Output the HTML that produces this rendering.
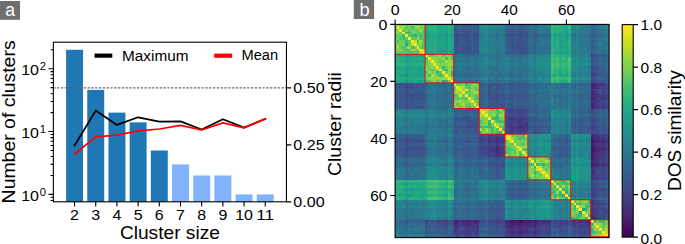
<!DOCTYPE html>
<html><head><meta charset="utf-8"><style>
html,body{margin:0;padding:0;background:#fff;width:685px;height:244px;overflow:hidden}
svg{display:block}
text{font-family:"Liberation Sans",sans-serif;fill:#000}
</style></head><body>
<svg width="685" height="244" viewBox="0 0 685 244" font-family="Liberation Sans, sans-serif">
<defs><linearGradient id="cb" x1="0" y1="0" x2="0" y2="1"><stop offset="0.00" stop-color="#fde725"/><stop offset="0.05" stop-color="#dfe318"/><stop offset="0.10" stop-color="#bddf26"/><stop offset="0.15" stop-color="#9bd93c"/><stop offset="0.20" stop-color="#7ad151"/><stop offset="0.25" stop-color="#5ec962"/><stop offset="0.30" stop-color="#44bf70"/><stop offset="0.35" stop-color="#2fb47c"/><stop offset="0.40" stop-color="#22a884"/><stop offset="0.45" stop-color="#1e9c89"/><stop offset="0.50" stop-color="#21918c"/><stop offset="0.55" stop-color="#25848e"/><stop offset="0.60" stop-color="#2a788e"/><stop offset="0.65" stop-color="#2f6c8e"/><stop offset="0.70" stop-color="#355f8d"/><stop offset="0.75" stop-color="#3b528b"/><stop offset="0.80" stop-color="#414487"/><stop offset="0.85" stop-color="#463480"/><stop offset="0.90" stop-color="#482475"/><stop offset="0.95" stop-color="#471365"/><stop offset="1.00" stop-color="#440154"/></linearGradient></defs>
<rect x="0" y="0" width="685" height="244" fill="#fff"/>
<rect x="0" y="1" width="20" height="18.8" fill="#6f6f6f"/>
<text x="10.15" y="15.8" font-size="17.6" text-anchor="middle" style="fill:#fff">a</text>
<rect x="66.08" y="49.78" width="16.95" height="152.02" fill="#1f77b4"/>
<rect x="87.27" y="89.90" width="16.95" height="111.90" fill="#1f77b4"/>
<rect x="108.46" y="112.63" width="16.95" height="89.17" fill="#1f77b4"/>
<rect x="129.65" y="122.37" width="16.95" height="79.43" fill="#1f77b4"/>
<rect x="150.84" y="150.47" width="16.95" height="51.33" fill="#1f77b4"/>
<rect x="172.03" y="164.41" width="16.95" height="37.39" fill="#80b3fb"/>
<rect x="193.22" y="175.48" width="16.95" height="26.32" fill="#80b3fb"/>
<rect x="214.41" y="175.48" width="16.95" height="26.32" fill="#80b3fb"/>
<rect x="235.59" y="194.40" width="16.95" height="7.40" fill="#80b3fb"/>
<rect x="256.78" y="194.40" width="16.95" height="7.40" fill="#80b3fb"/>
<line x1="53.36" y1="87.9" x2="286.45" y2="87.9" stroke="#666" stroke-width="1.1" stroke-dasharray="2.3 1.5"/>
<polyline points="74.55,145.50 95.74,110.60 116.93,124.90 138.12,117.30 159.31,121.70 180.50,121.40 201.69,129.50 222.88,119.20 244.07,127.60 265.26,118.80" fill="none" stroke="#000" stroke-width="1.75" stroke-linejoin="round" stroke-linecap="square"/>
<polyline points="74.55,154.20 95.74,136.90 116.93,135.20 138.12,130.90 159.31,129.00 180.50,125.40 201.69,130.00 222.88,122.90 244.07,127.80 265.26,119.00" fill="none" stroke="#ff0000" stroke-width="1.75" stroke-linejoin="round" stroke-linecap="square"/>
<line x1="94.5" y1="55.65" x2="112.3" y2="55.65" stroke="#000" stroke-width="4.2"/>
<line x1="214.2" y1="55.7" x2="232.2" y2="55.7" stroke="#ff0000" stroke-width="4.2"/>
<text x="122.0" y="60.6" font-size="15.2" text-anchor="start" textLength="66.5" lengthAdjust="spacingAndGlyphs">Maximum</text>
<text x="241.6" y="60.3" font-size="15.2" text-anchor="start" textLength="36.5" lengthAdjust="spacingAndGlyphs">Mean</text>
<rect x="53.36" y="42.2" width="233.09" height="159.60" fill="none" stroke="#000" stroke-width="1.1"/>
<path d="M74.55 201.8V206.60000000000002M95.74 201.8V206.60000000000002M116.93 201.8V206.60000000000002M138.12 201.8V206.60000000000002M159.31 201.8V206.60000000000002M180.50 201.8V206.60000000000002M201.69 201.8V206.60000000000002M222.88 201.8V206.60000000000002M244.07 201.8V206.60000000000002M265.26 201.8V206.60000000000002M48.46 194.40H53.36M48.46 131.55H53.36M48.46 68.70H53.36M50.56 200.49H53.36M50.56 197.28H53.36M50.56 175.48H53.36M50.56 164.41H53.36M50.56 156.56H53.36M50.56 150.47H53.36M50.56 145.49H53.36M50.56 141.29H53.36M50.56 137.64H53.36M50.56 134.43H53.36M50.56 112.63H53.36M50.56 101.56H53.36M50.56 93.71H53.36M50.56 87.62H53.36M50.56 82.64H53.36M50.56 78.44H53.36M50.56 74.79H53.36M50.56 71.58H53.36M50.56 49.78H53.36M286.45 201.90H291.25M286.45 144.90H291.25M286.45 87.90H291.25" stroke="#000" stroke-width="1.1" fill="none"/>
<text x="74.55" y="219.9" font-size="15.2" text-anchor="middle" textLength="8.9" lengthAdjust="spacingAndGlyphs">2</text>
<text x="95.74" y="219.9" font-size="15.2" text-anchor="middle" textLength="8.9" lengthAdjust="spacingAndGlyphs">3</text>
<text x="116.93" y="219.9" font-size="15.2" text-anchor="middle" textLength="8.9" lengthAdjust="spacingAndGlyphs">4</text>
<text x="138.12" y="219.9" font-size="15.2" text-anchor="middle" textLength="8.9" lengthAdjust="spacingAndGlyphs">5</text>
<text x="159.31" y="219.9" font-size="15.2" text-anchor="middle" textLength="8.9" lengthAdjust="spacingAndGlyphs">6</text>
<text x="180.50" y="219.9" font-size="15.2" text-anchor="middle" textLength="8.9" lengthAdjust="spacingAndGlyphs">7</text>
<text x="201.69" y="219.9" font-size="15.2" text-anchor="middle" textLength="8.9" lengthAdjust="spacingAndGlyphs">8</text>
<text x="222.88" y="219.9" font-size="15.2" text-anchor="middle" textLength="8.9" lengthAdjust="spacingAndGlyphs">9</text>
<text x="244.07" y="219.9" font-size="15.2" text-anchor="middle" textLength="17.8" lengthAdjust="spacingAndGlyphs">10</text>
<text x="265.26" y="219.9" font-size="15.2" text-anchor="middle" textLength="17.8" lengthAdjust="spacingAndGlyphs">11</text>
<text x="21.2" y="200.70" font-size="15.2" text-anchor="start" textLength="17.8" lengthAdjust="spacingAndGlyphs">10</text>
<text x="39.8" y="195.70" font-size="10.0" text-anchor="start" textLength="6.2" lengthAdjust="spacingAndGlyphs">0</text>
<text x="21.2" y="137.85" font-size="15.2" text-anchor="start" textLength="17.8" lengthAdjust="spacingAndGlyphs">10</text>
<text x="39.8" y="132.85" font-size="10.0" text-anchor="start" textLength="6.2" lengthAdjust="spacingAndGlyphs">1</text>
<text x="21.2" y="75.00" font-size="15.2" text-anchor="start" textLength="17.8" lengthAdjust="spacingAndGlyphs">10</text>
<text x="39.8" y="70.00" font-size="10.0" text-anchor="start" textLength="6.2" lengthAdjust="spacingAndGlyphs">2</text>
<text x="293.3" y="207.10" font-size="15.2" text-anchor="start" textLength="31.3" lengthAdjust="spacingAndGlyphs">0.00</text>
<text x="293.3" y="150.10" font-size="15.2" text-anchor="start" textLength="31.3" lengthAdjust="spacingAndGlyphs">0.25</text>
<text x="293.3" y="93.10" font-size="15.2" text-anchor="start" textLength="31.3" lengthAdjust="spacingAndGlyphs">0.50</text>
<text x="169.9" y="238.5" font-size="18.2" text-anchor="middle" textLength="100.0" lengthAdjust="spacingAndGlyphs">Cluster size</text>
<text transform="translate(15.3 121.9) rotate(-90)" font-size="18.2" text-anchor="middle" textLength="163" lengthAdjust="spacingAndGlyphs">Number of clusters</text>
<text transform="translate(341.2 124.1) rotate(-90)" font-size="18.2" text-anchor="middle" textLength="104" lengthAdjust="spacingAndGlyphs">Cluster radii</text>
<rect x="353.8" y="0" width="20.3" height="19" fill="#6f6f6f"/>
<text x="364.6" y="15.5" font-size="18.2" text-anchor="middle" style="fill:#fff">b</text>
<clipPath id="hc"><rect x="395.1" y="24.4" width="214.00" height="213.20"/></clipPath>
<g clip-path="url(#hc)"><g transform="translate(395.1 24.4) scale(2.85500 2.85100)" shape-rendering="crispEdges"><path fill="#471063" d="M68.5 40.5H69.5V41.5H68.5zM68.5 43.5H69.5V44.5H68.5zM40.5 68.5H41.5V69.5H40.5zM43.5 68.5H44.5V69.5H43.5z"/><path fill="#48186a" d="M68.5 42.5H69.5V43.5H68.5zM68.5 44.5H69.5V45.5H68.5zM68.5 46.5H69.5V47.5H68.5zM68.5 48.5H69.5V49.5H68.5zM42.5 68.5H43.5V69.5H42.5zM44.5 68.5H45.5V69.5H44.5zM46.5 68.5H47.5V69.5H46.5zM48.5 68.5H49.5V69.5H48.5z"/><path fill="#481f70" d="M68.5 20.5H69.5V21.5H68.5zM68.5 21.5H69.5V22.5H68.5zM68.5 27.5H69.5V28.5H68.5zM68.5 39.5H69.5V40.5H68.5zM69.5 40.5H70.5V41.5H69.5zM68.5 41.5H69.5V42.5H68.5zM69.5 42.5H70.5V43.5H69.5zM69.5 43.5H70.5V44.5H69.5zM68.5 45.5H69.5V46.5H68.5zM69.5 48.5H70.5V49.5H69.5zM20.5 68.5H22.5V69.5H20.5zM27.5 68.5H28.5V69.5H27.5zM39.5 68.5H40.5V69.5H39.5zM41.5 68.5H42.5V69.5H41.5zM45.5 68.5H46.5V69.5H45.5zM40.5 69.5H41.5V70.5H40.5zM42.5 69.5H44.5V70.5H42.5zM48.5 69.5H49.5V70.5H48.5z"/><path fill="#482576" d="M69.5 20.5H70.5V21.5H69.5zM68.5 23.5H69.5V24.5H68.5zM68.5 24.5H69.5V25.5H68.5zM68.5 25.5H70.5V26.5H68.5zM68.5 28.5H69.5V29.5H68.5zM43.5 35.5H44.5V36.5H43.5zM68.5 38.5H69.5V39.5H68.5zM70.5 39.5H71.5V40.5H70.5zM70.5 40.5H71.5V41.5H70.5zM72.5 40.5H73.5V41.5H72.5zM74.5 40.5H75.5V41.5H74.5zM35.5 43.5H36.5V44.5H35.5zM70.5 43.5H71.5V44.5H70.5zM72.5 43.5H73.5V44.5H72.5zM74.5 43.5H75.5V44.5H74.5zM69.5 44.5H70.5V45.5H69.5zM69.5 45.5H70.5V46.5H69.5zM68.5 47.5H69.5V48.5H68.5zM70.5 48.5H71.5V49.5H70.5zM72.5 48.5H73.5V49.5H72.5zM68.5 49.5H69.5V50.5H68.5zM68.5 51.5H69.5V52.5H68.5zM68.5 67.5H69.5V68.5H68.5zM23.5 68.5H26.5V69.5H23.5zM28.5 68.5H29.5V69.5H28.5zM38.5 68.5H39.5V69.5H38.5zM47.5 68.5H48.5V69.5H47.5zM49.5 68.5H50.5V69.5H49.5zM51.5 68.5H52.5V69.5H51.5zM67.5 68.5H68.5V69.5H67.5zM20.5 69.5H21.5V70.5H20.5zM25.5 69.5H26.5V70.5H25.5zM44.5 69.5H46.5V70.5H44.5zM39.5 70.5H41.5V71.5H39.5zM43.5 70.5H44.5V71.5H43.5zM48.5 70.5H49.5V71.5H48.5zM40.5 72.5H41.5V73.5H40.5zM43.5 72.5H44.5V73.5H43.5zM48.5 72.5H49.5V73.5H48.5zM40.5 74.5H41.5V75.5H40.5zM43.5 74.5H44.5V75.5H43.5z"/><path fill="#472d7b" d="M69.5 21.5H70.5V22.5H69.5zM69.5 24.5H71.5V25.5H69.5zM68.5 26.5H69.5V27.5H68.5zM69.5 28.5H70.5V29.5H69.5zM69.5 39.5H70.5V40.5H69.5zM74.5 39.5H75.5V40.5H74.5zM69.5 41.5H70.5V42.5H69.5zM70.5 42.5H71.5V43.5H70.5zM74.5 42.5H75.5V43.5H74.5zM71.5 43.5H72.5V44.5H71.5zM70.5 44.5H71.5V45.5H70.5zM74.5 44.5H75.5V45.5H74.5zM74.5 45.5H75.5V46.5H74.5zM69.5 46.5H71.5V47.5H69.5zM74.5 48.5H75.5V49.5H74.5zM69.5 49.5H70.5V50.5H69.5zM68.5 52.5H69.5V53.5H68.5zM68.5 53.5H69.5V54.5H68.5zM68.5 64.5H69.5V65.5H68.5zM68.5 66.5H69.5V67.5H68.5zM69.5 67.5H70.5V68.5H69.5zM26.5 68.5H27.5V69.5H26.5zM52.5 68.5H54.5V69.5H52.5zM64.5 68.5H65.5V69.5H64.5zM66.5 68.5H67.5V69.5H66.5zM21.5 69.5H22.5V70.5H21.5zM24.5 69.5H25.5V70.5H24.5zM28.5 69.5H29.5V70.5H28.5zM39.5 69.5H40.5V70.5H39.5zM41.5 69.5H42.5V70.5H41.5zM46.5 69.5H47.5V70.5H46.5zM49.5 69.5H50.5V70.5H49.5zM67.5 69.5H68.5V70.5H67.5zM24.5 70.5H25.5V71.5H24.5zM42.5 70.5H43.5V71.5H42.5zM44.5 70.5H45.5V71.5H44.5zM46.5 70.5H47.5V71.5H46.5zM43.5 71.5H44.5V72.5H43.5zM39.5 74.5H40.5V75.5H39.5zM42.5 74.5H43.5V75.5H42.5zM44.5 74.5H46.5V75.5H44.5zM48.5 74.5H49.5V75.5H48.5z"/><path fill="#46337f" d="M70.5 20.5H73.5V21.5H70.5zM74.5 20.5H75.5V21.5H74.5zM70.5 21.5H71.5V22.5H70.5zM74.5 21.5H75.5V22.5H74.5zM68.5 22.5H69.5V23.5H68.5zM69.5 23.5H70.5V24.5H69.5zM74.5 24.5H75.5V25.5H74.5zM74.5 25.5H75.5V26.5H74.5zM70.5 26.5H71.5V27.5H70.5zM69.5 27.5H70.5V28.5H69.5zM70.5 28.5H71.5V29.5H70.5zM72.5 28.5H73.5V29.5H72.5zM74.5 28.5H75.5V29.5H74.5zM40.5 32.5H41.5V33.5H40.5zM43.5 33.5H44.5V34.5H43.5zM39.5 35.5H41.5V36.5H39.5zM42.5 35.5H43.5V36.5H42.5zM44.5 35.5H46.5V36.5H44.5zM40.5 36.5H41.5V37.5H40.5zM69.5 38.5H71.5V39.5H69.5zM74.5 38.5H75.5V39.5H74.5zM35.5 39.5H36.5V40.5H35.5zM72.5 39.5H73.5V40.5H72.5zM32.5 40.5H33.5V41.5H32.5zM35.5 40.5H37.5V41.5H35.5zM71.5 40.5H72.5V41.5H71.5zM73.5 40.5H74.5V41.5H73.5zM70.5 41.5H71.5V42.5H70.5zM72.5 41.5H73.5V42.5H72.5zM74.5 41.5H75.5V42.5H74.5zM35.5 42.5H36.5V43.5H35.5zM71.5 42.5H73.5V43.5H71.5zM33.5 43.5H34.5V44.5H33.5zM35.5 44.5H36.5V45.5H35.5zM71.5 44.5H73.5V45.5H71.5zM35.5 45.5H36.5V46.5H35.5zM70.5 45.5H73.5V46.5H70.5zM74.5 46.5H75.5V47.5H74.5zM69.5 47.5H71.5V48.5H69.5zM74.5 49.5H75.5V50.5H74.5zM68.5 50.5H69.5V51.5H68.5zM69.5 51.5H70.5V52.5H69.5zM68.5 61.5H69.5V62.5H68.5zM68.5 62.5H69.5V63.5H68.5zM68.5 65.5H69.5V66.5H68.5zM22.5 68.5H23.5V69.5H22.5zM50.5 68.5H51.5V69.5H50.5zM61.5 68.5H63.5V69.5H61.5zM65.5 68.5H66.5V69.5H65.5zM23.5 69.5H24.5V70.5H23.5zM27.5 69.5H28.5V70.5H27.5zM38.5 69.5H39.5V70.5H38.5zM47.5 69.5H48.5V70.5H47.5zM51.5 69.5H52.5V70.5H51.5zM20.5 70.5H22.5V71.5H20.5zM26.5 70.5H27.5V71.5H26.5zM28.5 70.5H29.5V71.5H28.5zM38.5 70.5H39.5V71.5H38.5zM41.5 70.5H42.5V71.5H41.5zM45.5 70.5H46.5V71.5H45.5zM47.5 70.5H48.5V71.5H47.5zM20.5 71.5H21.5V72.5H20.5zM40.5 71.5H41.5V72.5H40.5zM42.5 71.5H43.5V72.5H42.5zM44.5 71.5H46.5V72.5H44.5zM20.5 72.5H21.5V73.5H20.5zM28.5 72.5H29.5V73.5H28.5zM39.5 72.5H40.5V73.5H39.5zM41.5 72.5H43.5V73.5H41.5zM44.5 72.5H46.5V73.5H44.5zM40.5 73.5H41.5V74.5H40.5zM20.5 74.5H22.5V75.5H20.5zM24.5 74.5H26.5V75.5H24.5zM28.5 74.5H29.5V75.5H28.5zM38.5 74.5H39.5V75.5H38.5zM41.5 74.5H42.5V75.5H41.5zM46.5 74.5H47.5V75.5H46.5zM49.5 74.5H50.5V75.5H49.5z"/><path fill="#443983" d="M68.5 17.5H69.5V18.5H68.5zM72.5 23.5H73.5V24.5H72.5zM74.5 23.5H75.5V24.5H74.5zM72.5 24.5H73.5V25.5H72.5zM70.5 25.5H73.5V26.5H70.5zM69.5 26.5H70.5V27.5H69.5zM74.5 26.5H75.5V27.5H74.5zM70.5 27.5H71.5V28.5H70.5zM72.5 27.5H73.5V28.5H72.5zM74.5 27.5H75.5V28.5H74.5zM71.5 28.5H72.5V29.5H71.5zM39.5 32.5H40.5V33.5H39.5zM43.5 32.5H45.5V33.5H43.5zM40.5 33.5H41.5V34.5H40.5zM39.5 34.5H41.5V35.5H39.5zM43.5 34.5H46.5V35.5H43.5zM41.5 35.5H42.5V36.5H41.5zM68.5 35.5H69.5V36.5H68.5zM42.5 36.5H46.5V37.5H42.5zM39.5 37.5H41.5V38.5H39.5zM43.5 37.5H44.5V38.5H43.5zM72.5 38.5H73.5V39.5H72.5zM32.5 39.5H33.5V40.5H32.5zM34.5 39.5H35.5V40.5H34.5zM37.5 39.5H38.5V40.5H37.5zM71.5 39.5H72.5V40.5H71.5zM33.5 40.5H35.5V41.5H33.5zM37.5 40.5H38.5V41.5H37.5zM35.5 41.5H36.5V42.5H35.5zM71.5 41.5H72.5V42.5H71.5zM36.5 42.5H37.5V43.5H36.5zM73.5 42.5H74.5V43.5H73.5zM32.5 43.5H33.5V44.5H32.5zM34.5 43.5H35.5V44.5H34.5zM36.5 43.5H38.5V44.5H36.5zM73.5 43.5H74.5V44.5H73.5zM32.5 44.5H33.5V45.5H32.5zM34.5 44.5H35.5V45.5H34.5zM36.5 44.5H37.5V45.5H36.5zM34.5 45.5H35.5V46.5H34.5zM36.5 45.5H37.5V46.5H36.5zM72.5 46.5H73.5V47.5H72.5zM72.5 47.5H73.5V48.5H72.5zM74.5 47.5H75.5V48.5H74.5zM71.5 48.5H72.5V49.5H71.5zM73.5 48.5H74.5V49.5H73.5zM70.5 49.5H71.5V50.5H70.5zM72.5 49.5H73.5V50.5H72.5zM69.5 50.5H70.5V51.5H69.5zM74.5 51.5H75.5V52.5H74.5zM69.5 52.5H70.5V53.5H69.5zM69.5 53.5H71.5V54.5H69.5zM68.5 55.5H69.5V56.5H68.5zM68.5 57.5H69.5V58.5H68.5zM68.5 59.5H69.5V60.5H68.5zM69.5 62.5H71.5V63.5H69.5zM68.5 63.5H69.5V64.5H68.5zM69.5 64.5H70.5V65.5H69.5zM74.5 64.5H75.5V65.5H74.5zM70.5 65.5H71.5V66.5H70.5zM69.5 66.5H70.5V67.5H69.5zM70.5 67.5H71.5V68.5H70.5zM74.5 67.5H75.5V68.5H74.5zM17.5 68.5H18.5V69.5H17.5zM35.5 68.5H36.5V69.5H35.5zM55.5 68.5H56.5V69.5H55.5zM57.5 68.5H58.5V69.5H57.5zM59.5 68.5H60.5V69.5H59.5zM63.5 68.5H64.5V69.5H63.5zM26.5 69.5H27.5V70.5H26.5zM50.5 69.5H51.5V70.5H50.5zM52.5 69.5H54.5V70.5H52.5zM62.5 69.5H63.5V70.5H62.5zM64.5 69.5H65.5V70.5H64.5zM66.5 69.5H67.5V70.5H66.5zM25.5 70.5H26.5V71.5H25.5zM27.5 70.5H28.5V71.5H27.5zM49.5 70.5H50.5V71.5H49.5zM53.5 70.5H54.5V71.5H53.5zM62.5 70.5H63.5V71.5H62.5zM65.5 70.5H66.5V71.5H65.5zM67.5 70.5H68.5V71.5H67.5zM25.5 71.5H26.5V72.5H25.5zM28.5 71.5H29.5V72.5H28.5zM39.5 71.5H40.5V72.5H39.5zM41.5 71.5H42.5V72.5H41.5zM48.5 71.5H49.5V72.5H48.5zM23.5 72.5H26.5V73.5H23.5zM27.5 72.5H28.5V73.5H27.5zM38.5 72.5H39.5V73.5H38.5zM46.5 72.5H48.5V73.5H46.5zM49.5 72.5H50.5V73.5H49.5zM42.5 73.5H44.5V74.5H42.5zM48.5 73.5H49.5V74.5H48.5zM23.5 74.5H24.5V75.5H23.5zM26.5 74.5H28.5V75.5H26.5zM47.5 74.5H48.5V75.5H47.5zM51.5 74.5H52.5V75.5H51.5zM64.5 74.5H65.5V75.5H64.5zM67.5 74.5H68.5V75.5H67.5z"/><path fill="#424086" d="M43.5 3.5H44.5V4.5H43.5zM68.5 10.5H69.5V11.5H68.5zM68.5 14.5H69.5V15.5H68.5zM68.5 16.5H69.5V17.5H68.5zM71.5 21.5H74.5V22.5H71.5zM69.5 22.5H70.5V23.5H69.5zM74.5 22.5H75.5V23.5H74.5zM70.5 23.5H71.5V24.5H70.5zM71.5 24.5H72.5V25.5H71.5zM73.5 24.5H74.5V25.5H73.5zM73.5 25.5H74.5V26.5H73.5zM71.5 26.5H72.5V27.5H71.5zM39.5 29.5H41.5V30.5H39.5zM42.5 29.5H44.5V30.5H42.5zM40.5 30.5H41.5V31.5H40.5zM43.5 30.5H44.5V31.5H43.5zM41.5 32.5H43.5V33.5H41.5zM45.5 32.5H46.5V33.5H45.5zM42.5 33.5H43.5V34.5H42.5zM44.5 33.5H45.5V34.5H44.5zM68.5 33.5H69.5V34.5H68.5zM42.5 34.5H43.5V35.5H42.5zM38.5 35.5H39.5V36.5H38.5zM39.5 36.5H40.5V37.5H39.5zM68.5 36.5H69.5V37.5H68.5zM42.5 37.5H43.5V38.5H42.5zM44.5 37.5H46.5V38.5H44.5zM35.5 38.5H36.5V39.5H35.5zM73.5 38.5H74.5V39.5H73.5zM29.5 39.5H30.5V40.5H29.5zM36.5 39.5H37.5V40.5H36.5zM73.5 39.5H74.5V40.5H73.5zM29.5 40.5H31.5V41.5H29.5zM32.5 41.5H33.5V42.5H32.5zM73.5 41.5H74.5V42.5H73.5zM29.5 42.5H30.5V43.5H29.5zM32.5 42.5H35.5V43.5H32.5zM37.5 42.5H38.5V43.5H37.5zM3.5 43.5H4.5V44.5H3.5zM29.5 43.5H31.5V44.5H29.5zM33.5 44.5H34.5V45.5H33.5zM37.5 44.5H38.5V45.5H37.5zM73.5 44.5H74.5V45.5H73.5zM32.5 45.5H33.5V46.5H32.5zM37.5 45.5H38.5V46.5H37.5zM73.5 45.5H74.5V46.5H73.5zM71.5 46.5H72.5V47.5H71.5zM71.5 49.5H72.5V50.5H71.5zM73.5 49.5H74.5V50.5H73.5zM70.5 50.5H71.5V51.5H70.5zM74.5 50.5H75.5V51.5H74.5zM70.5 52.5H71.5V53.5H70.5zM72.5 52.5H73.5V53.5H72.5zM74.5 52.5H75.5V53.5H74.5zM72.5 53.5H73.5V54.5H72.5zM74.5 53.5H75.5V54.5H74.5zM69.5 57.5H71.5V58.5H69.5zM68.5 58.5H70.5V59.5H68.5zM69.5 59.5H70.5V60.5H69.5zM69.5 61.5H70.5V62.5H69.5zM72.5 62.5H73.5V63.5H72.5zM74.5 62.5H75.5V63.5H74.5zM70.5 64.5H71.5V65.5H70.5zM72.5 64.5H73.5V65.5H72.5zM69.5 65.5H70.5V66.5H69.5zM74.5 65.5H75.5V66.5H74.5zM70.5 66.5H71.5V67.5H70.5zM74.5 66.5H75.5V67.5H74.5zM72.5 67.5H73.5V68.5H72.5zM10.5 68.5H11.5V69.5H10.5zM14.5 68.5H15.5V69.5H14.5zM16.5 68.5H17.5V69.5H16.5zM33.5 68.5H34.5V69.5H33.5zM36.5 68.5H37.5V69.5H36.5zM58.5 68.5H59.5V69.5H58.5zM22.5 69.5H23.5V70.5H22.5zM57.5 69.5H60.5V70.5H57.5zM61.5 69.5H62.5V70.5H61.5zM65.5 69.5H66.5V70.5H65.5zM23.5 70.5H24.5V71.5H23.5zM50.5 70.5H51.5V71.5H50.5zM52.5 70.5H53.5V71.5H52.5zM57.5 70.5H58.5V71.5H57.5zM64.5 70.5H65.5V71.5H64.5zM66.5 70.5H67.5V71.5H66.5zM21.5 71.5H22.5V72.5H21.5zM24.5 71.5H25.5V72.5H24.5zM26.5 71.5H27.5V72.5H26.5zM46.5 71.5H47.5V72.5H46.5zM49.5 71.5H50.5V72.5H49.5zM21.5 72.5H22.5V73.5H21.5zM52.5 72.5H54.5V73.5H52.5zM62.5 72.5H63.5V73.5H62.5zM64.5 72.5H65.5V73.5H64.5zM67.5 72.5H68.5V73.5H67.5zM21.5 73.5H22.5V74.5H21.5zM24.5 73.5H26.5V74.5H24.5zM38.5 73.5H40.5V74.5H38.5zM41.5 73.5H42.5V74.5H41.5zM44.5 73.5H46.5V74.5H44.5zM49.5 73.5H50.5V74.5H49.5zM22.5 74.5H23.5V75.5H22.5zM50.5 74.5H51.5V75.5H50.5zM52.5 74.5H54.5V75.5H52.5zM62.5 74.5H63.5V75.5H62.5zM65.5 74.5H67.5V75.5H65.5z"/><path fill="#404688" d="M21.5 3.5H22.5V4.5H21.5zM28.5 3.5H29.5V4.5H28.5zM39.5 3.5H41.5V4.5H39.5zM68.5 15.5H69.5V16.5H68.5zM69.5 17.5H70.5V18.5H69.5zM68.5 19.5H69.5V20.5H68.5zM3.5 21.5H4.5V22.5H3.5zM70.5 22.5H71.5V23.5H70.5zM72.5 22.5H73.5V23.5H72.5zM72.5 26.5H73.5V27.5H72.5zM71.5 27.5H72.5V28.5H71.5zM3.5 28.5H4.5V29.5H3.5zM35.5 28.5H36.5V29.5H35.5zM73.5 28.5H74.5V29.5H73.5zM41.5 29.5H42.5V30.5H41.5zM44.5 29.5H46.5V30.5H44.5zM68.5 29.5H69.5V30.5H68.5zM39.5 30.5H40.5V31.5H39.5zM42.5 30.5H43.5V31.5H42.5zM44.5 30.5H45.5V31.5H44.5zM43.5 31.5H44.5V32.5H43.5zM38.5 32.5H39.5V33.5H38.5zM68.5 32.5H69.5V33.5H68.5zM38.5 33.5H40.5V34.5H38.5zM45.5 33.5H46.5V34.5H45.5zM38.5 34.5H39.5V35.5H38.5zM68.5 34.5H70.5V35.5H68.5zM28.5 35.5H29.5V36.5H28.5zM48.5 35.5H49.5V36.5H48.5zM69.5 35.5H71.5V36.5H69.5zM41.5 37.5H42.5V38.5H41.5zM48.5 37.5H49.5V38.5H48.5zM68.5 37.5H69.5V38.5H68.5zM32.5 38.5H35.5V39.5H32.5zM71.5 38.5H72.5V39.5H71.5zM3.5 39.5H4.5V40.5H3.5zM30.5 39.5H31.5V40.5H30.5zM33.5 39.5H34.5V40.5H33.5zM3.5 40.5H4.5V41.5H3.5zM29.5 41.5H30.5V42.5H29.5zM37.5 41.5H38.5V42.5H37.5zM30.5 42.5H31.5V43.5H30.5zM31.5 43.5H32.5V44.5H31.5zM29.5 44.5H31.5V45.5H29.5zM29.5 45.5H30.5V46.5H29.5zM33.5 45.5H34.5V46.5H33.5zM73.5 46.5H74.5V47.5H73.5zM71.5 47.5H72.5V48.5H71.5zM73.5 47.5H74.5V48.5H73.5zM35.5 48.5H36.5V49.5H35.5zM37.5 48.5H38.5V49.5H37.5zM71.5 50.5H73.5V51.5H71.5zM70.5 51.5H71.5V52.5H70.5zM72.5 51.5H73.5V52.5H72.5zM71.5 52.5H72.5V53.5H71.5zM71.5 53.5H72.5V54.5H71.5zM69.5 55.5H70.5V56.5H69.5zM68.5 56.5H69.5V57.5H68.5zM74.5 57.5H75.5V58.5H74.5zM74.5 59.5H75.5V60.5H74.5zM70.5 61.5H71.5V62.5H70.5zM74.5 61.5H75.5V62.5H74.5zM70.5 63.5H71.5V64.5H70.5zM71.5 64.5H72.5V65.5H71.5zM72.5 65.5H73.5V66.5H72.5zM72.5 66.5H73.5V67.5H72.5zM71.5 67.5H72.5V68.5H71.5zM15.5 68.5H16.5V69.5H15.5zM19.5 68.5H20.5V69.5H19.5zM29.5 68.5H30.5V69.5H29.5zM32.5 68.5H33.5V69.5H32.5zM34.5 68.5H35.5V69.5H34.5zM37.5 68.5H38.5V69.5H37.5zM56.5 68.5H57.5V69.5H56.5zM17.5 69.5H18.5V70.5H17.5zM34.5 69.5H36.5V70.5H34.5zM55.5 69.5H56.5V70.5H55.5zM22.5 70.5H23.5V71.5H22.5zM35.5 70.5H36.5V71.5H35.5zM51.5 70.5H52.5V71.5H51.5zM61.5 70.5H62.5V71.5H61.5zM63.5 70.5H64.5V71.5H63.5zM27.5 71.5H28.5V72.5H27.5zM38.5 71.5H39.5V72.5H38.5zM47.5 71.5H48.5V72.5H47.5zM50.5 71.5H51.5V72.5H50.5zM52.5 71.5H54.5V72.5H52.5zM64.5 71.5H65.5V72.5H64.5zM67.5 71.5H68.5V72.5H67.5zM22.5 72.5H23.5V73.5H22.5zM26.5 72.5H27.5V73.5H26.5zM50.5 72.5H52.5V73.5H50.5zM65.5 72.5H67.5V73.5H65.5zM28.5 73.5H29.5V74.5H28.5zM46.5 73.5H48.5V74.5H46.5zM57.5 74.5H58.5V75.5H57.5zM59.5 74.5H60.5V75.5H59.5zM61.5 74.5H62.5V75.5H61.5z"/><path fill="#3e4c8a" d="M20.5 1.5H21.5V2.5H20.5zM20.5 3.5H21.5V4.5H20.5zM23.5 3.5H26.5V4.5H23.5zM27.5 3.5H28.5V4.5H27.5zM45.5 3.5H46.5V4.5H45.5zM20.5 4.5H21.5V5.5H20.5zM20.5 5.5H22.5V6.5H20.5zM24.5 5.5H25.5V6.5H24.5zM42.5 6.5H43.5V7.5H42.5zM24.5 7.5H26.5V8.5H24.5zM40.5 7.5H41.5V8.5H40.5zM42.5 7.5H44.5V8.5H42.5zM28.5 8.5H29.5V9.5H28.5zM20.5 9.5H21.5V10.5H20.5zM43.5 9.5H44.5V10.5H43.5zM69.5 10.5H70.5V11.5H69.5zM68.5 12.5H69.5V13.5H68.5zM69.5 15.5H70.5V16.5H69.5zM69.5 16.5H70.5V17.5H69.5zM70.5 17.5H71.5V18.5H70.5zM74.5 17.5H75.5V18.5H74.5zM69.5 19.5H70.5V20.5H69.5zM1.5 20.5H2.5V21.5H1.5zM3.5 20.5H6.5V21.5H3.5zM9.5 20.5H10.5V21.5H9.5zM35.5 20.5H36.5V21.5H35.5zM73.5 20.5H74.5V21.5H73.5zM5.5 21.5H6.5V22.5H5.5zM32.5 21.5H33.5V22.5H32.5zM3.5 23.5H4.5V24.5H3.5zM71.5 23.5H72.5V24.5H71.5zM73.5 23.5H74.5V24.5H73.5zM3.5 24.5H4.5V25.5H3.5zM5.5 24.5H6.5V25.5H5.5zM7.5 24.5H8.5V25.5H7.5zM32.5 24.5H33.5V25.5H32.5zM35.5 24.5H36.5V25.5H35.5zM40.5 24.5H41.5V25.5H40.5zM3.5 25.5H4.5V26.5H3.5zM7.5 25.5H8.5V26.5H7.5zM33.5 25.5H34.5V26.5H33.5zM35.5 25.5H36.5V26.5H35.5zM3.5 27.5H4.5V28.5H3.5zM73.5 27.5H74.5V28.5H73.5zM8.5 28.5H9.5V29.5H8.5zM38.5 29.5H39.5V30.5H38.5zM38.5 30.5H39.5V31.5H38.5zM68.5 30.5H69.5V31.5H68.5zM40.5 31.5H41.5V32.5H40.5zM42.5 31.5H43.5V32.5H42.5zM44.5 31.5H46.5V32.5H44.5zM21.5 32.5H22.5V33.5H21.5zM24.5 32.5H25.5V33.5H24.5zM69.5 32.5H70.5V33.5H69.5zM25.5 33.5H26.5V34.5H25.5zM41.5 33.5H42.5V34.5H41.5zM41.5 34.5H42.5V35.5H41.5zM20.5 35.5H21.5V36.5H20.5zM24.5 35.5H26.5V36.5H24.5zM46.5 35.5H47.5V36.5H46.5zM72.5 35.5H73.5V36.5H72.5zM74.5 35.5H75.5V36.5H74.5zM38.5 36.5H39.5V37.5H38.5zM41.5 36.5H42.5V37.5H41.5zM48.5 36.5H49.5V37.5H48.5zM69.5 36.5H70.5V37.5H69.5zM38.5 37.5H39.5V38.5H38.5zM69.5 37.5H71.5V38.5H69.5zM29.5 38.5H31.5V39.5H29.5zM36.5 38.5H38.5V39.5H36.5zM7.5 40.5H8.5V41.5H7.5zM24.5 40.5H25.5V41.5H24.5zM31.5 40.5H32.5V41.5H31.5zM33.5 41.5H35.5V42.5H33.5zM36.5 41.5H37.5V42.5H36.5zM6.5 42.5H8.5V43.5H6.5zM31.5 42.5H32.5V43.5H31.5zM7.5 43.5H8.5V44.5H7.5zM9.5 43.5H10.5V44.5H9.5zM31.5 44.5H32.5V45.5H31.5zM3.5 45.5H4.5V46.5H3.5zM31.5 45.5H32.5V46.5H31.5zM35.5 46.5H36.5V47.5H35.5zM36.5 48.5H37.5V49.5H36.5zM73.5 50.5H74.5V51.5H73.5zM71.5 51.5H72.5V52.5H71.5zM73.5 53.5H74.5V54.5H73.5zM68.5 54.5H69.5V55.5H68.5zM70.5 55.5H71.5V56.5H70.5zM72.5 55.5H73.5V56.5H72.5zM74.5 55.5H75.5V56.5H74.5zM69.5 56.5H70.5V57.5H69.5zM71.5 57.5H73.5V58.5H71.5zM74.5 58.5H75.5V59.5H74.5zM70.5 59.5H71.5V60.5H70.5zM72.5 59.5H73.5V60.5H72.5zM68.5 60.5H70.5V61.5H68.5zM72.5 61.5H73.5V62.5H72.5zM71.5 62.5H72.5V63.5H71.5zM73.5 62.5H74.5V63.5H73.5zM69.5 63.5H70.5V64.5H69.5zM71.5 63.5H73.5V64.5H71.5zM74.5 63.5H75.5V64.5H74.5zM73.5 64.5H74.5V65.5H73.5zM73.5 65.5H74.5V66.5H73.5zM71.5 66.5H72.5V67.5H71.5zM73.5 67.5H74.5V68.5H73.5zM12.5 68.5H13.5V69.5H12.5zM30.5 68.5H31.5V69.5H30.5zM54.5 68.5H55.5V69.5H54.5zM60.5 68.5H61.5V69.5H60.5zM10.5 69.5H11.5V70.5H10.5zM15.5 69.5H17.5V70.5H15.5zM19.5 69.5H20.5V70.5H19.5zM32.5 69.5H33.5V70.5H32.5zM36.5 69.5H38.5V70.5H36.5zM56.5 69.5H57.5V70.5H56.5zM60.5 69.5H61.5V70.5H60.5zM63.5 69.5H64.5V70.5H63.5zM17.5 70.5H18.5V71.5H17.5zM37.5 70.5H38.5V71.5H37.5zM55.5 70.5H56.5V71.5H55.5zM59.5 70.5H60.5V71.5H59.5zM23.5 71.5H24.5V72.5H23.5zM51.5 71.5H52.5V72.5H51.5zM57.5 71.5H58.5V72.5H57.5zM62.5 71.5H64.5V72.5H62.5zM66.5 71.5H67.5V72.5H66.5zM35.5 72.5H36.5V73.5H35.5zM55.5 72.5H56.5V73.5H55.5zM57.5 72.5H58.5V73.5H57.5zM59.5 72.5H60.5V73.5H59.5zM61.5 72.5H62.5V73.5H61.5zM63.5 72.5H64.5V73.5H63.5zM20.5 73.5H21.5V74.5H20.5zM23.5 73.5H24.5V74.5H23.5zM27.5 73.5H28.5V74.5H27.5zM50.5 73.5H51.5V74.5H50.5zM53.5 73.5H54.5V74.5H53.5zM62.5 73.5H63.5V74.5H62.5zM64.5 73.5H66.5V74.5H64.5zM67.5 73.5H68.5V74.5H67.5zM17.5 74.5H18.5V75.5H17.5zM35.5 74.5H36.5V75.5H35.5zM55.5 74.5H56.5V75.5H55.5zM58.5 74.5H59.5V75.5H58.5zM63.5 74.5H64.5V75.5H63.5z"/><path fill="#3b528b" d="M20.5 0H21.5V0.5H20.5zM24.5 0H26.5V0.5H24.5zM28.5 0H29.5V0.5H28.5zM40.5 0H41.5V0.5H40.5zM43.5 0H44.5V0.5H43.5zM24.5 1.5H25.5V2.5H24.5zM40.5 1.5H41.5V2.5H40.5zM43.5 1.5H44.5V2.5H43.5zM24.5 2.5H25.5V3.5H24.5zM40.5 2.5H41.5V3.5H40.5zM44.5 2.5H45.5V3.5H44.5zM22.5 3.5H23.5V4.5H22.5zM26.5 3.5H27.5V4.5H26.5zM41.5 3.5H43.5V4.5H41.5zM44.5 3.5H45.5V4.5H44.5zM21.5 4.5H22.5V5.5H21.5zM23.5 4.5H25.5V5.5H23.5zM28.5 4.5H29.5V5.5H28.5zM40.5 4.5H41.5V5.5H40.5zM43.5 4.5H44.5V5.5H43.5zM25.5 5.5H26.5V6.5H25.5zM27.5 5.5H29.5V6.5H27.5zM40.5 5.5H41.5V6.5H40.5zM43.5 5.5H45.5V6.5H43.5zM21.5 6.5H22.5V7.5H21.5zM24.5 6.5H25.5V7.5H24.5zM28.5 6.5H29.5V7.5H28.5zM40.5 6.5H41.5V7.5H40.5zM43.5 6.5H44.5V7.5H43.5zM20.5 7.5H22.5V8.5H20.5zM28.5 7.5H29.5V8.5H28.5zM44.5 7.5H45.5V8.5H44.5zM20.5 8.5H21.5V9.5H20.5zM23.5 8.5H26.5V9.5H23.5zM40.5 8.5H41.5V9.5H40.5zM43.5 8.5H45.5V9.5H43.5zM21.5 9.5H22.5V10.5H21.5zM23.5 9.5H26.5V10.5H23.5zM28.5 9.5H29.5V10.5H28.5zM40.5 9.5H41.5V10.5H40.5zM44.5 9.5H46.5V10.5H44.5zM70.5 10.5H71.5V11.5H70.5zM72.5 10.5H73.5V11.5H72.5zM74.5 10.5H75.5V11.5H74.5zM68.5 11.5H69.5V12.5H68.5zM69.5 14.5H70.5V15.5H69.5zM70.5 15.5H71.5V16.5H70.5zM70.5 16.5H71.5V17.5H70.5zM74.5 16.5H75.5V17.5H74.5zM68.5 18.5H69.5V19.5H68.5zM70.5 19.5H71.5V20.5H70.5zM72.5 19.5H73.5V20.5H72.5zM74.5 19.5H75.5V20.5H74.5zM0 20.5H0.5V21.5H0zM7.5 20.5H9.5V21.5H7.5zM32.5 20.5H35.5V21.5H32.5zM36.5 20.5H37.5V21.5H36.5zM40.5 20.5H41.5V21.5H40.5zM4.5 21.5H5.5V22.5H4.5zM6.5 21.5H8.5V22.5H6.5zM9.5 21.5H10.5V22.5H9.5zM35.5 21.5H36.5V22.5H35.5zM37.5 21.5H38.5V22.5H37.5zM43.5 21.5H44.5V22.5H43.5zM3.5 22.5H4.5V23.5H3.5zM35.5 22.5H36.5V23.5H35.5zM71.5 22.5H72.5V23.5H71.5zM73.5 22.5H74.5V23.5H73.5zM4.5 23.5H5.5V24.5H4.5zM8.5 23.5H10.5V24.5H8.5zM32.5 23.5H33.5V24.5H32.5zM35.5 23.5H36.5V24.5H35.5zM0 24.5H0.5V25.5H0zM1.5 24.5H3.5V25.5H1.5zM4.5 24.5H5.5V25.5H4.5zM6.5 24.5H7.5V25.5H6.5zM8.5 24.5H10.5V25.5H8.5zM36.5 24.5H38.5V25.5H36.5zM42.5 24.5H45.5V25.5H42.5zM0 25.5H0.5V26.5H0zM5.5 25.5H6.5V26.5H5.5zM8.5 25.5H10.5V26.5H8.5zM32.5 25.5H33.5V26.5H32.5zM34.5 25.5H35.5V26.5H34.5zM37.5 25.5H38.5V26.5H37.5zM40.5 25.5H41.5V26.5H40.5zM43.5 25.5H44.5V26.5H43.5zM45.5 25.5H46.5V26.5H45.5zM3.5 26.5H4.5V27.5H3.5zM35.5 26.5H36.5V27.5H35.5zM73.5 26.5H74.5V27.5H73.5zM5.5 27.5H6.5V28.5H5.5zM33.5 27.5H34.5V28.5H33.5zM36.5 27.5H38.5V28.5H36.5zM0 28.5H0.5V29.5H0zM4.5 28.5H8.5V29.5H4.5zM9.5 28.5H10.5V29.5H9.5zM32.5 28.5H33.5V29.5H32.5zM34.5 28.5H35.5V29.5H34.5zM37.5 28.5H38.5V29.5H37.5zM40.5 28.5H41.5V29.5H40.5zM43.5 28.5H44.5V29.5H43.5zM48.5 29.5H49.5V30.5H48.5zM69.5 29.5H70.5V30.5H69.5zM41.5 30.5H42.5V31.5H41.5zM45.5 30.5H46.5V31.5H45.5zM38.5 31.5H40.5V32.5H38.5zM41.5 31.5H42.5V32.5H41.5zM20.5 32.5H21.5V33.5H20.5zM23.5 32.5H24.5V33.5H23.5zM25.5 32.5H26.5V33.5H25.5zM28.5 32.5H29.5V33.5H28.5zM46.5 32.5H47.5V33.5H46.5zM48.5 32.5H49.5V33.5H48.5zM70.5 32.5H71.5V33.5H70.5zM74.5 32.5H75.5V33.5H74.5zM20.5 33.5H21.5V34.5H20.5zM27.5 33.5H28.5V34.5H27.5zM48.5 33.5H49.5V34.5H48.5zM69.5 33.5H71.5V34.5H69.5zM74.5 33.5H75.5V34.5H74.5zM20.5 34.5H21.5V35.5H20.5zM25.5 34.5H26.5V35.5H25.5zM28.5 34.5H29.5V35.5H28.5zM48.5 34.5H49.5V35.5H48.5zM72.5 34.5H73.5V35.5H72.5zM74.5 34.5H75.5V35.5H74.5zM21.5 35.5H24.5V36.5H21.5zM26.5 35.5H27.5V36.5H26.5zM49.5 35.5H53.5V36.5H49.5zM64.5 35.5H65.5V36.5H64.5zM66.5 35.5H68.5V36.5H66.5zM71.5 35.5H72.5V36.5H71.5zM20.5 36.5H21.5V37.5H20.5zM24.5 36.5H25.5V37.5H24.5zM27.5 36.5H28.5V37.5H27.5zM70.5 36.5H71.5V37.5H70.5zM72.5 36.5H73.5V37.5H72.5zM74.5 36.5H75.5V37.5H74.5zM21.5 37.5H22.5V38.5H21.5zM24.5 37.5H26.5V38.5H24.5zM27.5 37.5H29.5V38.5H27.5zM49.5 37.5H50.5V38.5H49.5zM64.5 37.5H65.5V38.5H64.5zM74.5 37.5H75.5V38.5H74.5zM31.5 38.5H32.5V39.5H31.5zM31.5 39.5H32.5V40.5H31.5zM0 40.5H0.5V41.5H0zM1.5 40.5H3.5V41.5H1.5zM4.5 40.5H7.5V41.5H4.5zM8.5 40.5H10.5V41.5H8.5zM20.5 40.5H21.5V41.5H20.5zM25.5 40.5H26.5V41.5H25.5zM28.5 40.5H29.5V41.5H28.5zM57.5 40.5H58.5V41.5H57.5zM59.5 40.5H60.5V41.5H59.5zM3.5 41.5H4.5V42.5H3.5zM30.5 41.5H32.5V42.5H30.5zM3.5 42.5H4.5V43.5H3.5zM24.5 42.5H25.5V43.5H24.5zM0 43.5H0.5V44.5H0zM1.5 43.5H2.5V44.5H1.5zM4.5 43.5H7.5V44.5H4.5zM8.5 43.5H9.5V44.5H8.5zM21.5 43.5H22.5V44.5H21.5zM24.5 43.5H26.5V44.5H24.5zM28.5 43.5H29.5V44.5H28.5zM57.5 43.5H58.5V44.5H57.5zM59.5 43.5H60.5V44.5H59.5zM2.5 44.5H4.5V45.5H2.5zM5.5 44.5H6.5V45.5H5.5zM7.5 44.5H10.5V45.5H7.5zM24.5 44.5H25.5V45.5H24.5zM59.5 44.5H60.5V45.5H59.5zM9.5 45.5H10.5V46.5H9.5zM25.5 45.5H26.5V46.5H25.5zM30.5 45.5H31.5V46.5H30.5zM32.5 46.5H33.5V47.5H32.5zM29.5 48.5H30.5V49.5H29.5zM32.5 48.5H35.5V49.5H32.5zM35.5 49.5H36.5V50.5H35.5zM37.5 49.5H38.5V50.5H37.5zM35.5 50.5H36.5V51.5H35.5zM35.5 51.5H36.5V52.5H35.5zM73.5 51.5H74.5V52.5H73.5zM35.5 52.5H36.5V53.5H35.5zM73.5 52.5H74.5V53.5H73.5zM69.5 54.5H70.5V55.5H69.5zM70.5 56.5H71.5V57.5H70.5zM40.5 57.5H41.5V58.5H40.5zM43.5 57.5H44.5V58.5H43.5zM73.5 57.5H74.5V58.5H73.5zM70.5 58.5H71.5V59.5H70.5zM72.5 58.5H73.5V59.5H72.5zM40.5 59.5H41.5V60.5H40.5zM43.5 59.5H45.5V60.5H43.5zM71.5 59.5H72.5V60.5H71.5zM71.5 61.5H72.5V62.5H71.5zM35.5 64.5H36.5V65.5H35.5zM37.5 64.5H38.5V65.5H37.5zM71.5 65.5H72.5V66.5H71.5zM35.5 66.5H36.5V67.5H35.5zM73.5 66.5H74.5V67.5H73.5zM35.5 67.5H36.5V68.5H35.5zM11.5 68.5H12.5V69.5H11.5zM18.5 68.5H19.5V69.5H18.5zM14.5 69.5H15.5V70.5H14.5zM29.5 69.5H30.5V70.5H29.5zM33.5 69.5H34.5V70.5H33.5zM54.5 69.5H55.5V70.5H54.5zM10.5 70.5H11.5V71.5H10.5zM15.5 70.5H17.5V71.5H15.5zM19.5 70.5H20.5V71.5H19.5zM32.5 70.5H34.5V71.5H32.5zM36.5 70.5H37.5V71.5H36.5zM56.5 70.5H57.5V71.5H56.5zM58.5 70.5H59.5V71.5H58.5zM22.5 71.5H23.5V72.5H22.5zM35.5 71.5H36.5V72.5H35.5zM59.5 71.5H60.5V72.5H59.5zM61.5 71.5H62.5V72.5H61.5zM65.5 71.5H66.5V72.5H65.5zM10.5 72.5H11.5V73.5H10.5zM19.5 72.5H20.5V73.5H19.5zM34.5 72.5H35.5V73.5H34.5zM36.5 72.5H37.5V73.5H36.5zM58.5 72.5H59.5V73.5H58.5zM22.5 73.5H23.5V74.5H22.5zM26.5 73.5H27.5V74.5H26.5zM51.5 73.5H53.5V74.5H51.5zM57.5 73.5H58.5V74.5H57.5zM66.5 73.5H67.5V74.5H66.5zM10.5 74.5H11.5V75.5H10.5zM16.5 74.5H17.5V75.5H16.5zM19.5 74.5H20.5V75.5H19.5zM32.5 74.5H35.5V75.5H32.5zM36.5 74.5H38.5V75.5H36.5z"/><path fill="#38588c" d="M21.5 0H22.5V0.5H21.5zM23.5 0H24.5V0.5H23.5zM27.5 0H28.5V0.5H27.5zM39.5 0H40.5V0.5H39.5zM42.5 0H43.5V0.5H42.5zM44.5 0H46.5V0.5H44.5zM40.5 0.5H41.5V1.5H40.5zM21.5 1.5H22.5V2.5H21.5zM23.5 1.5H24.5V2.5H23.5zM25.5 1.5H26.5V2.5H25.5zM27.5 1.5H29.5V2.5H27.5zM20.5 2.5H22.5V3.5H20.5zM25.5 2.5H26.5V3.5H25.5zM27.5 2.5H29.5V3.5H27.5zM43.5 2.5H44.5V3.5H43.5zM45.5 2.5H46.5V3.5H45.5zM38.5 3.5H39.5V4.5H38.5zM48.5 3.5H49.5V4.5H48.5zM68.5 3.5H69.5V4.5H68.5zM22.5 4.5H23.5V5.5H22.5zM25.5 4.5H26.5V5.5H25.5zM27.5 4.5H28.5V5.5H27.5zM39.5 4.5H40.5V5.5H39.5zM42.5 4.5H43.5V5.5H42.5zM45.5 4.5H46.5V5.5H45.5zM26.5 5.5H27.5V6.5H26.5zM39.5 5.5H40.5V6.5H39.5zM41.5 5.5H43.5V6.5H41.5zM45.5 5.5H46.5V6.5H45.5zM20.5 6.5H21.5V7.5H20.5zM23.5 6.5H24.5V7.5H23.5zM25.5 6.5H26.5V7.5H25.5zM27.5 6.5H28.5V7.5H27.5zM39.5 6.5H40.5V7.5H39.5zM44.5 6.5H45.5V7.5H44.5zM23.5 7.5H24.5V8.5H23.5zM27.5 7.5H28.5V8.5H27.5zM39.5 7.5H40.5V8.5H39.5zM41.5 7.5H42.5V8.5H41.5zM45.5 7.5H46.5V8.5H45.5zM68.5 7.5H69.5V8.5H68.5zM21.5 8.5H22.5V9.5H21.5zM27.5 8.5H28.5V9.5H27.5zM42.5 8.5H43.5V9.5H42.5zM45.5 8.5H46.5V9.5H45.5zM22.5 9.5H23.5V10.5H22.5zM26.5 9.5H28.5V10.5H26.5zM39.5 9.5H40.5V10.5H39.5zM71.5 10.5H72.5V11.5H71.5zM70.5 11.5H71.5V12.5H70.5zM69.5 12.5H70.5V13.5H69.5zM68.5 13.5H69.5V14.5H68.5zM70.5 14.5H71.5V15.5H70.5zM72.5 14.5H73.5V15.5H72.5zM74.5 14.5H75.5V15.5H74.5zM74.5 15.5H75.5V16.5H74.5zM72.5 16.5H73.5V17.5H72.5zM71.5 17.5H73.5V18.5H71.5zM69.5 18.5H70.5V19.5H69.5zM2.5 20.5H3.5V21.5H2.5zM6.5 20.5H7.5V21.5H6.5zM29.5 20.5H30.5V21.5H29.5zM37.5 20.5H38.5V21.5H37.5zM39.5 20.5H40.5V21.5H39.5zM42.5 20.5H46.5V21.5H42.5zM0 21.5H0.5V22.5H0zM1.5 21.5H3.5V22.5H1.5zM8.5 21.5H9.5V22.5H8.5zM36.5 21.5H37.5V22.5H36.5zM40.5 21.5H41.5V22.5H40.5zM4.5 22.5H5.5V23.5H4.5zM9.5 22.5H10.5V23.5H9.5zM32.5 22.5H33.5V23.5H32.5zM0 23.5H0.5V24.5H0zM1.5 23.5H2.5V24.5H1.5zM6.5 23.5H8.5V24.5H6.5zM34.5 23.5H35.5V24.5H34.5zM37.5 23.5H38.5V24.5H37.5zM40.5 23.5H41.5V24.5H40.5zM43.5 23.5H44.5V24.5H43.5zM45.5 23.5H46.5V24.5H45.5zM29.5 24.5H31.5V25.5H29.5zM33.5 24.5H35.5V25.5H33.5zM39.5 24.5H40.5V25.5H39.5zM45.5 24.5H46.5V25.5H45.5zM1.5 25.5H3.5V26.5H1.5zM4.5 25.5H5.5V26.5H4.5zM6.5 25.5H7.5V26.5H6.5zM29.5 25.5H30.5V26.5H29.5zM36.5 25.5H37.5V26.5H36.5zM39.5 25.5H40.5V26.5H39.5zM42.5 25.5H43.5V26.5H42.5zM44.5 25.5H45.5V26.5H44.5zM5.5 26.5H6.5V27.5H5.5zM9.5 26.5H10.5V27.5H9.5zM33.5 26.5H35.5V27.5H33.5zM37.5 26.5H38.5V27.5H37.5zM43.5 26.5H44.5V27.5H43.5zM0 27.5H0.5V28.5H0zM1.5 27.5H3.5V28.5H1.5zM4.5 27.5H5.5V28.5H4.5zM6.5 27.5H10.5V28.5H6.5zM29.5 27.5H30.5V28.5H29.5zM32.5 27.5H33.5V28.5H32.5zM34.5 27.5H36.5V28.5H34.5zM39.5 27.5H41.5V28.5H39.5zM1.5 28.5H3.5V29.5H1.5zM29.5 28.5H30.5V29.5H29.5zM33.5 28.5H34.5V29.5H33.5zM36.5 28.5H37.5V29.5H36.5zM42.5 28.5H43.5V29.5H42.5zM44.5 28.5H46.5V29.5H44.5zM20.5 29.5H21.5V30.5H20.5zM24.5 29.5H26.5V30.5H24.5zM27.5 29.5H29.5V30.5H27.5zM46.5 29.5H47.5V30.5H46.5zM64.5 29.5H65.5V30.5H64.5zM70.5 29.5H71.5V30.5H70.5zM72.5 29.5H73.5V30.5H72.5zM74.5 29.5H75.5V30.5H74.5zM24.5 30.5H25.5V31.5H24.5zM67.5 30.5H68.5V31.5H67.5zM69.5 30.5H70.5V31.5H69.5zM68.5 31.5H69.5V32.5H68.5zM22.5 32.5H23.5V33.5H22.5zM27.5 32.5H28.5V33.5H27.5zM47.5 32.5H48.5V33.5H47.5zM49.5 32.5H50.5V33.5H49.5zM62.5 32.5H63.5V33.5H62.5zM64.5 32.5H65.5V33.5H64.5zM67.5 32.5H68.5V33.5H67.5zM72.5 32.5H73.5V33.5H72.5zM24.5 33.5H25.5V34.5H24.5zM26.5 33.5H27.5V34.5H26.5zM28.5 33.5H29.5V34.5H28.5zM46.5 33.5H47.5V34.5H46.5zM49.5 33.5H50.5V34.5H49.5zM64.5 33.5H65.5V34.5H64.5zM72.5 33.5H73.5V34.5H72.5zM23.5 34.5H25.5V35.5H23.5zM26.5 34.5H28.5V35.5H26.5zM46.5 34.5H47.5V35.5H46.5zM62.5 34.5H63.5V35.5H62.5zM64.5 34.5H65.5V35.5H64.5zM70.5 34.5H71.5V35.5H70.5zM27.5 35.5H28.5V36.5H27.5zM47.5 35.5H48.5V36.5H47.5zM53.5 35.5H54.5V36.5H53.5zM62.5 35.5H63.5V36.5H62.5zM65.5 35.5H66.5V36.5H65.5zM21.5 36.5H22.5V37.5H21.5zM25.5 36.5H26.5V37.5H25.5zM28.5 36.5H29.5V37.5H28.5zM46.5 36.5H47.5V37.5H46.5zM49.5 36.5H50.5V37.5H49.5zM64.5 36.5H65.5V37.5H64.5zM67.5 36.5H68.5V37.5H67.5zM73.5 36.5H74.5V37.5H73.5zM20.5 37.5H21.5V38.5H20.5zM23.5 37.5H24.5V38.5H23.5zM26.5 37.5H27.5V38.5H26.5zM46.5 37.5H48.5V38.5H46.5zM67.5 37.5H68.5V38.5H67.5zM71.5 37.5H73.5V38.5H71.5zM3.5 38.5H4.5V39.5H3.5zM0 39.5H0.5V40.5H0zM4.5 39.5H8.5V40.5H4.5zM9.5 39.5H10.5V40.5H9.5zM20.5 39.5H21.5V40.5H20.5zM24.5 39.5H26.5V40.5H24.5zM27.5 39.5H28.5V40.5H27.5zM57.5 39.5H58.5V40.5H57.5zM59.5 39.5H60.5V40.5H59.5zM0.5 40.5H1.5V41.5H0.5zM21.5 40.5H22.5V41.5H21.5zM23.5 40.5H24.5V41.5H23.5zM27.5 40.5H28.5V41.5H27.5zM55.5 40.5H56.5V41.5H55.5zM5.5 41.5H6.5V42.5H5.5zM7.5 41.5H8.5V42.5H7.5zM0 42.5H0.5V43.5H0zM4.5 42.5H6.5V43.5H4.5zM8.5 42.5H9.5V43.5H8.5zM20.5 42.5H21.5V43.5H20.5zM25.5 42.5H26.5V43.5H25.5zM28.5 42.5H29.5V43.5H28.5zM55.5 42.5H56.5V43.5H55.5zM57.5 42.5H58.5V43.5H57.5zM59.5 42.5H60.5V43.5H59.5zM2.5 43.5H3.5V44.5H2.5zM20.5 43.5H21.5V44.5H20.5zM23.5 43.5H24.5V44.5H23.5zM26.5 43.5H27.5V44.5H26.5zM55.5 43.5H56.5V44.5H55.5zM58.5 43.5H59.5V44.5H58.5zM0 44.5H0.5V45.5H0zM6.5 44.5H7.5V45.5H6.5zM20.5 44.5H21.5V45.5H20.5zM25.5 44.5H26.5V45.5H25.5zM28.5 44.5H29.5V45.5H28.5zM55.5 44.5H56.5V45.5H55.5zM57.5 44.5H58.5V45.5H57.5zM0 45.5H0.5V46.5H0zM2.5 45.5H3.5V46.5H2.5zM4.5 45.5H6.5V46.5H4.5zM7.5 45.5H9.5V46.5H7.5zM20.5 45.5H21.5V46.5H20.5zM23.5 45.5H25.5V46.5H23.5zM28.5 45.5H29.5V46.5H28.5zM55.5 45.5H56.5V46.5H55.5zM57.5 45.5H58.5V46.5H57.5zM59.5 45.5H60.5V46.5H59.5zM29.5 46.5H30.5V47.5H29.5zM33.5 46.5H35.5V47.5H33.5zM36.5 46.5H38.5V47.5H36.5zM32.5 47.5H33.5V48.5H32.5zM35.5 47.5H36.5V48.5H35.5zM37.5 47.5H38.5V48.5H37.5zM3.5 48.5H4.5V49.5H3.5zM32.5 49.5H34.5V50.5H32.5zM36.5 49.5H37.5V50.5H36.5zM35.5 53.5H36.5V54.5H35.5zM70.5 54.5H71.5V55.5H70.5zM74.5 54.5H75.5V55.5H74.5zM40.5 55.5H41.5V56.5H40.5zM42.5 55.5H46.5V56.5H42.5zM71.5 55.5H72.5V56.5H71.5zM74.5 56.5H75.5V57.5H74.5zM39.5 57.5H40.5V58.5H39.5zM42.5 57.5H43.5V58.5H42.5zM44.5 57.5H46.5V58.5H44.5zM43.5 58.5H44.5V59.5H43.5zM71.5 58.5H72.5V59.5H71.5zM73.5 58.5H74.5V59.5H73.5zM39.5 59.5H40.5V60.5H39.5zM42.5 59.5H43.5V60.5H42.5zM45.5 59.5H46.5V60.5H45.5zM73.5 59.5H74.5V60.5H73.5zM74.5 60.5H75.5V61.5H74.5zM32.5 62.5H33.5V63.5H32.5zM34.5 62.5H36.5V63.5H34.5zM29.5 64.5H30.5V65.5H29.5zM32.5 64.5H35.5V65.5H32.5zM36.5 64.5H37.5V65.5H36.5zM35.5 65.5H36.5V66.5H35.5zM30.5 67.5H31.5V68.5H30.5zM32.5 67.5H33.5V68.5H32.5zM36.5 67.5H38.5V68.5H36.5zM3.5 68.5H4.5V69.5H3.5zM7.5 68.5H8.5V69.5H7.5zM13.5 68.5H14.5V69.5H13.5zM31.5 68.5H32.5V69.5H31.5zM12.5 69.5H13.5V70.5H12.5zM18.5 69.5H19.5V70.5H18.5zM30.5 69.5H31.5V70.5H30.5zM11.5 70.5H12.5V71.5H11.5zM14.5 70.5H15.5V71.5H14.5zM29.5 70.5H30.5V71.5H29.5zM34.5 70.5H35.5V71.5H34.5zM54.5 70.5H55.5V71.5H54.5zM10.5 71.5H11.5V72.5H10.5zM17.5 71.5H18.5V72.5H17.5zM37.5 71.5H38.5V72.5H37.5zM55.5 71.5H56.5V72.5H55.5zM58.5 71.5H59.5V72.5H58.5zM14.5 72.5H15.5V73.5H14.5zM16.5 72.5H18.5V73.5H16.5zM29.5 72.5H30.5V73.5H29.5zM32.5 72.5H34.5V73.5H32.5zM37.5 72.5H38.5V73.5H37.5zM36.5 73.5H37.5V74.5H36.5zM58.5 73.5H60.5V74.5H58.5zM14.5 74.5H16.5V75.5H14.5zM29.5 74.5H30.5V75.5H29.5zM54.5 74.5H55.5V75.5H54.5zM56.5 74.5H57.5V75.5H56.5zM60.5 74.5H61.5V75.5H60.5z"/><path fill="#365d8d" d="M22.5 0H23.5V0.5H22.5zM26.5 0H27.5V0.5H26.5zM41.5 0H42.5V0.5H41.5zM20.5 0.5H22.5V1.5H20.5zM24.5 0.5H25.5V1.5H24.5zM27.5 0.5H29.5V1.5H27.5zM43.5 0.5H45.5V1.5H43.5zM26.5 1.5H27.5V2.5H26.5zM38.5 1.5H40.5V2.5H38.5zM41.5 1.5H43.5V2.5H41.5zM44.5 1.5H46.5V2.5H44.5zM23.5 2.5H24.5V3.5H23.5zM26.5 2.5H27.5V3.5H26.5zM38.5 2.5H40.5V3.5H38.5zM41.5 2.5H43.5V3.5H41.5zM49.5 3.5H50.5V4.5H49.5zM26.5 4.5H27.5V5.5H26.5zM41.5 4.5H42.5V5.5H41.5zM44.5 4.5H45.5V5.5H44.5zM48.5 4.5H49.5V5.5H48.5zM22.5 5.5H24.5V6.5H22.5zM68.5 5.5H69.5V6.5H68.5zM22.5 6.5H23.5V7.5H22.5zM26.5 6.5H27.5V7.5H26.5zM38.5 6.5H39.5V7.5H38.5zM45.5 6.5H46.5V7.5H45.5zM48.5 6.5H49.5V7.5H48.5zM68.5 6.5H69.5V7.5H68.5zM22.5 7.5H23.5V8.5H22.5zM26.5 7.5H27.5V8.5H26.5zM38.5 7.5H39.5V8.5H38.5zM22.5 8.5H23.5V9.5H22.5zM26.5 8.5H27.5V9.5H26.5zM39.5 8.5H40.5V9.5H39.5zM41.5 8.5H42.5V9.5H41.5zM38.5 9.5H39.5V10.5H38.5zM41.5 9.5H43.5V10.5H41.5zM68.5 9.5H69.5V10.5H68.5zM69.5 11.5H70.5V12.5H69.5zM74.5 11.5H75.5V12.5H74.5zM70.5 12.5H71.5V13.5H70.5zM74.5 12.5H75.5V13.5H74.5zM70.5 13.5H71.5V14.5H70.5zM72.5 15.5H73.5V16.5H72.5zM40.5 17.5H41.5V18.5H40.5zM73.5 17.5H74.5V18.5H73.5zM70.5 18.5H71.5V19.5H70.5zM74.5 18.5H75.5V19.5H74.5zM71.5 19.5H72.5V20.5H71.5zM73.5 19.5H74.5V20.5H73.5zM0.5 20.5H1.5V21.5H0.5zM30.5 20.5H31.5V21.5H30.5zM38.5 20.5H39.5V21.5H38.5zM46.5 20.5H47.5V21.5H46.5zM48.5 20.5H49.5V21.5H48.5zM62.5 20.5H63.5V21.5H62.5zM0.5 21.5H1.5V22.5H0.5zM29.5 21.5H30.5V22.5H29.5zM33.5 21.5H34.5V22.5H33.5zM39.5 21.5H40.5V22.5H39.5zM42.5 21.5H43.5V22.5H42.5zM44.5 21.5H46.5V22.5H44.5zM48.5 21.5H49.5V22.5H48.5zM0 22.5H0.5V23.5H0zM5.5 22.5H9.5V23.5H5.5zM34.5 22.5H35.5V23.5H34.5zM36.5 22.5H37.5V23.5H36.5zM40.5 22.5H41.5V23.5H40.5zM2.5 23.5H3.5V24.5H2.5zM5.5 23.5H6.5V24.5H5.5zM29.5 23.5H30.5V24.5H29.5zM33.5 23.5H34.5V24.5H33.5zM36.5 23.5H37.5V24.5H36.5zM42.5 23.5H43.5V24.5H42.5zM44.5 23.5H45.5V24.5H44.5zM0.5 24.5H1.5V25.5H0.5zM41.5 24.5H42.5V25.5H41.5zM48.5 24.5H49.5V25.5H48.5zM67.5 24.5H68.5V25.5H67.5zM38.5 25.5H39.5V26.5H38.5zM48.5 25.5H49.5V26.5H48.5zM67.5 25.5H68.5V26.5H67.5zM0 26.5H0.5V27.5H0zM1.5 26.5H3.5V27.5H1.5zM4.5 26.5H5.5V27.5H4.5zM6.5 26.5H9.5V27.5H6.5zM29.5 26.5H30.5V27.5H29.5zM32.5 26.5H33.5V27.5H32.5zM36.5 26.5H37.5V27.5H36.5zM39.5 26.5H41.5V27.5H39.5zM42.5 26.5H43.5V27.5H42.5zM44.5 26.5H46.5V27.5H44.5zM0.5 27.5H1.5V28.5H0.5zM42.5 27.5H46.5V28.5H42.5zM48.5 27.5H49.5V28.5H48.5zM0.5 28.5H1.5V29.5H0.5zM30.5 28.5H31.5V29.5H30.5zM39.5 28.5H40.5V29.5H39.5zM48.5 28.5H49.5V29.5H48.5zM67.5 28.5H68.5V29.5H67.5zM21.5 29.5H22.5V30.5H21.5zM23.5 29.5H24.5V30.5H23.5zM26.5 29.5H27.5V30.5H26.5zM51.5 29.5H52.5V30.5H51.5zM62.5 29.5H63.5V30.5H62.5zM67.5 29.5H68.5V30.5H67.5zM20.5 30.5H21.5V31.5H20.5zM28.5 30.5H29.5V31.5H28.5zM46.5 30.5H47.5V31.5H46.5zM48.5 30.5H49.5V31.5H48.5zM64.5 30.5H65.5V31.5H64.5zM70.5 30.5H71.5V31.5H70.5zM74.5 30.5H75.5V31.5H74.5zM69.5 31.5H70.5V32.5H69.5zM26.5 32.5H27.5V33.5H26.5zM50.5 32.5H52.5V33.5H50.5zM53.5 32.5H54.5V33.5H53.5zM65.5 32.5H67.5V33.5H65.5zM71.5 32.5H72.5V33.5H71.5zM73.5 32.5H74.5V33.5H73.5zM21.5 33.5H22.5V34.5H21.5zM23.5 33.5H24.5V34.5H23.5zM47.5 33.5H48.5V34.5H47.5zM50.5 33.5H52.5V34.5H50.5zM53.5 33.5H54.5V34.5H53.5zM62.5 33.5H63.5V34.5H62.5zM65.5 33.5H66.5V34.5H65.5zM67.5 33.5H68.5V34.5H67.5zM71.5 33.5H72.5V34.5H71.5zM22.5 34.5H23.5V35.5H22.5zM47.5 34.5H48.5V35.5H47.5zM49.5 34.5H50.5V35.5H49.5zM51.5 34.5H52.5V35.5H51.5zM65.5 34.5H68.5V35.5H65.5zM61.5 35.5H62.5V36.5H61.5zM63.5 35.5H64.5V36.5H63.5zM73.5 35.5H74.5V36.5H73.5zM22.5 36.5H24.5V37.5H22.5zM26.5 36.5H27.5V37.5H26.5zM47.5 36.5H48.5V37.5H47.5zM50.5 36.5H51.5V37.5H50.5zM52.5 36.5H53.5V37.5H52.5zM62.5 36.5H63.5V37.5H62.5zM65.5 36.5H67.5V37.5H65.5zM71.5 36.5H72.5V37.5H71.5zM50.5 37.5H52.5V38.5H50.5zM53.5 37.5H54.5V38.5H53.5zM62.5 37.5H63.5V38.5H62.5zM66.5 37.5H67.5V38.5H66.5zM73.5 37.5H74.5V38.5H73.5zM1.5 38.5H3.5V39.5H1.5zM6.5 38.5H8.5V39.5H6.5zM9.5 38.5H10.5V39.5H9.5zM20.5 38.5H21.5V39.5H20.5zM25.5 38.5H26.5V39.5H25.5zM59.5 38.5H60.5V39.5H59.5zM1.5 39.5H3.5V40.5H1.5zM8.5 39.5H9.5V40.5H8.5zM21.5 39.5H22.5V40.5H21.5zM26.5 39.5H27.5V40.5H26.5zM28.5 39.5H29.5V40.5H28.5zM55.5 39.5H56.5V40.5H55.5zM17.5 40.5H18.5V41.5H17.5zM22.5 40.5H23.5V41.5H22.5zM26.5 40.5H27.5V41.5H26.5zM58.5 40.5H59.5V41.5H58.5zM60.5 40.5H61.5V41.5H60.5zM0 41.5H0.5V42.5H0zM1.5 41.5H3.5V42.5H1.5zM4.5 41.5H5.5V42.5H4.5zM8.5 41.5H10.5V42.5H8.5zM24.5 41.5H25.5V42.5H24.5zM59.5 41.5H60.5V42.5H59.5zM1.5 42.5H3.5V43.5H1.5zM9.5 42.5H10.5V43.5H9.5zM21.5 42.5H22.5V43.5H21.5zM23.5 42.5H24.5V43.5H23.5zM26.5 42.5H28.5V43.5H26.5zM58.5 42.5H59.5V43.5H58.5zM0.5 43.5H1.5V44.5H0.5zM27.5 43.5H28.5V44.5H27.5zM60.5 43.5H61.5V44.5H60.5zM0.5 44.5H2.5V45.5H0.5zM4.5 44.5H5.5V45.5H4.5zM21.5 44.5H22.5V45.5H21.5zM23.5 44.5H24.5V45.5H23.5zM26.5 44.5H28.5V45.5H26.5zM58.5 44.5H59.5V45.5H58.5zM1.5 45.5H2.5V46.5H1.5zM6.5 45.5H7.5V46.5H6.5zM21.5 45.5H22.5V46.5H21.5zM26.5 45.5H28.5V46.5H26.5zM58.5 45.5H59.5V46.5H58.5zM20.5 46.5H21.5V47.5H20.5zM30.5 46.5H31.5V47.5H30.5zM33.5 47.5H35.5V48.5H33.5zM36.5 47.5H37.5V48.5H36.5zM4.5 48.5H5.5V49.5H4.5zM6.5 48.5H7.5V49.5H6.5zM20.5 48.5H22.5V49.5H20.5zM24.5 48.5H26.5V49.5H24.5zM27.5 48.5H29.5V49.5H27.5zM30.5 48.5H31.5V49.5H30.5zM3.5 49.5H4.5V50.5H3.5zM34.5 49.5H35.5V50.5H34.5zM32.5 50.5H34.5V51.5H32.5zM36.5 50.5H38.5V51.5H36.5zM29.5 51.5H30.5V52.5H29.5zM32.5 51.5H35.5V52.5H32.5zM37.5 51.5H38.5V52.5H37.5zM36.5 52.5H37.5V53.5H36.5zM32.5 53.5H34.5V54.5H32.5zM37.5 53.5H38.5V54.5H37.5zM72.5 54.5H73.5V55.5H72.5zM39.5 55.5H40.5V56.5H39.5zM73.5 55.5H74.5V56.5H73.5zM72.5 56.5H73.5V57.5H72.5zM40.5 58.5H41.5V59.5H40.5zM42.5 58.5H43.5V59.5H42.5zM44.5 58.5H46.5V59.5H44.5zM38.5 59.5H39.5V60.5H38.5zM41.5 59.5H42.5V60.5H41.5zM40.5 60.5H41.5V61.5H40.5zM43.5 60.5H44.5V61.5H43.5zM70.5 60.5H71.5V61.5H70.5zM35.5 61.5H36.5V62.5H35.5zM73.5 61.5H74.5V62.5H73.5zM20.5 62.5H21.5V63.5H20.5zM29.5 62.5H30.5V63.5H29.5zM33.5 62.5H34.5V63.5H33.5zM36.5 62.5H38.5V63.5H36.5zM35.5 63.5H36.5V64.5H35.5zM73.5 63.5H74.5V64.5H73.5zM30.5 64.5H31.5V65.5H30.5zM32.5 65.5H35.5V66.5H32.5zM36.5 65.5H37.5V66.5H36.5zM32.5 66.5H33.5V67.5H32.5zM34.5 66.5H35.5V67.5H34.5zM36.5 66.5H38.5V67.5H36.5zM24.5 67.5H26.5V68.5H24.5zM28.5 67.5H30.5V68.5H28.5zM33.5 67.5H35.5V68.5H33.5zM5.5 68.5H7.5V69.5H5.5zM9.5 68.5H10.5V69.5H9.5zM11.5 69.5H12.5V70.5H11.5zM31.5 69.5H32.5V70.5H31.5zM12.5 70.5H14.5V71.5H12.5zM18.5 70.5H19.5V71.5H18.5zM30.5 70.5H31.5V71.5H30.5zM60.5 70.5H61.5V71.5H60.5zM19.5 71.5H20.5V72.5H19.5zM32.5 71.5H34.5V72.5H32.5zM36.5 71.5H37.5V72.5H36.5zM15.5 72.5H16.5V73.5H15.5zM54.5 72.5H55.5V73.5H54.5zM56.5 72.5H57.5V73.5H56.5zM17.5 73.5H18.5V74.5H17.5zM19.5 73.5H20.5V74.5H19.5zM32.5 73.5H33.5V74.5H32.5zM35.5 73.5H36.5V74.5H35.5zM37.5 73.5H38.5V74.5H37.5zM55.5 73.5H56.5V74.5H55.5zM61.5 73.5H62.5V74.5H61.5zM63.5 73.5H64.5V74.5H63.5zM11.5 74.5H13.5V75.5H11.5zM18.5 74.5H19.5V75.5H18.5zM30.5 74.5H31.5V75.5H30.5z"/><path fill="#33638d" d="M38.5 0H39.5V0.5H38.5zM48.5 0H49.5V0.5H48.5zM68.5 0H69.5V0.5H68.5zM23.5 0.5H24.5V1.5H23.5zM25.5 0.5H27.5V1.5H25.5zM42.5 0.5H43.5V1.5H42.5zM45.5 0.5H46.5V1.5H45.5zM22.5 1.5H23.5V2.5H22.5zM68.5 1.5H69.5V2.5H68.5zM22.5 2.5H23.5V3.5H22.5zM48.5 2.5H49.5V3.5H48.5zM68.5 2.5H70.5V3.5H68.5zM46.5 3.5H48.5V4.5H46.5zM51.5 3.5H52.5V4.5H51.5zM69.5 3.5H70.5V4.5H69.5zM74.5 3.5H75.5V4.5H74.5zM38.5 4.5H39.5V5.5H38.5zM68.5 4.5H69.5V5.5H68.5zM38.5 5.5H39.5V6.5H38.5zM48.5 5.5H49.5V6.5H48.5zM41.5 6.5H42.5V7.5H41.5zM46.5 7.5H47.5V8.5H46.5zM48.5 7.5H49.5V8.5H48.5zM69.5 7.5H70.5V8.5H69.5zM38.5 8.5H39.5V9.5H38.5zM48.5 8.5H49.5V9.5H48.5zM68.5 8.5H69.5V9.5H68.5zM48.5 9.5H49.5V10.5H48.5zM20.5 10.5H21.5V11.5H20.5zM24.5 10.5H25.5V11.5H24.5zM43.5 10.5H44.5V11.5H43.5zM73.5 10.5H74.5V11.5H73.5zM72.5 11.5H73.5V12.5H72.5zM72.5 12.5H73.5V13.5H72.5zM69.5 13.5H70.5V14.5H69.5zM72.5 13.5H73.5V14.5H72.5zM74.5 13.5H75.5V14.5H74.5zM71.5 14.5H72.5V15.5H71.5zM71.5 15.5H72.5V16.5H71.5zM71.5 16.5H72.5V17.5H71.5zM73.5 16.5H74.5V17.5H73.5zM20.5 17.5H21.5V18.5H20.5zM24.5 17.5H25.5V18.5H24.5zM43.5 17.5H44.5V18.5H43.5zM73.5 18.5H74.5V19.5H73.5zM20.5 19.5H21.5V20.5H20.5zM10.5 20.5H11.5V21.5H10.5zM17.5 20.5H18.5V21.5H17.5zM19.5 20.5H20.5V21.5H19.5zM31.5 20.5H32.5V21.5H31.5zM41.5 20.5H42.5V21.5H41.5zM49.5 20.5H50.5V21.5H49.5zM64.5 20.5H68.5V21.5H64.5zM30.5 21.5H31.5V22.5H30.5zM34.5 21.5H35.5V22.5H34.5zM41.5 21.5H42.5V22.5H41.5zM46.5 21.5H47.5V22.5H46.5zM49.5 21.5H50.5V22.5H49.5zM62.5 21.5H63.5V22.5H62.5zM1.5 22.5H3.5V23.5H1.5zM33.5 22.5H34.5V23.5H33.5zM39.5 22.5H40.5V23.5H39.5zM41.5 22.5H42.5V23.5H41.5zM43.5 22.5H46.5V23.5H43.5zM0.5 23.5H1.5V24.5H0.5zM30.5 23.5H32.5V24.5H30.5zM39.5 23.5H40.5V24.5H39.5zM41.5 23.5H42.5V24.5H41.5zM48.5 23.5H49.5V24.5H48.5zM10.5 24.5H11.5V25.5H10.5zM17.5 24.5H18.5V25.5H17.5zM31.5 24.5H32.5V25.5H31.5zM38.5 24.5H39.5V25.5H38.5zM46.5 24.5H48.5V25.5H46.5zM57.5 24.5H58.5V25.5H57.5zM62.5 24.5H63.5V25.5H62.5zM64.5 24.5H66.5V25.5H64.5zM0.5 25.5H1.5V26.5H0.5zM30.5 25.5H31.5V26.5H30.5zM41.5 25.5H42.5V26.5H41.5zM46.5 25.5H47.5V26.5H46.5zM64.5 25.5H65.5V26.5H64.5zM0.5 26.5H1.5V27.5H0.5zM30.5 26.5H31.5V27.5H30.5zM46.5 26.5H47.5V27.5H46.5zM48.5 26.5H49.5V27.5H48.5zM38.5 27.5H39.5V28.5H38.5zM49.5 27.5H50.5V28.5H49.5zM67.5 27.5H68.5V28.5H67.5zM31.5 28.5H32.5V29.5H31.5zM38.5 28.5H39.5V29.5H38.5zM41.5 28.5H42.5V29.5H41.5zM46.5 28.5H47.5V29.5H46.5zM49.5 28.5H50.5V29.5H49.5zM62.5 28.5H63.5V29.5H62.5zM64.5 28.5H65.5V29.5H64.5zM47.5 29.5H48.5V30.5H47.5zM49.5 29.5H51.5V30.5H49.5zM52.5 29.5H54.5V30.5H52.5zM61.5 29.5H62.5V30.5H61.5zM65.5 29.5H67.5V30.5H65.5zM71.5 29.5H72.5V30.5H71.5zM21.5 30.5H22.5V31.5H21.5zM23.5 30.5H24.5V31.5H23.5zM25.5 30.5H27.5V31.5H25.5zM47.5 30.5H48.5V31.5H47.5zM49.5 30.5H50.5V31.5H49.5zM51.5 30.5H52.5V31.5H51.5zM62.5 30.5H63.5V31.5H62.5zM65.5 30.5H67.5V31.5H65.5zM72.5 30.5H73.5V31.5H72.5zM20.5 31.5H21.5V32.5H20.5zM23.5 31.5H25.5V32.5H23.5zM28.5 31.5H29.5V32.5H28.5zM48.5 31.5H50.5V32.5H48.5zM70.5 31.5H71.5V32.5H70.5zM72.5 31.5H73.5V32.5H72.5zM74.5 31.5H75.5V32.5H74.5zM61.5 32.5H62.5V33.5H61.5zM22.5 33.5H23.5V34.5H22.5zM52.5 33.5H53.5V34.5H52.5zM63.5 33.5H64.5V34.5H63.5zM66.5 33.5H67.5V34.5H66.5zM73.5 33.5H74.5V34.5H73.5zM21.5 34.5H22.5V35.5H21.5zM50.5 34.5H51.5V35.5H50.5zM52.5 34.5H54.5V35.5H52.5zM61.5 34.5H62.5V35.5H61.5zM71.5 34.5H72.5V35.5H71.5zM73.5 34.5H74.5V35.5H73.5zM51.5 36.5H52.5V37.5H51.5zM53.5 36.5H54.5V37.5H53.5zM61.5 36.5H62.5V37.5H61.5zM52.5 37.5H53.5V38.5H52.5zM65.5 37.5H66.5V38.5H65.5zM0 38.5H0.5V39.5H0zM4.5 38.5H6.5V39.5H4.5zM8.5 38.5H9.5V39.5H8.5zM24.5 38.5H25.5V39.5H24.5zM27.5 38.5H29.5V39.5H27.5zM22.5 39.5H24.5V40.5H22.5zM58.5 39.5H59.5V40.5H58.5zM56.5 40.5H57.5V41.5H56.5zM6.5 41.5H7.5V42.5H6.5zM20.5 41.5H24.5V42.5H20.5zM25.5 41.5H26.5V42.5H25.5zM28.5 41.5H29.5V42.5H28.5zM55.5 41.5H56.5V42.5H55.5zM57.5 41.5H59.5V42.5H57.5zM0.5 42.5H1.5V43.5H0.5zM10.5 43.5H11.5V44.5H10.5zM17.5 43.5H18.5V44.5H17.5zM22.5 43.5H23.5V44.5H22.5zM54.5 43.5H55.5V44.5H54.5zM56.5 43.5H57.5V44.5H56.5zM22.5 44.5H23.5V45.5H22.5zM0.5 45.5H1.5V46.5H0.5zM22.5 45.5H23.5V46.5H22.5zM56.5 45.5H57.5V46.5H56.5zM3.5 46.5H4.5V47.5H3.5zM7.5 46.5H8.5V47.5H7.5zM21.5 46.5H22.5V47.5H21.5zM24.5 46.5H27.5V47.5H24.5zM28.5 46.5H29.5V47.5H28.5zM57.5 46.5H58.5V47.5H57.5zM3.5 47.5H4.5V48.5H3.5zM24.5 47.5H25.5V48.5H24.5zM29.5 47.5H31.5V48.5H29.5zM0 48.5H0.5V49.5H0zM2.5 48.5H3.5V49.5H2.5zM5.5 48.5H6.5V49.5H5.5zM7.5 48.5H10.5V49.5H7.5zM23.5 48.5H24.5V49.5H23.5zM26.5 48.5H27.5V49.5H26.5zM31.5 48.5H32.5V49.5H31.5zM55.5 48.5H56.5V49.5H55.5zM57.5 48.5H58.5V49.5H57.5zM59.5 48.5H60.5V49.5H59.5zM20.5 49.5H22.5V50.5H20.5zM27.5 49.5H32.5V50.5H27.5zM57.5 49.5H58.5V50.5H57.5zM29.5 50.5H30.5V51.5H29.5zM34.5 50.5H35.5V51.5H34.5zM3.5 51.5H4.5V52.5H3.5zM30.5 51.5H31.5V52.5H30.5zM36.5 51.5H37.5V52.5H36.5zM29.5 52.5H30.5V53.5H29.5zM33.5 52.5H35.5V53.5H33.5zM37.5 52.5H38.5V53.5H37.5zM29.5 53.5H30.5V54.5H29.5zM34.5 53.5H35.5V54.5H34.5zM36.5 53.5H37.5V54.5H36.5zM43.5 54.5H44.5V55.5H43.5zM71.5 54.5H72.5V55.5H71.5zM41.5 55.5H42.5V56.5H41.5zM48.5 55.5H49.5V56.5H48.5zM40.5 56.5H41.5V57.5H40.5zM43.5 56.5H44.5V57.5H43.5zM45.5 56.5H46.5V57.5H45.5zM71.5 56.5H72.5V57.5H71.5zM24.5 57.5H25.5V58.5H24.5zM41.5 57.5H42.5V58.5H41.5zM46.5 57.5H47.5V58.5H46.5zM48.5 57.5H50.5V58.5H48.5zM39.5 58.5H40.5V59.5H39.5zM41.5 58.5H42.5V59.5H41.5zM48.5 59.5H49.5V60.5H48.5zM71.5 60.5H74.5V61.5H71.5zM29.5 61.5H30.5V62.5H29.5zM32.5 61.5H33.5V62.5H32.5zM34.5 61.5H35.5V62.5H34.5zM36.5 61.5H37.5V62.5H36.5zM21.5 62.5H22.5V63.5H21.5zM24.5 62.5H25.5V63.5H24.5zM28.5 62.5H29.5V63.5H28.5zM30.5 62.5H31.5V63.5H30.5zM33.5 63.5H34.5V64.5H33.5zM20.5 64.5H21.5V65.5H20.5zM24.5 64.5H26.5V65.5H24.5zM28.5 64.5H29.5V65.5H28.5zM20.5 65.5H21.5V66.5H20.5zM24.5 65.5H25.5V66.5H24.5zM29.5 65.5H31.5V66.5H29.5zM37.5 65.5H38.5V66.5H37.5zM20.5 66.5H21.5V67.5H20.5zM29.5 66.5H31.5V67.5H29.5zM33.5 66.5H34.5V67.5H33.5zM20.5 67.5H21.5V68.5H20.5zM27.5 67.5H28.5V68.5H27.5zM0 68.5H0.5V69.5H0zM1.5 68.5H3.5V69.5H1.5zM4.5 68.5H5.5V69.5H4.5zM8.5 68.5H9.5V69.5H8.5zM2.5 69.5H4.5V70.5H2.5zM7.5 69.5H8.5V70.5H7.5zM13.5 69.5H14.5V70.5H13.5zM31.5 70.5H32.5V71.5H31.5zM14.5 71.5H17.5V72.5H14.5zM29.5 71.5H30.5V72.5H29.5zM34.5 71.5H35.5V72.5H34.5zM54.5 71.5H55.5V72.5H54.5zM56.5 71.5H57.5V72.5H56.5zM60.5 71.5H61.5V72.5H60.5zM11.5 72.5H14.5V73.5H11.5zM30.5 72.5H32.5V73.5H30.5zM60.5 72.5H61.5V73.5H60.5zM10.5 73.5H11.5V74.5H10.5zM16.5 73.5H17.5V74.5H16.5zM18.5 73.5H19.5V74.5H18.5zM33.5 73.5H35.5V74.5H33.5zM60.5 73.5H61.5V74.5H60.5zM3.5 74.5H4.5V75.5H3.5zM13.5 74.5H14.5V75.5H13.5zM31.5 74.5H32.5V75.5H31.5z"/><path fill="#31688e" d="M46.5 0H47.5V0.5H46.5zM69.5 0H70.5V0.5H69.5zM38.5 0.5H40.5V1.5H38.5zM41.5 0.5H42.5V1.5H41.5zM48.5 1.5H49.5V2.5H48.5zM69.5 1.5H70.5V2.5H69.5zM46.5 2.5H47.5V3.5H46.5zM35.5 3.5H36.5V4.5H35.5zM50.5 3.5H51.5V4.5H50.5zM52.5 3.5H54.5V4.5H52.5zM67.5 3.5H68.5V4.5H67.5zM70.5 3.5H72.5V4.5H70.5zM46.5 4.5H47.5V5.5H46.5zM49.5 5.5H50.5V6.5H49.5zM46.5 6.5H47.5V7.5H46.5zM69.5 6.5H70.5V7.5H69.5zM47.5 7.5H48.5V8.5H47.5zM70.5 7.5H71.5V8.5H70.5zM47.5 8.5H48.5V9.5H47.5zM69.5 8.5H70.5V9.5H69.5zM46.5 9.5H47.5V10.5H46.5zM69.5 9.5H70.5V10.5H69.5zM21.5 10.5H22.5V11.5H21.5zM25.5 10.5H26.5V11.5H25.5zM28.5 10.5H29.5V11.5H28.5zM40.5 10.5H41.5V11.5H40.5zM44.5 10.5H45.5V11.5H44.5zM71.5 11.5H72.5V12.5H71.5zM73.5 11.5H74.5V12.5H73.5zM71.5 12.5H72.5V13.5H71.5zM73.5 12.5H74.5V13.5H73.5zM71.5 13.5H72.5V14.5H71.5zM20.5 14.5H21.5V15.5H20.5zM25.5 14.5H26.5V15.5H25.5zM73.5 14.5H74.5V15.5H73.5zM20.5 15.5H21.5V16.5H20.5zM35.5 15.5H36.5V16.5H35.5zM73.5 15.5H74.5V16.5H73.5zM20.5 16.5H22.5V17.5H20.5zM27.5 16.5H28.5V17.5H27.5zM40.5 16.5H41.5V17.5H40.5zM23.5 17.5H24.5V18.5H23.5zM25.5 17.5H26.5V18.5H25.5zM28.5 17.5H29.5V18.5H28.5zM32.5 17.5H33.5V18.5H32.5zM35.5 17.5H36.5V18.5H35.5zM71.5 18.5H73.5V19.5H71.5zM21.5 19.5H22.5V20.5H21.5zM23.5 19.5H24.5V20.5H23.5zM25.5 19.5H27.5V20.5H25.5zM40.5 19.5H41.5V20.5H40.5zM43.5 19.5H44.5V20.5H43.5zM14.5 20.5H17.5V21.5H14.5zM47.5 20.5H48.5V21.5H47.5zM51.5 20.5H52.5V21.5H51.5zM53.5 20.5H54.5V21.5H53.5zM57.5 20.5H58.5V21.5H57.5zM59.5 20.5H60.5V21.5H59.5zM63.5 20.5H64.5V21.5H63.5zM10.5 21.5H11.5V22.5H10.5zM16.5 21.5H17.5V22.5H16.5zM19.5 21.5H20.5V22.5H19.5zM31.5 21.5H32.5V22.5H31.5zM38.5 21.5H39.5V22.5H38.5zM50.5 21.5H51.5V22.5H50.5zM52.5 21.5H53.5V22.5H52.5zM59.5 21.5H60.5V22.5H59.5zM64.5 21.5H68.5V22.5H64.5zM29.5 22.5H31.5V23.5H29.5zM37.5 22.5H38.5V23.5H37.5zM42.5 22.5H43.5V23.5H42.5zM48.5 22.5H49.5V23.5H48.5zM67.5 22.5H68.5V23.5H67.5zM17.5 23.5H18.5V24.5H17.5zM19.5 23.5H20.5V24.5H19.5zM38.5 23.5H39.5V24.5H38.5zM46.5 23.5H47.5V24.5H46.5zM49.5 23.5H50.5V24.5H49.5zM62.5 23.5H63.5V24.5H62.5zM64.5 23.5H65.5V24.5H64.5zM66.5 23.5H68.5V24.5H66.5zM55.5 24.5H56.5V25.5H55.5zM59.5 24.5H60.5V25.5H59.5zM63.5 24.5H64.5V25.5H63.5zM66.5 24.5H67.5V25.5H66.5zM10.5 25.5H11.5V26.5H10.5zM14.5 25.5H15.5V26.5H14.5zM17.5 25.5H18.5V26.5H17.5zM19.5 25.5H20.5V26.5H19.5zM31.5 25.5H32.5V26.5H31.5zM47.5 25.5H48.5V26.5H47.5zM53.5 25.5H54.5V26.5H53.5zM55.5 25.5H56.5V26.5H55.5zM57.5 25.5H58.5V26.5H57.5zM59.5 25.5H60.5V26.5H59.5zM62.5 25.5H63.5V26.5H62.5zM65.5 25.5H67.5V26.5H65.5zM19.5 26.5H20.5V27.5H19.5zM38.5 26.5H39.5V27.5H38.5zM41.5 26.5H42.5V27.5H41.5zM62.5 26.5H63.5V27.5H62.5zM67.5 26.5H68.5V27.5H67.5zM16.5 27.5H17.5V28.5H16.5zM30.5 27.5H32.5V28.5H30.5zM41.5 27.5H42.5V28.5H41.5zM46.5 27.5H48.5V28.5H46.5zM57.5 27.5H58.5V28.5H57.5zM62.5 27.5H63.5V28.5H62.5zM64.5 27.5H67.5V28.5H64.5zM10.5 28.5H11.5V29.5H10.5zM17.5 28.5H18.5V29.5H17.5zM47.5 28.5H48.5V29.5H47.5zM65.5 28.5H67.5V29.5H65.5zM22.5 29.5H23.5V30.5H22.5zM63.5 29.5H64.5V30.5H63.5zM73.5 29.5H74.5V30.5H73.5zM22.5 30.5H23.5V31.5H22.5zM27.5 30.5H28.5V31.5H27.5zM50.5 30.5H51.5V31.5H50.5zM52.5 30.5H54.5V31.5H52.5zM71.5 30.5H72.5V31.5H71.5zM73.5 30.5H74.5V31.5H73.5zM21.5 31.5H22.5V32.5H21.5zM25.5 31.5H26.5V32.5H25.5zM27.5 31.5H28.5V32.5H27.5zM46.5 31.5H47.5V32.5H46.5zM51.5 31.5H52.5V32.5H51.5zM64.5 31.5H68.5V32.5H64.5zM17.5 32.5H18.5V33.5H17.5zM52.5 32.5H53.5V33.5H52.5zM63.5 32.5H64.5V33.5H63.5zM61.5 33.5H62.5V34.5H61.5zM63.5 34.5H64.5V35.5H63.5zM3.5 35.5H4.5V36.5H3.5zM15.5 35.5H16.5V36.5H15.5zM17.5 35.5H18.5V36.5H17.5zM63.5 36.5H64.5V37.5H63.5zM22.5 37.5H23.5V38.5H22.5zM61.5 37.5H62.5V38.5H61.5zM63.5 37.5H64.5V38.5H63.5zM0.5 38.5H1.5V39.5H0.5zM21.5 38.5H22.5V39.5H21.5zM23.5 38.5H24.5V39.5H23.5zM26.5 38.5H27.5V39.5H26.5zM55.5 38.5H56.5V39.5H55.5zM57.5 38.5H59.5V39.5H57.5zM0.5 39.5H1.5V40.5H0.5zM56.5 39.5H57.5V40.5H56.5zM10.5 40.5H11.5V41.5H10.5zM16.5 40.5H17.5V41.5H16.5zM19.5 40.5H20.5V41.5H19.5zM54.5 40.5H55.5V41.5H54.5zM0.5 41.5H1.5V42.5H0.5zM26.5 41.5H28.5V42.5H26.5zM22.5 42.5H23.5V43.5H22.5zM54.5 42.5H55.5V43.5H54.5zM56.5 42.5H57.5V43.5H56.5zM60.5 42.5H61.5V43.5H60.5zM19.5 43.5H20.5V44.5H19.5zM10.5 44.5H11.5V45.5H10.5zM56.5 44.5H57.5V45.5H56.5zM60.5 44.5H61.5V45.5H60.5zM54.5 45.5H55.5V46.5H54.5zM60.5 45.5H61.5V46.5H60.5zM0 46.5H0.5V47.5H0zM2.5 46.5H3.5V47.5H2.5zM4.5 46.5H5.5V47.5H4.5zM6.5 46.5H7.5V47.5H6.5zM9.5 46.5H10.5V47.5H9.5zM23.5 46.5H24.5V47.5H23.5zM27.5 46.5H28.5V47.5H27.5zM31.5 46.5H32.5V47.5H31.5zM59.5 46.5H60.5V47.5H59.5zM7.5 47.5H9.5V48.5H7.5zM20.5 47.5H21.5V48.5H20.5zM25.5 47.5H26.5V48.5H25.5zM27.5 47.5H29.5V48.5H27.5zM59.5 47.5H60.5V48.5H59.5zM1.5 48.5H2.5V49.5H1.5zM22.5 48.5H23.5V49.5H22.5zM56.5 48.5H57.5V49.5H56.5zM58.5 48.5H59.5V49.5H58.5zM5.5 49.5H6.5V50.5H5.5zM23.5 49.5H24.5V50.5H23.5zM55.5 49.5H56.5V50.5H55.5zM3.5 50.5H4.5V51.5H3.5zM21.5 50.5H22.5V51.5H21.5zM30.5 50.5H31.5V51.5H30.5zM20.5 51.5H21.5V52.5H20.5zM31.5 51.5H32.5V52.5H31.5zM3.5 52.5H4.5V53.5H3.5zM21.5 52.5H22.5V53.5H21.5zM30.5 52.5H31.5V53.5H30.5zM32.5 52.5H33.5V53.5H32.5zM3.5 53.5H4.5V54.5H3.5zM20.5 53.5H21.5V54.5H20.5zM25.5 53.5H26.5V54.5H25.5zM30.5 53.5H31.5V54.5H30.5zM40.5 54.5H41.5V55.5H40.5zM42.5 54.5H43.5V55.5H42.5zM45.5 54.5H46.5V55.5H45.5zM73.5 54.5H74.5V55.5H73.5zM24.5 55.5H26.5V56.5H24.5zM38.5 55.5H39.5V56.5H38.5zM49.5 55.5H50.5V56.5H49.5zM39.5 56.5H40.5V57.5H39.5zM42.5 56.5H43.5V57.5H42.5zM44.5 56.5H45.5V57.5H44.5zM48.5 56.5H49.5V57.5H48.5zM73.5 56.5H74.5V57.5H73.5zM20.5 57.5H21.5V58.5H20.5zM25.5 57.5H26.5V58.5H25.5zM27.5 57.5H28.5V58.5H27.5zM38.5 57.5H39.5V58.5H38.5zM38.5 58.5H39.5V59.5H38.5zM48.5 58.5H49.5V59.5H48.5zM20.5 59.5H22.5V60.5H20.5zM24.5 59.5H26.5V60.5H24.5zM46.5 59.5H48.5V60.5H46.5zM42.5 60.5H43.5V61.5H42.5zM44.5 60.5H46.5V61.5H44.5zM33.5 61.5H34.5V62.5H33.5zM37.5 61.5H38.5V62.5H37.5zM23.5 62.5H24.5V63.5H23.5zM25.5 62.5H28.5V63.5H25.5zM20.5 63.5H21.5V64.5H20.5zM24.5 63.5H25.5V64.5H24.5zM29.5 63.5H30.5V64.5H29.5zM32.5 63.5H33.5V64.5H32.5zM34.5 63.5H35.5V64.5H34.5zM36.5 63.5H38.5V64.5H36.5zM21.5 64.5H22.5V65.5H21.5zM23.5 64.5H24.5V65.5H23.5zM27.5 64.5H28.5V65.5H27.5zM31.5 64.5H32.5V65.5H31.5zM21.5 65.5H22.5V66.5H21.5zM25.5 65.5H26.5V66.5H25.5zM27.5 65.5H29.5V66.5H27.5zM31.5 65.5H32.5V66.5H31.5zM21.5 66.5H22.5V67.5H21.5zM23.5 66.5H26.5V67.5H23.5zM27.5 66.5H29.5V67.5H27.5zM31.5 66.5H32.5V67.5H31.5zM3.5 67.5H4.5V68.5H3.5zM21.5 67.5H24.5V68.5H21.5zM26.5 67.5H27.5V68.5H26.5zM31.5 67.5H32.5V68.5H31.5zM0 69.5H0.5V70.5H0zM1.5 69.5H2.5V70.5H1.5zM6.5 69.5H7.5V70.5H6.5zM8.5 69.5H10.5V70.5H8.5zM3.5 70.5H4.5V71.5H3.5zM7.5 70.5H8.5V71.5H7.5zM3.5 71.5H4.5V72.5H3.5zM11.5 71.5H14.5V72.5H11.5zM18.5 71.5H19.5V72.5H18.5zM30.5 71.5H31.5V72.5H30.5zM18.5 72.5H19.5V73.5H18.5zM11.5 73.5H13.5V74.5H11.5zM14.5 73.5H16.5V74.5H14.5zM29.5 73.5H31.5V74.5H29.5zM54.5 73.5H55.5V74.5H54.5zM56.5 73.5H57.5V74.5H56.5z"/><path fill="#2e6d8e" d="M47.5 0H48.5V0.5H47.5zM49.5 0H50.5V0.5H49.5zM70.5 0H71.5V0.5H70.5zM74.5 0H75.5V0.5H74.5zM22.5 0.5H23.5V1.5H22.5zM48.5 0.5H49.5V1.5H48.5zM68.5 0.5H69.5V1.5H68.5zM46.5 1.5H48.5V2.5H46.5zM70.5 1.5H71.5V2.5H70.5zM72.5 1.5H73.5V2.5H72.5zM47.5 2.5H48.5V3.5H47.5zM49.5 2.5H50.5V3.5H49.5zM72.5 2.5H73.5V3.5H72.5zM74.5 2.5H75.5V3.5H74.5zM62.5 3.5H63.5V4.5H62.5zM47.5 4.5H48.5V5.5H47.5zM49.5 4.5H50.5V5.5H49.5zM69.5 4.5H70.5V5.5H69.5zM74.5 4.5H75.5V5.5H74.5zM46.5 5.5H48.5V6.5H46.5zM50.5 5.5H51.5V6.5H50.5zM69.5 5.5H71.5V6.5H69.5zM74.5 5.5H75.5V6.5H74.5zM52.5 6.5H53.5V7.5H52.5zM74.5 6.5H75.5V7.5H74.5zM49.5 7.5H54.5V8.5H49.5zM72.5 7.5H73.5V8.5H72.5zM74.5 7.5H75.5V8.5H74.5zM46.5 8.5H47.5V9.5H46.5zM49.5 8.5H50.5V9.5H49.5zM70.5 8.5H71.5V9.5H70.5zM74.5 8.5H75.5V9.5H74.5zM49.5 9.5H51.5V10.5H49.5zM53.5 9.5H54.5V10.5H53.5zM72.5 9.5H73.5V10.5H72.5zM74.5 9.5H75.5V10.5H74.5zM23.5 10.5H24.5V11.5H23.5zM26.5 10.5H28.5V11.5H26.5zM34.5 10.5H38.5V11.5H34.5zM42.5 10.5H43.5V11.5H42.5zM45.5 10.5H46.5V11.5H45.5zM24.5 11.5H25.5V12.5H24.5zM40.5 11.5H41.5V12.5H40.5zM20.5 12.5H21.5V13.5H20.5zM24.5 12.5H25.5V13.5H24.5zM40.5 12.5H41.5V13.5H40.5zM23.5 14.5H25.5V15.5H23.5zM28.5 14.5H29.5V15.5H28.5zM40.5 14.5H41.5V15.5H40.5zM24.5 15.5H26.5V16.5H24.5zM27.5 15.5H29.5V16.5H27.5zM40.5 15.5H41.5V16.5H40.5zM43.5 15.5H46.5V16.5H43.5zM24.5 16.5H26.5V17.5H24.5zM28.5 16.5H29.5V17.5H28.5zM35.5 16.5H36.5V17.5H35.5zM39.5 16.5H40.5V17.5H39.5zM43.5 16.5H44.5V17.5H43.5zM21.5 17.5H23.5V18.5H21.5zM26.5 17.5H28.5V18.5H26.5zM29.5 17.5H30.5V18.5H29.5zM33.5 17.5H35.5V18.5H33.5zM36.5 17.5H37.5V18.5H36.5zM39.5 17.5H40.5V18.5H39.5zM41.5 17.5H43.5V18.5H41.5zM44.5 17.5H46.5V18.5H44.5zM48.5 17.5H49.5V18.5H48.5zM24.5 19.5H25.5V20.5H24.5zM27.5 19.5H29.5V20.5H27.5zM32.5 19.5H33.5V20.5H32.5zM35.5 19.5H36.5V20.5H35.5zM37.5 19.5H38.5V20.5H37.5zM39.5 19.5H40.5V20.5H39.5zM42.5 19.5H43.5V20.5H42.5zM44.5 19.5H46.5V20.5H44.5zM12.5 20.5H13.5V21.5H12.5zM50.5 20.5H51.5V21.5H50.5zM52.5 20.5H53.5V21.5H52.5zM58.5 20.5H59.5V21.5H58.5zM61.5 20.5H62.5V21.5H61.5zM17.5 21.5H18.5V22.5H17.5zM47.5 21.5H48.5V22.5H47.5zM51.5 21.5H52.5V22.5H51.5zM55.5 21.5H56.5V22.5H55.5zM57.5 21.5H58.5V22.5H57.5zM61.5 21.5H62.5V22.5H61.5zM0.5 22.5H1.5V23.5H0.5zM17.5 22.5H18.5V23.5H17.5zM31.5 22.5H32.5V23.5H31.5zM38.5 22.5H39.5V23.5H38.5zM46.5 22.5H47.5V23.5H46.5zM49.5 22.5H50.5V23.5H49.5zM62.5 22.5H63.5V23.5H62.5zM64.5 22.5H65.5V23.5H64.5zM10.5 23.5H11.5V24.5H10.5zM14.5 23.5H15.5V24.5H14.5zM47.5 23.5H48.5V24.5H47.5zM51.5 23.5H52.5V24.5H51.5zM59.5 23.5H60.5V24.5H59.5zM65.5 23.5H66.5V24.5H65.5zM11.5 24.5H13.5V25.5H11.5zM14.5 24.5H17.5V25.5H14.5zM19.5 24.5H20.5V25.5H19.5zM49.5 24.5H54.5V25.5H49.5zM61.5 24.5H62.5V25.5H61.5zM15.5 25.5H17.5V26.5H15.5zM49.5 25.5H50.5V26.5H49.5zM51.5 25.5H53.5V26.5H51.5zM61.5 25.5H62.5V26.5H61.5zM63.5 25.5H64.5V26.5H63.5zM10.5 26.5H11.5V27.5H10.5zM17.5 26.5H18.5V27.5H17.5zM31.5 26.5H32.5V27.5H31.5zM47.5 26.5H48.5V27.5H47.5zM49.5 26.5H50.5V27.5H49.5zM57.5 26.5H58.5V27.5H57.5zM59.5 26.5H60.5V27.5H59.5zM64.5 26.5H66.5V27.5H64.5zM10.5 27.5H11.5V28.5H10.5zM15.5 27.5H16.5V28.5H15.5zM17.5 27.5H18.5V28.5H17.5zM19.5 27.5H20.5V28.5H19.5zM50.5 27.5H52.5V28.5H50.5zM53.5 27.5H54.5V28.5H53.5zM55.5 27.5H56.5V28.5H55.5zM61.5 27.5H62.5V28.5H61.5zM63.5 27.5H64.5V28.5H63.5zM14.5 28.5H17.5V29.5H14.5zM19.5 28.5H20.5V29.5H19.5zM51.5 28.5H52.5V29.5H51.5zM55.5 28.5H56.5V29.5H55.5zM57.5 28.5H58.5V29.5H57.5zM59.5 28.5H60.5V29.5H59.5zM61.5 28.5H62.5V29.5H61.5zM17.5 29.5H18.5V30.5H17.5zM61.5 30.5H62.5V31.5H61.5zM22.5 31.5H23.5V32.5H22.5zM26.5 31.5H27.5V32.5H26.5zM47.5 31.5H48.5V32.5H47.5zM52.5 31.5H53.5V32.5H52.5zM62.5 31.5H63.5V32.5H62.5zM71.5 31.5H72.5V32.5H71.5zM73.5 31.5H74.5V32.5H73.5zM19.5 32.5H20.5V33.5H19.5zM17.5 33.5H18.5V34.5H17.5zM10.5 34.5H11.5V35.5H10.5zM17.5 34.5H18.5V35.5H17.5zM10.5 35.5H11.5V36.5H10.5zM16.5 35.5H17.5V36.5H16.5zM19.5 35.5H20.5V36.5H19.5zM10.5 36.5H11.5V37.5H10.5zM17.5 36.5H18.5V37.5H17.5zM10.5 37.5H11.5V38.5H10.5zM19.5 37.5H20.5V38.5H19.5zM22.5 38.5H23.5V39.5H22.5zM54.5 38.5H55.5V39.5H54.5zM16.5 39.5H18.5V40.5H16.5zM19.5 39.5H20.5V40.5H19.5zM54.5 39.5H55.5V40.5H54.5zM60.5 39.5H61.5V40.5H60.5zM11.5 40.5H13.5V41.5H11.5zM14.5 40.5H16.5V41.5H14.5zM17.5 41.5H18.5V42.5H17.5zM54.5 41.5H55.5V42.5H54.5zM56.5 41.5H57.5V42.5H56.5zM60.5 41.5H61.5V42.5H60.5zM10.5 42.5H11.5V43.5H10.5zM17.5 42.5H18.5V43.5H17.5zM19.5 42.5H20.5V43.5H19.5zM15.5 43.5H17.5V44.5H15.5zM15.5 44.5H16.5V45.5H15.5zM17.5 44.5H18.5V45.5H17.5zM19.5 44.5H20.5V45.5H19.5zM54.5 44.5H55.5V45.5H54.5zM10.5 45.5H11.5V46.5H10.5zM15.5 45.5H16.5V46.5H15.5zM17.5 45.5H18.5V46.5H17.5zM19.5 45.5H20.5V46.5H19.5zM1.5 46.5H2.5V47.5H1.5zM5.5 46.5H6.5V47.5H5.5zM8.5 46.5H9.5V47.5H8.5zM22.5 46.5H23.5V47.5H22.5zM55.5 46.5H56.5V47.5H55.5zM58.5 46.5H59.5V47.5H58.5zM0 47.5H0.5V48.5H0zM1.5 47.5H3.5V48.5H1.5zM4.5 47.5H6.5V48.5H4.5zM21.5 47.5H22.5V48.5H21.5zM23.5 47.5H24.5V48.5H23.5zM26.5 47.5H27.5V48.5H26.5zM31.5 47.5H32.5V48.5H31.5zM57.5 47.5H58.5V48.5H57.5zM0.5 48.5H1.5V49.5H0.5zM17.5 48.5H18.5V49.5H17.5zM54.5 48.5H55.5V49.5H54.5zM60.5 48.5H61.5V49.5H60.5zM0 49.5H0.5V50.5H0zM2.5 49.5H3.5V50.5H2.5zM4.5 49.5H5.5V50.5H4.5zM7.5 49.5H10.5V50.5H7.5zM22.5 49.5H23.5V50.5H22.5zM24.5 49.5H27.5V50.5H24.5zM58.5 49.5H60.5V50.5H58.5zM5.5 50.5H6.5V51.5H5.5zM7.5 50.5H8.5V51.5H7.5zM9.5 50.5H10.5V51.5H9.5zM20.5 50.5H21.5V51.5H20.5zM24.5 50.5H25.5V51.5H24.5zM27.5 50.5H28.5V51.5H27.5zM55.5 50.5H56.5V51.5H55.5zM7.5 51.5H8.5V52.5H7.5zM21.5 51.5H22.5V52.5H21.5zM23.5 51.5H26.5V52.5H23.5zM27.5 51.5H29.5V52.5H27.5zM57.5 51.5H58.5V52.5H57.5zM6.5 52.5H8.5V53.5H6.5zM20.5 52.5H21.5V53.5H20.5zM24.5 52.5H26.5V53.5H24.5zM31.5 52.5H32.5V53.5H31.5zM57.5 52.5H58.5V53.5H57.5zM7.5 53.5H8.5V54.5H7.5zM9.5 53.5H10.5V54.5H9.5zM24.5 53.5H25.5V54.5H24.5zM27.5 53.5H28.5V54.5H27.5zM57.5 53.5H58.5V54.5H57.5zM59.5 53.5H60.5V54.5H59.5zM38.5 54.5H40.5V55.5H38.5zM41.5 54.5H42.5V55.5H41.5zM44.5 54.5H45.5V55.5H44.5zM48.5 54.5H49.5V55.5H48.5zM21.5 55.5H22.5V56.5H21.5zM27.5 55.5H29.5V56.5H27.5zM46.5 55.5H47.5V56.5H46.5zM50.5 55.5H51.5V56.5H50.5zM41.5 56.5H42.5V57.5H41.5zM21.5 57.5H22.5V58.5H21.5zM26.5 57.5H27.5V58.5H26.5zM28.5 57.5H29.5V58.5H28.5zM47.5 57.5H48.5V58.5H47.5zM51.5 57.5H54.5V58.5H51.5zM20.5 58.5H21.5V59.5H20.5zM46.5 58.5H47.5V59.5H46.5zM49.5 58.5H50.5V59.5H49.5zM23.5 59.5H24.5V60.5H23.5zM26.5 59.5H27.5V60.5H26.5zM28.5 59.5H29.5V60.5H28.5zM49.5 59.5H50.5V60.5H49.5zM53.5 59.5H54.5V60.5H53.5zM39.5 60.5H40.5V61.5H39.5zM41.5 60.5H42.5V61.5H41.5zM48.5 60.5H49.5V61.5H48.5zM20.5 61.5H22.5V62.5H20.5zM24.5 61.5H26.5V62.5H24.5zM27.5 61.5H29.5V62.5H27.5zM30.5 61.5H31.5V62.5H30.5zM3.5 62.5H4.5V63.5H3.5zM22.5 62.5H23.5V63.5H22.5zM31.5 62.5H32.5V63.5H31.5zM25.5 63.5H26.5V64.5H25.5zM27.5 63.5H28.5V64.5H27.5zM22.5 64.5H23.5V65.5H22.5zM26.5 64.5H27.5V65.5H26.5zM23.5 65.5H24.5V66.5H23.5zM26.5 65.5H27.5V66.5H26.5zM0.5 68.5H1.5V69.5H0.5zM4.5 69.5H6.5V70.5H4.5zM0 70.5H0.5V71.5H0zM1.5 70.5H2.5V71.5H1.5zM5.5 70.5H6.5V71.5H5.5zM8.5 70.5H9.5V71.5H8.5zM31.5 71.5H32.5V72.5H31.5zM1.5 72.5H3.5V73.5H1.5zM7.5 72.5H8.5V73.5H7.5zM9.5 72.5H10.5V73.5H9.5zM31.5 73.5H32.5V74.5H31.5zM0 74.5H0.5V75.5H0zM2.5 74.5H3.5V75.5H2.5zM4.5 74.5H10.5V75.5H4.5z"/><path fill="#2c728e" d="M50.5 0H54.5V0.5H50.5zM72.5 0H73.5V0.5H72.5zM46.5 0.5H47.5V1.5H46.5zM49.5 0.5H50.5V1.5H49.5zM69.5 0.5H70.5V1.5H69.5zM49.5 1.5H50.5V2.5H49.5zM74.5 1.5H75.5V2.5H74.5zM52.5 2.5H53.5V3.5H52.5zM70.5 2.5H72.5V3.5H70.5zM32.5 3.5H33.5V4.5H32.5zM36.5 3.5H37.5V4.5H36.5zM64.5 3.5H67.5V4.5H64.5zM72.5 3.5H74.5V4.5H72.5zM51.5 4.5H54.5V5.5H51.5zM67.5 4.5H68.5V5.5H67.5zM70.5 4.5H71.5V5.5H70.5zM35.5 5.5H36.5V6.5H35.5zM52.5 5.5H54.5V6.5H52.5zM64.5 5.5H65.5V6.5H64.5zM67.5 5.5H68.5V6.5H67.5zM72.5 5.5H73.5V6.5H72.5zM47.5 6.5H48.5V7.5H47.5zM49.5 6.5H50.5V7.5H49.5zM51.5 6.5H52.5V7.5H51.5zM53.5 6.5H54.5V7.5H53.5zM70.5 6.5H71.5V7.5H70.5zM72.5 6.5H73.5V7.5H72.5zM64.5 7.5H65.5V8.5H64.5zM67.5 7.5H68.5V8.5H67.5zM35.5 8.5H36.5V9.5H35.5zM51.5 8.5H52.5V9.5H51.5zM53.5 8.5H54.5V9.5H53.5zM67.5 8.5H68.5V9.5H67.5zM72.5 8.5H73.5V9.5H72.5zM35.5 9.5H36.5V10.5H35.5zM47.5 9.5H48.5V10.5H47.5zM51.5 9.5H52.5V10.5H51.5zM70.5 9.5H72.5V10.5H70.5zM22.5 10.5H23.5V11.5H22.5zM29.5 10.5H30.5V11.5H29.5zM32.5 10.5H34.5V11.5H32.5zM38.5 10.5H40.5V11.5H38.5zM41.5 10.5H42.5V11.5H41.5zM48.5 10.5H49.5V11.5H48.5zM20.5 11.5H21.5V12.5H20.5zM25.5 11.5H26.5V12.5H25.5zM27.5 11.5H29.5V12.5H27.5zM35.5 11.5H36.5V12.5H35.5zM43.5 11.5H44.5V12.5H43.5zM25.5 12.5H26.5V13.5H25.5zM28.5 12.5H29.5V13.5H28.5zM35.5 12.5H36.5V13.5H35.5zM43.5 12.5H44.5V13.5H43.5zM20.5 13.5H21.5V14.5H20.5zM24.5 13.5H25.5V14.5H24.5zM28.5 13.5H29.5V14.5H28.5zM73.5 13.5H74.5V14.5H73.5zM21.5 14.5H22.5V15.5H21.5zM26.5 14.5H28.5V15.5H26.5zM32.5 14.5H34.5V15.5H32.5zM35.5 14.5H36.5V15.5H35.5zM37.5 14.5H38.5V15.5H37.5zM42.5 14.5H46.5V15.5H42.5zM21.5 15.5H22.5V16.5H21.5zM23.5 15.5H24.5V16.5H23.5zM26.5 15.5H27.5V16.5H26.5zM33.5 15.5H35.5V16.5H33.5zM42.5 15.5H43.5V16.5H42.5zM22.5 16.5H24.5V17.5H22.5zM26.5 16.5H27.5V17.5H26.5zM29.5 16.5H30.5V17.5H29.5zM33.5 16.5H34.5V17.5H33.5zM36.5 16.5H37.5V17.5H36.5zM42.5 16.5H43.5V17.5H42.5zM44.5 16.5H46.5V17.5H44.5zM48.5 16.5H49.5V17.5H48.5zM37.5 17.5H39.5V18.5H37.5zM20.5 18.5H21.5V19.5H20.5zM24.5 18.5H27.5V19.5H24.5zM28.5 18.5H29.5V19.5H28.5zM35.5 18.5H36.5V19.5H35.5zM40.5 18.5H41.5V19.5H40.5zM43.5 18.5H44.5V19.5H43.5zM22.5 19.5H23.5V20.5H22.5zM29.5 19.5H30.5V20.5H29.5zM33.5 19.5H35.5V20.5H33.5zM36.5 19.5H37.5V20.5H36.5zM41.5 19.5H42.5V20.5H41.5zM11.5 20.5H12.5V21.5H11.5zM13.5 20.5H14.5V21.5H13.5zM18.5 20.5H19.5V21.5H18.5zM55.5 20.5H57.5V21.5H55.5zM60.5 20.5H61.5V21.5H60.5zM14.5 21.5H16.5V22.5H14.5zM53.5 21.5H54.5V22.5H53.5zM56.5 21.5H57.5V22.5H56.5zM58.5 21.5H59.5V22.5H58.5zM10.5 22.5H11.5V23.5H10.5zM16.5 22.5H17.5V23.5H16.5zM19.5 22.5H20.5V23.5H19.5zM47.5 22.5H48.5V23.5H47.5zM57.5 22.5H58.5V23.5H57.5zM63.5 22.5H64.5V23.5H63.5zM65.5 22.5H67.5V23.5H65.5zM15.5 23.5H17.5V24.5H15.5zM52.5 23.5H54.5V24.5H52.5zM55.5 23.5H56.5V24.5H55.5zM57.5 23.5H59.5V24.5H57.5zM61.5 23.5H62.5V24.5H61.5zM13.5 24.5H14.5V25.5H13.5zM18.5 24.5H19.5V25.5H18.5zM56.5 24.5H57.5V25.5H56.5zM58.5 24.5H59.5V25.5H58.5zM60.5 24.5H61.5V25.5H60.5zM11.5 25.5H13.5V26.5H11.5zM18.5 25.5H19.5V26.5H18.5zM50.5 25.5H51.5V26.5H50.5zM58.5 25.5H59.5V26.5H58.5zM14.5 26.5H17.5V27.5H14.5zM18.5 26.5H19.5V27.5H18.5zM50.5 26.5H52.5V27.5H50.5zM53.5 26.5H54.5V27.5H53.5zM55.5 26.5H56.5V27.5H55.5zM61.5 26.5H62.5V27.5H61.5zM63.5 26.5H64.5V27.5H63.5zM66.5 26.5H67.5V27.5H66.5zM11.5 27.5H12.5V28.5H11.5zM14.5 27.5H15.5V28.5H14.5zM52.5 27.5H53.5V28.5H52.5zM56.5 27.5H57.5V28.5H56.5zM59.5 27.5H60.5V28.5H59.5zM11.5 28.5H14.5V29.5H11.5zM18.5 28.5H19.5V29.5H18.5zM50.5 28.5H51.5V29.5H50.5zM52.5 28.5H54.5V29.5H52.5zM58.5 28.5H59.5V29.5H58.5zM63.5 28.5H64.5V29.5H63.5zM10.5 29.5H11.5V30.5H10.5zM16.5 29.5H17.5V30.5H16.5zM19.5 29.5H20.5V30.5H19.5zM63.5 30.5H64.5V31.5H63.5zM53.5 31.5H54.5V32.5H53.5zM61.5 31.5H62.5V32.5H61.5zM63.5 31.5H64.5V32.5H63.5zM3.5 32.5H4.5V33.5H3.5zM10.5 32.5H11.5V33.5H10.5zM14.5 32.5H15.5V33.5H14.5zM10.5 33.5H11.5V34.5H10.5zM14.5 33.5H17.5V34.5H14.5zM19.5 33.5H20.5V34.5H19.5zM15.5 34.5H16.5V35.5H15.5zM19.5 34.5H20.5V35.5H19.5zM5.5 35.5H6.5V36.5H5.5zM8.5 35.5H10.5V36.5H8.5zM11.5 35.5H13.5V36.5H11.5zM14.5 35.5H15.5V36.5H14.5zM18.5 35.5H19.5V36.5H18.5zM59.5 35.5H60.5V36.5H59.5zM3.5 36.5H4.5V37.5H3.5zM16.5 36.5H17.5V37.5H16.5zM19.5 36.5H20.5V37.5H19.5zM14.5 37.5H15.5V38.5H14.5zM17.5 37.5H18.5V38.5H17.5zM10.5 38.5H11.5V39.5H10.5zM17.5 38.5H18.5V39.5H17.5zM56.5 38.5H57.5V39.5H56.5zM60.5 38.5H61.5V39.5H60.5zM10.5 39.5H11.5V40.5H10.5zM18.5 40.5H19.5V41.5H18.5zM10.5 41.5H11.5V42.5H10.5zM19.5 41.5H20.5V42.5H19.5zM14.5 42.5H17.5V43.5H14.5zM11.5 43.5H13.5V44.5H11.5zM14.5 43.5H15.5V44.5H14.5zM18.5 43.5H19.5V44.5H18.5zM14.5 44.5H15.5V45.5H14.5zM16.5 44.5H17.5V45.5H16.5zM14.5 45.5H15.5V46.5H14.5zM16.5 45.5H17.5V46.5H16.5zM0.5 46.5H1.5V47.5H0.5zM54.5 46.5H55.5V47.5H54.5zM56.5 46.5H57.5V47.5H56.5zM60.5 46.5H61.5V47.5H60.5zM6.5 47.5H7.5V48.5H6.5zM9.5 47.5H10.5V48.5H9.5zM22.5 47.5H23.5V48.5H22.5zM55.5 47.5H56.5V48.5H55.5zM58.5 47.5H59.5V48.5H58.5zM10.5 48.5H11.5V49.5H10.5zM16.5 48.5H17.5V49.5H16.5zM0.5 49.5H2.5V50.5H0.5zM6.5 49.5H7.5V50.5H6.5zM0 50.5H0.5V51.5H0zM25.5 50.5H27.5V51.5H25.5zM28.5 50.5H29.5V51.5H28.5zM57.5 50.5H58.5V51.5H57.5zM59.5 50.5H60.5V51.5H59.5zM0 51.5H0.5V52.5H0zM4.5 51.5H5.5V52.5H4.5zM6.5 51.5H7.5V52.5H6.5zM8.5 51.5H10.5V52.5H8.5zM26.5 51.5H27.5V52.5H26.5zM55.5 51.5H56.5V52.5H55.5zM59.5 51.5H60.5V52.5H59.5zM0 52.5H0.5V53.5H0zM2.5 52.5H3.5V53.5H2.5zM4.5 52.5H6.5V53.5H4.5zM23.5 52.5H24.5V53.5H23.5zM27.5 52.5H29.5V53.5H27.5zM59.5 52.5H60.5V53.5H59.5zM0 53.5H0.5V54.5H0zM4.5 53.5H7.5V54.5H4.5zM8.5 53.5H9.5V54.5H8.5zM21.5 53.5H22.5V54.5H21.5zM23.5 53.5H24.5V54.5H23.5zM26.5 53.5H27.5V54.5H26.5zM28.5 53.5H29.5V54.5H28.5zM31.5 53.5H32.5V54.5H31.5zM55.5 53.5H56.5V54.5H55.5zM46.5 54.5H47.5V55.5H46.5zM20.5 55.5H21.5V56.5H20.5zM23.5 55.5H24.5V56.5H23.5zM26.5 55.5H27.5V56.5H26.5zM47.5 55.5H48.5V56.5H47.5zM51.5 55.5H52.5V56.5H51.5zM53.5 55.5H54.5V56.5H53.5zM20.5 56.5H22.5V57.5H20.5zM24.5 56.5H25.5V57.5H24.5zM27.5 56.5H28.5V57.5H27.5zM38.5 56.5H39.5V57.5H38.5zM46.5 56.5H47.5V57.5H46.5zM22.5 57.5H24.5V58.5H22.5zM50.5 57.5H51.5V58.5H50.5zM21.5 58.5H22.5V59.5H21.5zM23.5 58.5H26.5V59.5H23.5zM28.5 58.5H29.5V59.5H28.5zM47.5 58.5H48.5V59.5H47.5zM27.5 59.5H28.5V60.5H27.5zM35.5 59.5H36.5V60.5H35.5zM50.5 59.5H53.5V60.5H50.5zM67.5 59.5H68.5V60.5H67.5zM20.5 60.5H21.5V61.5H20.5zM24.5 60.5H25.5V61.5H24.5zM38.5 60.5H39.5V61.5H38.5zM46.5 60.5H47.5V61.5H46.5zM23.5 61.5H24.5V62.5H23.5zM26.5 61.5H27.5V62.5H26.5zM31.5 61.5H32.5V62.5H31.5zM22.5 63.5H23.5V64.5H22.5zM26.5 63.5H27.5V64.5H26.5zM28.5 63.5H29.5V64.5H28.5zM30.5 63.5H32.5V64.5H30.5zM3.5 64.5H4.5V65.5H3.5zM5.5 64.5H6.5V65.5H5.5zM7.5 64.5H8.5V65.5H7.5zM3.5 65.5H4.5V66.5H3.5zM22.5 65.5H23.5V66.5H22.5zM3.5 66.5H4.5V67.5H3.5zM22.5 66.5H23.5V67.5H22.5zM26.5 66.5H27.5V67.5H26.5zM4.5 67.5H6.5V68.5H4.5zM7.5 67.5H9.5V68.5H7.5zM59.5 67.5H60.5V68.5H59.5zM0.5 69.5H1.5V70.5H0.5zM2.5 70.5H3.5V71.5H2.5zM4.5 70.5H5.5V71.5H4.5zM6.5 70.5H7.5V71.5H6.5zM9.5 70.5H10.5V71.5H9.5zM2.5 71.5H3.5V72.5H2.5zM9.5 71.5H10.5V72.5H9.5zM0 72.5H0.5V73.5H0zM3.5 72.5H4.5V73.5H3.5zM5.5 72.5H7.5V73.5H5.5zM8.5 72.5H9.5V73.5H8.5zM3.5 73.5H4.5V74.5H3.5zM13.5 73.5H14.5V74.5H13.5zM1.5 74.5H2.5V75.5H1.5z"/><path fill="#2a778e" d="M35.5 0H36.5V0.5H35.5zM62.5 0H63.5V0.5H62.5zM64.5 0H65.5V0.5H64.5zM67.5 0H68.5V0.5H67.5zM71.5 0H72.5V0.5H71.5zM47.5 0.5H48.5V1.5H47.5zM70.5 0.5H71.5V1.5H70.5zM74.5 0.5H75.5V1.5H74.5zM36.5 1.5H37.5V2.5H36.5zM50.5 1.5H54.5V2.5H50.5zM62.5 1.5H63.5V2.5H62.5zM64.5 1.5H65.5V2.5H64.5zM67.5 1.5H68.5V2.5H67.5zM35.5 2.5H36.5V3.5H35.5zM50.5 2.5H52.5V3.5H50.5zM53.5 2.5H54.5V3.5H53.5zM64.5 2.5H65.5V3.5H64.5zM67.5 2.5H68.5V3.5H67.5zM73.5 2.5H74.5V3.5H73.5zM29.5 3.5H30.5V4.5H29.5zM33.5 3.5H35.5V4.5H33.5zM37.5 3.5H38.5V4.5H37.5zM61.5 3.5H62.5V4.5H61.5zM63.5 3.5H64.5V4.5H63.5zM35.5 4.5H36.5V5.5H35.5zM50.5 4.5H51.5V5.5H50.5zM62.5 4.5H63.5V5.5H62.5zM64.5 4.5H65.5V5.5H64.5zM66.5 4.5H67.5V5.5H66.5zM71.5 4.5H73.5V5.5H71.5zM34.5 5.5H35.5V6.5H34.5zM36.5 5.5H37.5V6.5H36.5zM51.5 5.5H52.5V6.5H51.5zM62.5 5.5H63.5V6.5H62.5zM65.5 5.5H67.5V6.5H65.5zM71.5 5.5H72.5V6.5H71.5zM73.5 5.5H74.5V6.5H73.5zM32.5 6.5H33.5V7.5H32.5zM35.5 6.5H36.5V7.5H35.5zM50.5 6.5H51.5V7.5H50.5zM62.5 6.5H63.5V7.5H62.5zM65.5 6.5H66.5V7.5H65.5zM67.5 6.5H68.5V7.5H67.5zM73.5 6.5H74.5V7.5H73.5zM35.5 7.5H37.5V8.5H35.5zM66.5 7.5H67.5V8.5H66.5zM71.5 7.5H72.5V8.5H71.5zM36.5 8.5H37.5V9.5H36.5zM50.5 8.5H51.5V9.5H50.5zM52.5 8.5H53.5V9.5H52.5zM62.5 8.5H63.5V9.5H62.5zM71.5 8.5H72.5V9.5H71.5zM37.5 9.5H38.5V10.5H37.5zM52.5 9.5H53.5V10.5H52.5zM62.5 9.5H63.5V10.5H62.5zM64.5 9.5H65.5V10.5H64.5zM67.5 9.5H68.5V10.5H67.5zM30.5 10.5H31.5V11.5H30.5zM46.5 10.5H47.5V11.5H46.5zM64.5 10.5H65.5V11.5H64.5zM67.5 10.5H68.5V11.5H67.5zM21.5 11.5H22.5V12.5H21.5zM23.5 11.5H24.5V12.5H23.5zM32.5 11.5H33.5V12.5H32.5zM36.5 11.5H37.5V12.5H36.5zM42.5 11.5H43.5V12.5H42.5zM44.5 11.5H46.5V12.5H44.5zM48.5 11.5H49.5V12.5H48.5zM21.5 12.5H24.5V13.5H21.5zM26.5 12.5H28.5V13.5H26.5zM37.5 12.5H38.5V13.5H37.5zM42.5 12.5H43.5V13.5H42.5zM45.5 12.5H46.5V13.5H45.5zM21.5 13.5H22.5V14.5H21.5zM25.5 13.5H26.5V14.5H25.5zM27.5 13.5H28.5V14.5H27.5zM35.5 13.5H36.5V14.5H35.5zM40.5 13.5H41.5V14.5H40.5zM43.5 13.5H46.5V14.5H43.5zM22.5 14.5H23.5V15.5H22.5zM29.5 14.5H30.5V15.5H29.5zM34.5 14.5H35.5V15.5H34.5zM36.5 14.5H37.5V15.5H36.5zM39.5 14.5H40.5V15.5H39.5zM41.5 14.5H42.5V15.5H41.5zM67.5 14.5H68.5V15.5H67.5zM22.5 15.5H23.5V16.5H22.5zM29.5 15.5H30.5V16.5H29.5zM32.5 15.5H33.5V16.5H32.5zM36.5 15.5H40.5V16.5H36.5zM41.5 15.5H42.5V16.5H41.5zM48.5 15.5H49.5V16.5H48.5zM67.5 15.5H68.5V16.5H67.5zM32.5 16.5H33.5V17.5H32.5zM34.5 16.5H35.5V17.5H34.5zM37.5 16.5H38.5V17.5H37.5zM41.5 16.5H42.5V17.5H41.5zM30.5 17.5H32.5V18.5H30.5zM46.5 17.5H47.5V18.5H46.5zM64.5 17.5H65.5V18.5H64.5zM67.5 17.5H68.5V18.5H67.5zM21.5 18.5H22.5V19.5H21.5zM23.5 18.5H24.5V19.5H23.5zM27.5 18.5H28.5V19.5H27.5zM32.5 18.5H33.5V19.5H32.5zM34.5 18.5H35.5V19.5H34.5zM42.5 18.5H43.5V19.5H42.5zM44.5 18.5H45.5V19.5H44.5zM30.5 19.5H31.5V20.5H30.5zM38.5 19.5H39.5V20.5H38.5zM48.5 19.5H49.5V20.5H48.5zM62.5 19.5H63.5V20.5H62.5zM64.5 19.5H65.5V20.5H64.5zM67.5 19.5H68.5V20.5H67.5zM54.5 20.5H55.5V21.5H54.5zM11.5 21.5H14.5V22.5H11.5zM18.5 21.5H19.5V22.5H18.5zM63.5 21.5H64.5V22.5H63.5zM12.5 22.5H13.5V23.5H12.5zM14.5 22.5H16.5V23.5H14.5zM51.5 22.5H52.5V23.5H51.5zM53.5 22.5H54.5V23.5H53.5zM55.5 22.5H56.5V23.5H55.5zM59.5 22.5H60.5V23.5H59.5zM61.5 22.5H62.5V23.5H61.5zM11.5 23.5H13.5V24.5H11.5zM18.5 23.5H19.5V24.5H18.5zM50.5 23.5H51.5V24.5H50.5zM63.5 23.5H64.5V24.5H63.5zM54.5 24.5H55.5V25.5H54.5zM13.5 25.5H14.5V26.5H13.5zM56.5 25.5H57.5V26.5H56.5zM60.5 25.5H61.5V26.5H60.5zM12.5 26.5H13.5V27.5H12.5zM52.5 26.5H53.5V27.5H52.5zM58.5 26.5H59.5V27.5H58.5zM12.5 27.5H14.5V28.5H12.5zM18.5 27.5H19.5V28.5H18.5zM58.5 27.5H59.5V28.5H58.5zM60.5 27.5H61.5V28.5H60.5zM54.5 28.5H55.5V29.5H54.5zM60.5 28.5H61.5V29.5H60.5zM3.5 29.5H4.5V30.5H3.5zM14.5 29.5H16.5V30.5H14.5zM10.5 30.5H11.5V31.5H10.5zM17.5 30.5H18.5V31.5H17.5zM19.5 30.5H20.5V31.5H19.5zM17.5 31.5H18.5V32.5H17.5zM50.5 31.5H51.5V32.5H50.5zM6.5 32.5H7.5V33.5H6.5zM11.5 32.5H12.5V33.5H11.5zM15.5 32.5H17.5V33.5H15.5zM18.5 32.5H19.5V33.5H18.5zM3.5 33.5H4.5V34.5H3.5zM59.5 33.5H60.5V34.5H59.5zM3.5 34.5H4.5V35.5H3.5zM5.5 34.5H6.5V35.5H5.5zM14.5 34.5H15.5V35.5H14.5zM16.5 34.5H17.5V35.5H16.5zM18.5 34.5H19.5V35.5H18.5zM59.5 34.5H60.5V35.5H59.5zM0 35.5H0.5V36.5H0zM2.5 35.5H3.5V36.5H2.5zM4.5 35.5H5.5V36.5H4.5zM6.5 35.5H8.5V36.5H6.5zM13.5 35.5H14.5V36.5H13.5zM55.5 35.5H56.5V36.5H55.5zM57.5 35.5H59.5V36.5H57.5zM1.5 36.5H2.5V37.5H1.5zM5.5 36.5H6.5V37.5H5.5zM7.5 36.5H9.5V37.5H7.5zM11.5 36.5H12.5V37.5H11.5zM14.5 36.5H16.5V37.5H14.5zM55.5 36.5H56.5V37.5H55.5zM59.5 36.5H60.5V37.5H59.5zM3.5 37.5H4.5V38.5H3.5zM9.5 37.5H10.5V38.5H9.5zM12.5 37.5H13.5V38.5H12.5zM15.5 37.5H17.5V38.5H15.5zM57.5 37.5H58.5V38.5H57.5zM15.5 38.5H16.5V39.5H15.5zM19.5 38.5H20.5V39.5H19.5zM14.5 39.5H16.5V40.5H14.5zM13.5 40.5H14.5V41.5H13.5zM14.5 41.5H17.5V42.5H14.5zM11.5 42.5H13.5V43.5H11.5zM18.5 42.5H19.5V43.5H18.5zM13.5 43.5H14.5V44.5H13.5zM11.5 44.5H12.5V45.5H11.5zM13.5 44.5H14.5V45.5H13.5zM18.5 44.5H19.5V45.5H18.5zM11.5 45.5H14.5V46.5H11.5zM10.5 46.5H11.5V47.5H10.5zM17.5 46.5H18.5V47.5H17.5zM0.5 47.5H1.5V48.5H0.5zM54.5 47.5H55.5V48.5H54.5zM56.5 47.5H57.5V48.5H56.5zM60.5 47.5H61.5V48.5H60.5zM11.5 48.5H12.5V49.5H11.5zM15.5 48.5H16.5V49.5H15.5zM19.5 48.5H20.5V49.5H19.5zM54.5 49.5H55.5V50.5H54.5zM56.5 49.5H57.5V50.5H56.5zM1.5 50.5H3.5V51.5H1.5zM4.5 50.5H5.5V51.5H4.5zM6.5 50.5H7.5V51.5H6.5zM8.5 50.5H9.5V51.5H8.5zM23.5 50.5H24.5V51.5H23.5zM31.5 50.5H32.5V51.5H31.5zM56.5 50.5H57.5V51.5H56.5zM58.5 50.5H59.5V51.5H58.5zM1.5 51.5H3.5V52.5H1.5zM5.5 51.5H6.5V52.5H5.5zM22.5 51.5H23.5V52.5H22.5zM58.5 51.5H59.5V52.5H58.5zM1.5 52.5H2.5V53.5H1.5zM8.5 52.5H10.5V53.5H8.5zM26.5 52.5H27.5V53.5H26.5zM55.5 52.5H56.5V53.5H55.5zM58.5 52.5H59.5V53.5H58.5zM1.5 53.5H3.5V54.5H1.5zM22.5 53.5H23.5V54.5H22.5zM20.5 54.5H21.5V55.5H20.5zM24.5 54.5H25.5V55.5H24.5zM28.5 54.5H29.5V55.5H28.5zM47.5 54.5H48.5V55.5H47.5zM49.5 54.5H50.5V55.5H49.5zM22.5 55.5H23.5V56.5H22.5zM35.5 55.5H37.5V56.5H35.5zM52.5 55.5H53.5V56.5H52.5zM62.5 55.5H63.5V56.5H62.5zM67.5 55.5H68.5V56.5H67.5zM25.5 56.5H26.5V57.5H25.5zM47.5 56.5H48.5V57.5H47.5zM49.5 56.5H51.5V57.5H49.5zM35.5 57.5H36.5V58.5H35.5zM37.5 57.5H38.5V58.5H37.5zM62.5 57.5H63.5V58.5H62.5zM64.5 57.5H65.5V58.5H64.5zM66.5 57.5H68.5V58.5H66.5zM26.5 58.5H28.5V59.5H26.5zM35.5 58.5H36.5V59.5H35.5zM50.5 58.5H53.5V59.5H50.5zM64.5 58.5H65.5V59.5H64.5zM67.5 58.5H68.5V59.5H67.5zM22.5 59.5H23.5V60.5H22.5zM33.5 59.5H35.5V60.5H33.5zM36.5 59.5H37.5V60.5H36.5zM62.5 59.5H63.5V60.5H62.5zM64.5 59.5H67.5V60.5H64.5zM25.5 60.5H26.5V61.5H25.5zM27.5 60.5H29.5V61.5H27.5zM47.5 60.5H48.5V61.5H47.5zM3.5 61.5H4.5V62.5H3.5zM22.5 61.5H23.5V62.5H22.5zM0 62.5H0.5V63.5H0zM1.5 62.5H2.5V63.5H1.5zM4.5 62.5H7.5V63.5H4.5zM8.5 62.5H10.5V63.5H8.5zM19.5 62.5H20.5V63.5H19.5zM55.5 62.5H56.5V63.5H55.5zM57.5 62.5H58.5V63.5H57.5zM59.5 62.5H60.5V63.5H59.5zM3.5 63.5H4.5V64.5H3.5zM21.5 63.5H22.5V64.5H21.5zM23.5 63.5H24.5V64.5H23.5zM0 64.5H0.5V65.5H0zM1.5 64.5H3.5V65.5H1.5zM4.5 64.5H5.5V65.5H4.5zM9.5 64.5H11.5V65.5H9.5zM17.5 64.5H18.5V65.5H17.5zM19.5 64.5H20.5V65.5H19.5zM57.5 64.5H60.5V65.5H57.5zM5.5 65.5H7.5V66.5H5.5zM59.5 65.5H60.5V66.5H59.5zM4.5 66.5H6.5V67.5H4.5zM7.5 66.5H8.5V67.5H7.5zM57.5 66.5H58.5V67.5H57.5zM59.5 66.5H60.5V67.5H59.5zM0 67.5H0.5V68.5H0zM1.5 67.5H3.5V68.5H1.5zM6.5 67.5H7.5V68.5H6.5zM9.5 67.5H11.5V68.5H9.5zM14.5 67.5H16.5V68.5H14.5zM17.5 67.5H18.5V68.5H17.5zM19.5 67.5H20.5V68.5H19.5zM55.5 67.5H56.5V68.5H55.5zM57.5 67.5H59.5V68.5H57.5zM0.5 70.5H1.5V71.5H0.5zM0 71.5H0.5V72.5H0zM4.5 71.5H6.5V72.5H4.5zM7.5 71.5H9.5V72.5H7.5zM4.5 72.5H5.5V73.5H4.5zM2.5 73.5H3.5V74.5H2.5zM5.5 73.5H7.5V74.5H5.5zM0.5 74.5H1.5V75.5H0.5z"/><path fill="#287c8e" d="M32.5 0H33.5V0.5H32.5zM34.5 0H35.5V0.5H34.5zM36.5 0H38.5V0.5H36.5zM65.5 0H67.5V0.5H65.5zM73.5 0H74.5V0.5H73.5zM51.5 0.5H54.5V1.5H51.5zM64.5 0.5H68.5V1.5H64.5zM72.5 0.5H73.5V1.5H72.5zM35.5 1.5H36.5V2.5H35.5zM37.5 1.5H38.5V2.5H37.5zM66.5 1.5H67.5V2.5H66.5zM71.5 1.5H72.5V2.5H71.5zM73.5 1.5H74.5V2.5H73.5zM29.5 2.5H30.5V3.5H29.5zM32.5 2.5H34.5V3.5H32.5zM61.5 2.5H62.5V3.5H61.5zM65.5 2.5H67.5V3.5H65.5zM30.5 3.5H31.5V4.5H30.5zM29.5 4.5H30.5V5.5H29.5zM32.5 4.5H35.5V5.5H32.5zM37.5 4.5H38.5V5.5H37.5zM65.5 4.5H66.5V5.5H65.5zM29.5 5.5H30.5V6.5H29.5zM32.5 5.5H34.5V6.5H32.5zM37.5 5.5H38.5V6.5H37.5zM61.5 5.5H62.5V6.5H61.5zM34.5 6.5H35.5V7.5H34.5zM36.5 6.5H38.5V7.5H36.5zM64.5 6.5H65.5V7.5H64.5zM66.5 6.5H67.5V7.5H66.5zM32.5 7.5H35.5V8.5H32.5zM37.5 7.5H38.5V8.5H37.5zM61.5 7.5H63.5V8.5H61.5zM65.5 7.5H66.5V8.5H65.5zM73.5 7.5H74.5V8.5H73.5zM32.5 8.5H33.5V9.5H32.5zM34.5 8.5H35.5V9.5H34.5zM37.5 8.5H38.5V9.5H37.5zM64.5 8.5H67.5V9.5H64.5zM73.5 8.5H74.5V9.5H73.5zM29.5 9.5H30.5V10.5H29.5zM32.5 9.5H35.5V10.5H32.5zM36.5 9.5H37.5V10.5H36.5zM61.5 9.5H62.5V10.5H61.5zM63.5 9.5H64.5V10.5H63.5zM65.5 9.5H67.5V10.5H65.5zM73.5 9.5H74.5V10.5H73.5zM31.5 10.5H32.5V11.5H31.5zM47.5 10.5H48.5V11.5H47.5zM50.5 10.5H52.5V11.5H50.5zM22.5 11.5H23.5V12.5H22.5zM26.5 11.5H27.5V12.5H26.5zM29.5 11.5H30.5V12.5H29.5zM33.5 11.5H35.5V12.5H33.5zM37.5 11.5H40.5V12.5H37.5zM41.5 11.5H42.5V12.5H41.5zM29.5 12.5H30.5V13.5H29.5zM32.5 12.5H35.5V13.5H32.5zM36.5 12.5H37.5V13.5H36.5zM39.5 12.5H40.5V13.5H39.5zM41.5 12.5H42.5V13.5H41.5zM44.5 12.5H45.5V13.5H44.5zM48.5 12.5H49.5V13.5H48.5zM23.5 13.5H24.5V14.5H23.5zM26.5 13.5H27.5V14.5H26.5zM32.5 13.5H33.5V14.5H32.5zM36.5 13.5H38.5V14.5H36.5zM42.5 13.5H43.5V14.5H42.5zM30.5 14.5H31.5V15.5H30.5zM38.5 14.5H39.5V15.5H38.5zM48.5 14.5H49.5V15.5H48.5zM64.5 14.5H65.5V15.5H64.5zM30.5 15.5H31.5V16.5H30.5zM46.5 15.5H47.5V16.5H46.5zM30.5 16.5H31.5V17.5H30.5zM38.5 16.5H39.5V17.5H38.5zM46.5 16.5H47.5V17.5H46.5zM62.5 16.5H63.5V17.5H62.5zM64.5 16.5H65.5V17.5H64.5zM67.5 16.5H68.5V17.5H67.5zM47.5 17.5H48.5V18.5H47.5zM49.5 17.5H50.5V18.5H49.5zM51.5 17.5H52.5V18.5H51.5zM62.5 17.5H63.5V18.5H62.5zM66.5 17.5H67.5V18.5H66.5zM22.5 18.5H23.5V19.5H22.5zM37.5 18.5H38.5V19.5H37.5zM39.5 18.5H40.5V19.5H39.5zM41.5 18.5H42.5V19.5H41.5zM45.5 18.5H46.5V19.5H45.5zM46.5 19.5H47.5V20.5H46.5zM49.5 19.5H50.5V20.5H49.5zM66.5 19.5H67.5V20.5H66.5zM54.5 21.5H55.5V22.5H54.5zM60.5 21.5H61.5V22.5H60.5zM11.5 22.5H12.5V23.5H11.5zM18.5 22.5H19.5V23.5H18.5zM50.5 22.5H51.5V23.5H50.5zM52.5 22.5H53.5V23.5H52.5zM58.5 22.5H59.5V23.5H58.5zM13.5 23.5H14.5V24.5H13.5zM54.5 23.5H55.5V24.5H54.5zM56.5 23.5H57.5V24.5H56.5zM60.5 23.5H61.5V24.5H60.5zM11.5 26.5H12.5V27.5H11.5zM13.5 26.5H14.5V27.5H13.5zM60.5 26.5H61.5V27.5H60.5zM54.5 27.5H55.5V28.5H54.5zM56.5 28.5H57.5V29.5H56.5zM2.5 29.5H3.5V30.5H2.5zM4.5 29.5H6.5V30.5H4.5zM9.5 29.5H10.5V30.5H9.5zM11.5 29.5H13.5V30.5H11.5zM57.5 29.5H58.5V30.5H57.5zM59.5 29.5H60.5V30.5H59.5zM3.5 30.5H4.5V31.5H3.5zM14.5 30.5H17.5V31.5H14.5zM57.5 30.5H58.5V31.5H57.5zM10.5 31.5H11.5V32.5H10.5zM0 32.5H0.5V33.5H0zM2.5 32.5H3.5V33.5H2.5zM4.5 32.5H6.5V33.5H4.5zM7.5 32.5H10.5V33.5H7.5zM12.5 32.5H14.5V33.5H12.5zM55.5 32.5H56.5V33.5H55.5zM57.5 32.5H60.5V33.5H57.5zM2.5 33.5H3.5V34.5H2.5zM4.5 33.5H6.5V34.5H4.5zM7.5 33.5H8.5V34.5H7.5zM9.5 33.5H10.5V34.5H9.5zM11.5 33.5H13.5V34.5H11.5zM55.5 33.5H56.5V34.5H55.5zM57.5 33.5H58.5V34.5H57.5zM0 34.5H0.5V35.5H0zM4.5 34.5H5.5V35.5H4.5zM6.5 34.5H10.5V35.5H6.5zM11.5 34.5H13.5V35.5H11.5zM55.5 34.5H56.5V35.5H55.5zM57.5 34.5H59.5V35.5H57.5zM1.5 35.5H2.5V36.5H1.5zM56.5 35.5H57.5V36.5H56.5zM0 36.5H0.5V37.5H0zM6.5 36.5H7.5V37.5H6.5zM9.5 36.5H10.5V37.5H9.5zM12.5 36.5H14.5V37.5H12.5zM57.5 36.5H58.5V37.5H57.5zM0 37.5H0.5V38.5H0zM1.5 37.5H2.5V38.5H1.5zM4.5 37.5H9.5V38.5H4.5zM11.5 37.5H12.5V38.5H11.5zM13.5 37.5H14.5V38.5H13.5zM18.5 37.5H19.5V38.5H18.5zM55.5 37.5H56.5V38.5H55.5zM59.5 37.5H60.5V38.5H59.5zM11.5 38.5H12.5V39.5H11.5zM14.5 38.5H15.5V39.5H14.5zM16.5 38.5H17.5V39.5H16.5zM11.5 39.5H13.5V40.5H11.5zM18.5 39.5H19.5V40.5H18.5zM48.5 40.5H49.5V41.5H48.5zM62.5 40.5H63.5V41.5H62.5zM64.5 40.5H65.5V41.5H64.5zM67.5 40.5H68.5V41.5H67.5zM11.5 41.5H13.5V42.5H11.5zM18.5 41.5H19.5V42.5H18.5zM13.5 42.5H14.5V43.5H13.5zM12.5 44.5H13.5V45.5H12.5zM48.5 44.5H49.5V45.5H48.5zM18.5 45.5H19.5V46.5H18.5zM64.5 45.5H65.5V46.5H64.5zM67.5 45.5H68.5V46.5H67.5zM15.5 46.5H17.5V47.5H15.5zM19.5 46.5H20.5V47.5H19.5zM10.5 47.5H11.5V48.5H10.5zM17.5 47.5H18.5V48.5H17.5zM12.5 48.5H13.5V49.5H12.5zM14.5 48.5H15.5V49.5H14.5zM40.5 48.5H41.5V49.5H40.5zM44.5 48.5H45.5V49.5H44.5zM17.5 49.5H18.5V50.5H17.5zM19.5 49.5H20.5V50.5H19.5zM60.5 49.5H61.5V50.5H60.5zM10.5 50.5H11.5V51.5H10.5zM22.5 50.5H23.5V51.5H22.5zM54.5 50.5H55.5V51.5H54.5zM60.5 50.5H61.5V51.5H60.5zM0.5 51.5H1.5V52.5H0.5zM10.5 51.5H11.5V52.5H10.5zM17.5 51.5H18.5V52.5H17.5zM56.5 51.5H57.5V52.5H56.5zM60.5 51.5H61.5V52.5H60.5zM0.5 52.5H1.5V53.5H0.5zM22.5 52.5H23.5V53.5H22.5zM60.5 52.5H61.5V53.5H60.5zM0.5 53.5H1.5V54.5H0.5zM58.5 53.5H59.5V54.5H58.5zM60.5 53.5H61.5V54.5H60.5zM21.5 54.5H22.5V55.5H21.5zM23.5 54.5H24.5V55.5H23.5zM27.5 54.5H28.5V55.5H27.5zM50.5 54.5H51.5V55.5H50.5zM32.5 55.5H35.5V56.5H32.5zM37.5 55.5H38.5V56.5H37.5zM61.5 55.5H62.5V56.5H61.5zM65.5 55.5H66.5V56.5H65.5zM23.5 56.5H24.5V57.5H23.5zM28.5 56.5H29.5V57.5H28.5zM35.5 56.5H36.5V57.5H35.5zM51.5 56.5H52.5V57.5H51.5zM29.5 57.5H31.5V58.5H29.5zM32.5 57.5H35.5V58.5H32.5zM36.5 57.5H37.5V58.5H36.5zM61.5 57.5H62.5V58.5H61.5zM65.5 57.5H66.5V58.5H65.5zM22.5 58.5H23.5V59.5H22.5zM32.5 58.5H33.5V59.5H32.5zM34.5 58.5H35.5V59.5H34.5zM53.5 58.5H54.5V59.5H53.5zM62.5 58.5H63.5V59.5H62.5zM29.5 59.5H30.5V60.5H29.5zM32.5 59.5H33.5V60.5H32.5zM37.5 59.5H38.5V60.5H37.5zM61.5 59.5H62.5V60.5H61.5zM63.5 59.5H64.5V60.5H63.5zM21.5 60.5H22.5V61.5H21.5zM23.5 60.5H24.5V61.5H23.5zM26.5 60.5H27.5V61.5H26.5zM49.5 60.5H54.5V61.5H49.5zM2.5 61.5H3.5V62.5H2.5zM5.5 61.5H6.5V62.5H5.5zM7.5 61.5H8.5V62.5H7.5zM9.5 61.5H10.5V62.5H9.5zM55.5 61.5H56.5V62.5H55.5zM57.5 61.5H58.5V62.5H57.5zM59.5 61.5H60.5V62.5H59.5zM7.5 62.5H8.5V63.5H7.5zM16.5 62.5H18.5V63.5H16.5zM40.5 62.5H41.5V63.5H40.5zM58.5 62.5H59.5V63.5H58.5zM9.5 63.5H10.5V64.5H9.5zM59.5 63.5H60.5V64.5H59.5zM0.5 64.5H1.5V65.5H0.5zM6.5 64.5H7.5V65.5H6.5zM8.5 64.5H9.5V65.5H8.5zM14.5 64.5H15.5V65.5H14.5zM16.5 64.5H17.5V65.5H16.5zM40.5 64.5H41.5V65.5H40.5zM45.5 64.5H46.5V65.5H45.5zM0 65.5H1.5V66.5H0zM2.5 65.5H3.5V66.5H2.5zM4.5 65.5H5.5V66.5H4.5zM7.5 65.5H10.5V66.5H7.5zM55.5 65.5H56.5V66.5H55.5zM57.5 65.5H58.5V66.5H57.5zM0 66.5H3.5V67.5H0zM6.5 66.5H7.5V67.5H6.5zM8.5 66.5H10.5V67.5H8.5zM17.5 66.5H18.5V67.5H17.5zM19.5 66.5H20.5V67.5H19.5zM0.5 67.5H1.5V68.5H0.5zM16.5 67.5H17.5V68.5H16.5zM40.5 67.5H41.5V68.5H40.5zM45.5 67.5H46.5V68.5H45.5zM1.5 71.5H2.5V72.5H1.5zM0.5 72.5H1.5V73.5H0.5zM0 73.5H0.5V74.5H0zM1.5 73.5H2.5V74.5H1.5zM7.5 73.5H10.5V74.5H7.5z"/><path fill="#26828e" d="M29.5 0H30.5V0.5H29.5zM33.5 0H34.5V0.5H33.5zM61.5 0H62.5V0.5H61.5zM63.5 0H64.5V0.5H63.5zM32.5 0.5H33.5V1.5H32.5zM35.5 0.5H36.5V1.5H35.5zM37.5 0.5H38.5V1.5H37.5zM50.5 0.5H51.5V1.5H50.5zM62.5 0.5H63.5V1.5H62.5zM71.5 0.5H72.5V1.5H71.5zM29.5 1.5H30.5V2.5H29.5zM32.5 1.5H35.5V2.5H32.5zM65.5 1.5H66.5V2.5H65.5zM34.5 2.5H35.5V3.5H34.5zM36.5 2.5H38.5V3.5H36.5zM62.5 2.5H63.5V3.5H62.5zM36.5 4.5H37.5V5.5H36.5zM61.5 4.5H62.5V5.5H61.5zM63.5 4.5H64.5V5.5H63.5zM73.5 4.5H74.5V5.5H73.5zM30.5 5.5H31.5V6.5H30.5zM29.5 6.5H30.5V7.5H29.5zM33.5 6.5H34.5V7.5H33.5zM61.5 6.5H62.5V7.5H61.5zM63.5 6.5H64.5V7.5H63.5zM71.5 6.5H72.5V7.5H71.5zM29.5 7.5H31.5V8.5H29.5zM63.5 7.5H64.5V8.5H63.5zM29.5 8.5H30.5V9.5H29.5zM33.5 8.5H34.5V9.5H33.5zM30.5 9.5H31.5V10.5H30.5zM49.5 10.5H50.5V11.5H49.5zM53.5 10.5H54.5V11.5H53.5zM62.5 10.5H63.5V11.5H62.5zM65.5 10.5H67.5V11.5H65.5zM30.5 11.5H31.5V12.5H30.5zM46.5 11.5H47.5V12.5H46.5zM64.5 11.5H65.5V12.5H64.5zM67.5 11.5H68.5V12.5H67.5zM30.5 12.5H31.5V13.5H30.5zM38.5 12.5H39.5V13.5H38.5zM67.5 12.5H68.5V13.5H67.5zM22.5 13.5H23.5V14.5H22.5zM29.5 13.5H30.5V14.5H29.5zM33.5 13.5H35.5V14.5H33.5zM39.5 13.5H40.5V14.5H39.5zM41.5 13.5H42.5V14.5H41.5zM46.5 13.5H47.5V14.5H46.5zM48.5 13.5H49.5V14.5H48.5zM46.5 14.5H48.5V15.5H46.5zM62.5 14.5H63.5V15.5H62.5zM66.5 14.5H67.5V15.5H66.5zM31.5 15.5H32.5V16.5H31.5zM47.5 15.5H48.5V16.5H47.5zM49.5 15.5H50.5V16.5H49.5zM65.5 15.5H66.5V16.5H65.5zM31.5 16.5H32.5V17.5H31.5zM47.5 16.5H48.5V17.5H47.5zM65.5 16.5H67.5V17.5H65.5zM50.5 17.5H51.5V18.5H50.5zM53.5 17.5H54.5V18.5H53.5zM61.5 17.5H62.5V18.5H61.5zM65.5 17.5H66.5V18.5H65.5zM29.5 18.5H30.5V19.5H29.5zM33.5 18.5H34.5V19.5H33.5zM36.5 18.5H37.5V19.5H36.5zM48.5 18.5H49.5V19.5H48.5zM31.5 19.5H32.5V20.5H31.5zM47.5 19.5H48.5V20.5H47.5zM50.5 19.5H51.5V20.5H50.5zM53.5 19.5H54.5V20.5H53.5zM65.5 19.5H66.5V20.5H65.5zM13.5 22.5H14.5V23.5H13.5zM60.5 22.5H61.5V23.5H60.5zM54.5 25.5H55.5V26.5H54.5zM54.5 26.5H55.5V27.5H54.5zM56.5 26.5H57.5V27.5H56.5zM0 29.5H0.5V30.5H0zM1.5 29.5H2.5V30.5H1.5zM6.5 29.5H9.5V30.5H6.5zM13.5 29.5H14.5V30.5H13.5zM18.5 29.5H19.5V30.5H18.5zM55.5 29.5H56.5V30.5H55.5zM58.5 29.5H59.5V30.5H58.5zM5.5 30.5H6.5V31.5H5.5zM7.5 30.5H8.5V31.5H7.5zM9.5 30.5H10.5V31.5H9.5zM11.5 30.5H13.5V31.5H11.5zM55.5 30.5H56.5V31.5H55.5zM15.5 31.5H17.5V32.5H15.5zM19.5 31.5H20.5V32.5H19.5zM0.5 32.5H2.5V33.5H0.5zM56.5 32.5H57.5V33.5H56.5zM60.5 32.5H61.5V33.5H60.5zM0 33.5H0.5V34.5H0zM1.5 33.5H2.5V34.5H1.5zM6.5 33.5H7.5V34.5H6.5zM8.5 33.5H9.5V34.5H8.5zM13.5 33.5H14.5V34.5H13.5zM18.5 33.5H19.5V34.5H18.5zM1.5 34.5H3.5V35.5H1.5zM13.5 34.5H14.5V35.5H13.5zM0.5 35.5H1.5V36.5H0.5zM54.5 35.5H55.5V36.5H54.5zM60.5 35.5H61.5V36.5H60.5zM2.5 36.5H3.5V37.5H2.5zM4.5 36.5H5.5V37.5H4.5zM18.5 36.5H19.5V37.5H18.5zM58.5 36.5H59.5V37.5H58.5zM0.5 37.5H1.5V38.5H0.5zM2.5 37.5H3.5V38.5H2.5zM58.5 37.5H59.5V38.5H58.5zM12.5 38.5H13.5V39.5H12.5zM13.5 39.5H14.5V40.5H13.5zM67.5 39.5H68.5V40.5H67.5zM46.5 40.5H47.5V41.5H46.5zM65.5 40.5H66.5V41.5H65.5zM13.5 41.5H14.5V42.5H13.5zM67.5 42.5H68.5V43.5H67.5zM46.5 43.5H47.5V44.5H46.5zM48.5 43.5H49.5V44.5H48.5zM62.5 43.5H63.5V44.5H62.5zM64.5 43.5H68.5V44.5H64.5zM64.5 44.5H66.5V45.5H64.5zM67.5 44.5H68.5V45.5H67.5zM48.5 45.5H49.5V46.5H48.5zM11.5 46.5H12.5V47.5H11.5zM13.5 46.5H15.5V47.5H13.5zM40.5 46.5H41.5V47.5H40.5zM43.5 46.5H44.5V47.5H43.5zM14.5 47.5H17.5V48.5H14.5zM19.5 47.5H20.5V48.5H19.5zM13.5 48.5H14.5V49.5H13.5zM18.5 48.5H19.5V49.5H18.5zM43.5 48.5H44.5V49.5H43.5zM45.5 48.5H46.5V49.5H45.5zM10.5 49.5H11.5V50.5H10.5zM15.5 49.5H16.5V50.5H15.5zM0.5 50.5H1.5V51.5H0.5zM17.5 50.5H18.5V51.5H17.5zM19.5 50.5H20.5V51.5H19.5zM54.5 52.5H55.5V53.5H54.5zM56.5 52.5H57.5V53.5H56.5zM10.5 53.5H11.5V54.5H10.5zM17.5 53.5H18.5V54.5H17.5zM19.5 53.5H20.5V54.5H19.5zM54.5 53.5H55.5V54.5H54.5zM56.5 53.5H57.5V54.5H56.5zM25.5 54.5H27.5V55.5H25.5zM35.5 54.5H36.5V55.5H35.5zM52.5 54.5H54.5V55.5H52.5zM62.5 54.5H63.5V55.5H62.5zM29.5 55.5H31.5V56.5H29.5zM64.5 55.5H65.5V56.5H64.5zM66.5 55.5H67.5V56.5H66.5zM26.5 56.5H27.5V57.5H26.5zM32.5 56.5H33.5V57.5H32.5zM52.5 56.5H54.5V57.5H52.5zM67.5 56.5H68.5V57.5H67.5zM29.5 58.5H30.5V59.5H29.5zM36.5 58.5H38.5V59.5H36.5zM61.5 58.5H62.5V59.5H61.5zM65.5 58.5H67.5V59.5H65.5zM22.5 60.5H23.5V61.5H22.5zM32.5 60.5H33.5V61.5H32.5zM35.5 60.5H36.5V61.5H35.5zM67.5 60.5H68.5V61.5H67.5zM0 61.5H0.5V62.5H0zM4.5 61.5H5.5V62.5H4.5zM6.5 61.5H7.5V62.5H6.5zM17.5 61.5H18.5V62.5H17.5zM58.5 61.5H59.5V62.5H58.5zM0.5 62.5H1.5V63.5H0.5zM2.5 62.5H3.5V63.5H2.5zM10.5 62.5H11.5V63.5H10.5zM14.5 62.5H15.5V63.5H14.5zM43.5 62.5H44.5V63.5H43.5zM54.5 62.5H55.5V63.5H54.5zM0 63.5H0.5V64.5H0zM4.5 63.5H5.5V64.5H4.5zM6.5 63.5H8.5V64.5H6.5zM11.5 64.5H12.5V65.5H11.5zM43.5 64.5H45.5V65.5H43.5zM55.5 64.5H56.5V65.5H55.5zM1.5 65.5H2.5V66.5H1.5zM10.5 65.5H11.5V66.5H10.5zM15.5 65.5H18.5V66.5H15.5zM19.5 65.5H20.5V66.5H19.5zM40.5 65.5H41.5V66.5H40.5zM43.5 65.5H45.5V66.5H43.5zM58.5 65.5H59.5V66.5H58.5zM10.5 66.5H11.5V67.5H10.5zM14.5 66.5H15.5V67.5H14.5zM16.5 66.5H17.5V67.5H16.5zM43.5 66.5H44.5V67.5H43.5zM55.5 66.5H56.5V67.5H55.5zM58.5 66.5H59.5V67.5H58.5zM11.5 67.5H13.5V68.5H11.5zM39.5 67.5H40.5V68.5H39.5zM42.5 67.5H45.5V68.5H42.5zM56.5 67.5H57.5V68.5H56.5zM60.5 67.5H61.5V68.5H60.5zM0.5 71.5H1.5V72.5H0.5zM6.5 71.5H7.5V72.5H6.5zM4.5 73.5H5.5V74.5H4.5z"/><path fill="#24868e" d="M30.5 0H31.5V0.5H30.5zM29.5 0.5H30.5V1.5H29.5zM33.5 0.5H35.5V1.5H33.5zM36.5 0.5H37.5V1.5H36.5zM61.5 0.5H62.5V1.5H61.5zM73.5 0.5H74.5V1.5H73.5zM30.5 1.5H31.5V2.5H30.5zM61.5 1.5H62.5V2.5H61.5zM63.5 1.5H64.5V2.5H63.5zM30.5 2.5H31.5V3.5H30.5zM31.5 3.5H32.5V4.5H31.5zM30.5 4.5H31.5V5.5H30.5zM63.5 5.5H64.5V6.5H63.5zM30.5 6.5H31.5V7.5H30.5zM61.5 8.5H62.5V9.5H61.5zM63.5 8.5H64.5V9.5H63.5zM52.5 10.5H53.5V11.5H52.5zM61.5 10.5H62.5V11.5H61.5zM63.5 10.5H64.5V11.5H63.5zM50.5 11.5H51.5V12.5H50.5zM62.5 11.5H63.5V12.5H62.5zM66.5 11.5H67.5V12.5H66.5zM46.5 12.5H48.5V13.5H46.5zM62.5 12.5H63.5V13.5H62.5zM64.5 12.5H66.5V13.5H64.5zM30.5 13.5H31.5V14.5H30.5zM38.5 13.5H39.5V14.5H38.5zM47.5 13.5H48.5V14.5H47.5zM64.5 13.5H65.5V14.5H64.5zM31.5 14.5H32.5V15.5H31.5zM49.5 14.5H50.5V15.5H49.5zM51.5 14.5H53.5V15.5H51.5zM65.5 14.5H66.5V15.5H65.5zM50.5 15.5H52.5V16.5H50.5zM53.5 15.5H54.5V16.5H53.5zM62.5 15.5H63.5V16.5H62.5zM64.5 15.5H65.5V16.5H64.5zM66.5 15.5H67.5V16.5H66.5zM49.5 16.5H54.5V17.5H49.5zM61.5 16.5H62.5V17.5H61.5zM52.5 17.5H53.5V18.5H52.5zM63.5 17.5H64.5V18.5H63.5zM30.5 18.5H31.5V19.5H30.5zM38.5 18.5H39.5V19.5H38.5zM46.5 18.5H48.5V19.5H46.5zM49.5 18.5H50.5V19.5H49.5zM51.5 18.5H52.5V19.5H51.5zM64.5 18.5H65.5V19.5H64.5zM67.5 18.5H68.5V19.5H67.5zM51.5 19.5H53.5V20.5H51.5zM61.5 19.5H62.5V20.5H61.5zM63.5 19.5H64.5V20.5H63.5zM54.5 22.5H55.5V23.5H54.5zM56.5 22.5H57.5V23.5H56.5zM0.5 29.5H1.5V30.5H0.5zM56.5 29.5H57.5V30.5H56.5zM0 30.5H0.5V31.5H0zM1.5 30.5H3.5V31.5H1.5zM4.5 30.5H5.5V31.5H4.5zM6.5 30.5H7.5V31.5H6.5zM13.5 30.5H14.5V31.5H13.5zM18.5 30.5H19.5V31.5H18.5zM58.5 30.5H60.5V31.5H58.5zM3.5 31.5H4.5V32.5H3.5zM14.5 31.5H15.5V32.5H14.5zM59.5 31.5H60.5V32.5H59.5zM54.5 32.5H55.5V33.5H54.5zM0.5 33.5H1.5V34.5H0.5zM58.5 33.5H59.5V34.5H58.5zM0.5 34.5H1.5V35.5H0.5zM54.5 34.5H55.5V35.5H54.5zM60.5 34.5H61.5V35.5H60.5zM0.5 36.5H1.5V37.5H0.5zM54.5 36.5H55.5V37.5H54.5zM60.5 36.5H61.5V37.5H60.5zM56.5 37.5H57.5V38.5H56.5zM60.5 37.5H61.5V38.5H60.5zM13.5 38.5H14.5V39.5H13.5zM18.5 38.5H19.5V39.5H18.5zM48.5 38.5H49.5V39.5H48.5zM46.5 39.5H47.5V40.5H46.5zM48.5 39.5H49.5V40.5H48.5zM62.5 39.5H63.5V40.5H62.5zM64.5 39.5H65.5V40.5H64.5zM66.5 39.5H67.5V40.5H66.5zM47.5 40.5H48.5V41.5H47.5zM49.5 40.5H50.5V41.5H49.5zM61.5 40.5H62.5V41.5H61.5zM66.5 40.5H67.5V41.5H66.5zM48.5 41.5H49.5V42.5H48.5zM67.5 41.5H68.5V42.5H67.5zM46.5 42.5H47.5V43.5H46.5zM48.5 42.5H49.5V43.5H48.5zM62.5 42.5H63.5V43.5H62.5zM64.5 42.5H67.5V43.5H64.5zM47.5 43.5H48.5V44.5H47.5zM49.5 43.5H50.5V44.5H49.5zM61.5 43.5H62.5V44.5H61.5zM46.5 44.5H47.5V45.5H46.5zM62.5 44.5H63.5V45.5H62.5zM46.5 45.5H47.5V46.5H46.5zM62.5 45.5H63.5V46.5H62.5zM65.5 45.5H66.5V46.5H65.5zM12.5 46.5H13.5V47.5H12.5zM18.5 46.5H19.5V47.5H18.5zM39.5 46.5H40.5V47.5H39.5zM42.5 46.5H43.5V47.5H42.5zM44.5 46.5H46.5V47.5H44.5zM67.5 46.5H68.5V47.5H67.5zM12.5 47.5H14.5V48.5H12.5zM18.5 47.5H19.5V48.5H18.5zM40.5 47.5H41.5V48.5H40.5zM43.5 47.5H44.5V48.5H43.5zM38.5 48.5H40.5V49.5H38.5zM41.5 48.5H43.5V49.5H41.5zM64.5 48.5H67.5V49.5H64.5zM14.5 49.5H15.5V50.5H14.5zM16.5 49.5H17.5V50.5H16.5zM18.5 49.5H19.5V50.5H18.5zM40.5 49.5H41.5V50.5H40.5zM43.5 49.5H44.5V50.5H43.5zM11.5 50.5H12.5V51.5H11.5zM15.5 50.5H17.5V51.5H15.5zM14.5 51.5H17.5V52.5H14.5zM18.5 51.5H20.5V52.5H18.5zM54.5 51.5H55.5V52.5H54.5zM10.5 52.5H11.5V53.5H10.5zM14.5 52.5H15.5V53.5H14.5zM16.5 52.5H18.5V53.5H16.5zM19.5 52.5H20.5V53.5H19.5zM15.5 53.5H17.5V54.5H15.5zM22.5 54.5H23.5V55.5H22.5zM32.5 54.5H33.5V55.5H32.5zM34.5 54.5H35.5V55.5H34.5zM36.5 54.5H37.5V55.5H36.5zM51.5 54.5H52.5V55.5H51.5zM67.5 54.5H68.5V55.5H67.5zM63.5 55.5H64.5V56.5H63.5zM22.5 56.5H23.5V57.5H22.5zM29.5 56.5H30.5V57.5H29.5zM37.5 56.5H38.5V57.5H37.5zM62.5 56.5H63.5V57.5H62.5zM64.5 56.5H66.5V57.5H64.5zM63.5 57.5H64.5V58.5H63.5zM30.5 58.5H31.5V59.5H30.5zM33.5 58.5H34.5V59.5H33.5zM63.5 58.5H64.5V59.5H63.5zM30.5 59.5H32.5V60.5H30.5zM34.5 60.5H35.5V61.5H34.5zM36.5 60.5H38.5V61.5H36.5zM62.5 60.5H63.5V61.5H62.5zM64.5 60.5H65.5V61.5H64.5zM66.5 60.5H67.5V61.5H66.5zM0.5 61.5H2.5V62.5H0.5zM8.5 61.5H9.5V62.5H8.5zM10.5 61.5H11.5V62.5H10.5zM16.5 61.5H17.5V62.5H16.5zM19.5 61.5H20.5V62.5H19.5zM40.5 61.5H41.5V62.5H40.5zM43.5 61.5H44.5V62.5H43.5zM11.5 62.5H13.5V63.5H11.5zM15.5 62.5H16.5V63.5H15.5zM39.5 62.5H40.5V63.5H39.5zM42.5 62.5H43.5V63.5H42.5zM44.5 62.5H46.5V63.5H44.5zM56.5 62.5H57.5V63.5H56.5zM60.5 62.5H61.5V63.5H60.5zM1.5 63.5H2.5V64.5H1.5zM5.5 63.5H6.5V64.5H5.5zM8.5 63.5H9.5V64.5H8.5zM10.5 63.5H11.5V64.5H10.5zM17.5 63.5H18.5V64.5H17.5zM19.5 63.5H20.5V64.5H19.5zM55.5 63.5H56.5V64.5H55.5zM57.5 63.5H59.5V64.5H57.5zM12.5 64.5H14.5V65.5H12.5zM15.5 64.5H16.5V65.5H15.5zM18.5 64.5H19.5V65.5H18.5zM39.5 64.5H40.5V65.5H39.5zM42.5 64.5H43.5V65.5H42.5zM48.5 64.5H49.5V65.5H48.5zM56.5 64.5H57.5V65.5H56.5zM60.5 64.5H61.5V65.5H60.5zM12.5 65.5H13.5V66.5H12.5zM14.5 65.5H15.5V66.5H14.5zM42.5 65.5H43.5V66.5H42.5zM45.5 65.5H46.5V66.5H45.5zM48.5 65.5H49.5V66.5H48.5zM56.5 65.5H57.5V66.5H56.5zM11.5 66.5H12.5V67.5H11.5zM15.5 66.5H16.5V67.5H15.5zM39.5 66.5H41.5V67.5H39.5zM42.5 66.5H43.5V67.5H42.5zM48.5 66.5H49.5V67.5H48.5zM60.5 66.5H61.5V67.5H60.5zM18.5 67.5H19.5V68.5H18.5zM41.5 67.5H42.5V68.5H41.5zM46.5 67.5H47.5V68.5H46.5zM54.5 67.5H55.5V68.5H54.5zM0.5 73.5H1.5V74.5H0.5z"/><path fill="#228b8d" d="M31.5 0H32.5V0.5H31.5zM63.5 2.5H64.5V3.5H63.5zM31.5 4.5H32.5V5.5H31.5zM31.5 5.5H32.5V6.5H31.5zM31.5 6.5H32.5V7.5H31.5zM31.5 7.5H32.5V8.5H31.5zM30.5 8.5H32.5V9.5H30.5zM31.5 9.5H32.5V10.5H31.5zM31.5 11.5H32.5V12.5H31.5zM47.5 11.5H48.5V12.5H47.5zM49.5 11.5H50.5V12.5H49.5zM61.5 11.5H62.5V12.5H61.5zM65.5 11.5H66.5V12.5H65.5zM31.5 12.5H32.5V13.5H31.5zM49.5 12.5H50.5V13.5H49.5zM51.5 12.5H53.5V13.5H51.5zM66.5 12.5H67.5V13.5H66.5zM31.5 13.5H32.5V14.5H31.5zM49.5 13.5H50.5V14.5H49.5zM62.5 13.5H63.5V14.5H62.5zM67.5 13.5H68.5V14.5H67.5zM50.5 14.5H51.5V15.5H50.5zM53.5 14.5H54.5V15.5H53.5zM61.5 14.5H62.5V15.5H61.5zM63.5 14.5H64.5V15.5H63.5zM52.5 15.5H53.5V16.5H52.5zM61.5 15.5H62.5V16.5H61.5zM63.5 15.5H64.5V16.5H63.5zM63.5 16.5H64.5V17.5H63.5zM31.5 18.5H32.5V19.5H31.5zM62.5 18.5H63.5V19.5H62.5zM66.5 18.5H67.5V19.5H66.5zM54.5 29.5H55.5V30.5H54.5zM60.5 29.5H61.5V30.5H60.5zM8.5 30.5H9.5V31.5H8.5zM56.5 30.5H57.5V31.5H56.5zM60.5 30.5H61.5V31.5H60.5zM0 31.5H0.5V32.5H0zM4.5 31.5H10.5V32.5H4.5zM11.5 31.5H14.5V32.5H11.5zM18.5 31.5H19.5V32.5H18.5zM55.5 31.5H56.5V32.5H55.5zM57.5 31.5H58.5V32.5H57.5zM54.5 33.5H55.5V34.5H54.5zM56.5 33.5H57.5V34.5H56.5zM60.5 33.5H61.5V34.5H60.5zM56.5 34.5H57.5V35.5H56.5zM56.5 36.5H57.5V37.5H56.5zM54.5 37.5H55.5V38.5H54.5zM62.5 38.5H63.5V39.5H62.5zM64.5 38.5H65.5V39.5H64.5zM67.5 38.5H68.5V39.5H67.5zM49.5 39.5H50.5V40.5H49.5zM65.5 39.5H66.5V40.5H65.5zM52.5 40.5H54.5V41.5H52.5zM63.5 40.5H64.5V41.5H63.5zM62.5 41.5H63.5V42.5H62.5zM64.5 41.5H65.5V42.5H64.5zM66.5 41.5H67.5V42.5H66.5zM49.5 42.5H50.5V43.5H49.5zM61.5 42.5H62.5V43.5H61.5zM50.5 43.5H52.5V44.5H50.5zM63.5 43.5H64.5V44.5H63.5zM49.5 44.5H50.5V45.5H49.5zM66.5 44.5H67.5V45.5H66.5zM47.5 45.5H48.5V46.5H47.5zM49.5 45.5H50.5V46.5H49.5zM61.5 45.5H62.5V46.5H61.5zM66.5 45.5H67.5V46.5H66.5zM62.5 46.5H63.5V47.5H62.5zM64.5 46.5H65.5V47.5H64.5zM66.5 46.5H67.5V47.5H66.5zM11.5 47.5H12.5V48.5H11.5zM45.5 47.5H46.5V48.5H45.5zM62.5 47.5H63.5V48.5H62.5zM62.5 48.5H64.5V49.5H62.5zM67.5 48.5H68.5V49.5H67.5zM11.5 49.5H14.5V50.5H11.5zM39.5 49.5H40.5V50.5H39.5zM42.5 49.5H43.5V50.5H42.5zM44.5 49.5H46.5V50.5H44.5zM67.5 49.5H68.5V50.5H67.5zM14.5 50.5H15.5V51.5H14.5zM43.5 50.5H44.5V51.5H43.5zM12.5 51.5H13.5V52.5H12.5zM43.5 51.5H44.5V52.5H43.5zM12.5 52.5H13.5V53.5H12.5zM15.5 52.5H16.5V53.5H15.5zM40.5 52.5H41.5V53.5H40.5zM14.5 53.5H15.5V54.5H14.5zM40.5 53.5H41.5V54.5H40.5zM29.5 54.5H30.5V55.5H29.5zM33.5 54.5H34.5V55.5H33.5zM37.5 54.5H38.5V55.5H37.5zM64.5 54.5H67.5V55.5H64.5zM31.5 55.5H32.5V56.5H31.5zM30.5 56.5H31.5V57.5H30.5zM33.5 56.5H35.5V57.5H33.5zM36.5 56.5H37.5V57.5H36.5zM61.5 56.5H62.5V57.5H61.5zM63.5 56.5H64.5V57.5H63.5zM66.5 56.5H67.5V57.5H66.5zM31.5 57.5H32.5V58.5H31.5zM29.5 60.5H31.5V61.5H29.5zM33.5 60.5H34.5V61.5H33.5zM61.5 60.5H62.5V61.5H61.5zM65.5 60.5H66.5V61.5H65.5zM11.5 61.5H12.5V62.5H11.5zM14.5 61.5H16.5V62.5H14.5zM42.5 61.5H43.5V62.5H42.5zM45.5 61.5H46.5V62.5H45.5zM56.5 61.5H57.5V62.5H56.5zM60.5 61.5H61.5V62.5H60.5zM13.5 62.5H14.5V63.5H13.5zM18.5 62.5H19.5V63.5H18.5zM38.5 62.5H39.5V63.5H38.5zM41.5 62.5H42.5V63.5H41.5zM46.5 62.5H49.5V63.5H46.5zM2.5 63.5H3.5V64.5H2.5zM14.5 63.5H17.5V64.5H14.5zM40.5 63.5H41.5V64.5H40.5zM43.5 63.5H44.5V64.5H43.5zM48.5 63.5H49.5V64.5H48.5zM56.5 63.5H57.5V64.5H56.5zM38.5 64.5H39.5V65.5H38.5zM41.5 64.5H42.5V65.5H41.5zM46.5 64.5H47.5V65.5H46.5zM54.5 64.5H55.5V65.5H54.5zM11.5 65.5H12.5V66.5H11.5zM39.5 65.5H40.5V66.5H39.5zM54.5 65.5H55.5V66.5H54.5zM60.5 65.5H61.5V66.5H60.5zM12.5 66.5H13.5V67.5H12.5zM18.5 66.5H19.5V67.5H18.5zM41.5 66.5H42.5V67.5H41.5zM44.5 66.5H47.5V67.5H44.5zM54.5 66.5H55.5V67.5H54.5zM56.5 66.5H57.5V67.5H56.5zM13.5 67.5H14.5V68.5H13.5zM38.5 67.5H39.5V68.5H38.5zM48.5 67.5H50.5V68.5H48.5z"/><path fill="#21918c" d="M63.5 0.5H64.5V1.5H63.5zM31.5 1.5H32.5V2.5H31.5zM31.5 2.5H32.5V3.5H31.5zM51.5 11.5H54.5V12.5H51.5zM63.5 11.5H64.5V12.5H63.5zM50.5 12.5H51.5V13.5H50.5zM53.5 12.5H54.5V13.5H53.5zM61.5 12.5H62.5V13.5H61.5zM50.5 13.5H54.5V14.5H50.5zM61.5 13.5H62.5V14.5H61.5zM65.5 13.5H67.5V14.5H65.5zM52.5 18.5H54.5V19.5H52.5zM61.5 18.5H62.5V19.5H61.5zM65.5 18.5H66.5V19.5H65.5zM1.5 31.5H3.5V32.5H1.5zM56.5 31.5H57.5V32.5H56.5zM58.5 31.5H59.5V32.5H58.5zM60.5 31.5H61.5V32.5H60.5zM46.5 38.5H47.5V39.5H46.5zM66.5 38.5H67.5V39.5H66.5zM47.5 39.5H48.5V40.5H47.5zM51.5 39.5H52.5V40.5H51.5zM61.5 39.5H62.5V40.5H61.5zM63.5 39.5H64.5V40.5H63.5zM50.5 40.5H52.5V41.5H50.5zM46.5 41.5H48.5V42.5H46.5zM61.5 41.5H62.5V42.5H61.5zM65.5 41.5H66.5V42.5H65.5zM47.5 42.5H48.5V43.5H47.5zM51.5 42.5H53.5V43.5H51.5zM63.5 42.5H64.5V43.5H63.5zM52.5 43.5H54.5V44.5H52.5zM47.5 44.5H48.5V45.5H47.5zM50.5 44.5H54.5V45.5H50.5zM61.5 44.5H62.5V45.5H61.5zM63.5 44.5H64.5V45.5H63.5zM50.5 45.5H52.5V46.5H50.5zM53.5 45.5H54.5V46.5H53.5zM63.5 45.5H64.5V46.5H63.5zM38.5 46.5H39.5V47.5H38.5zM41.5 46.5H42.5V47.5H41.5zM65.5 46.5H66.5V47.5H65.5zM39.5 47.5H40.5V48.5H39.5zM41.5 47.5H43.5V48.5H41.5zM44.5 47.5H45.5V48.5H44.5zM64.5 47.5H65.5V48.5H64.5zM67.5 47.5H68.5V48.5H67.5zM61.5 48.5H62.5V49.5H61.5zM62.5 49.5H63.5V50.5H62.5zM65.5 49.5H67.5V50.5H65.5zM12.5 50.5H14.5V51.5H12.5zM40.5 50.5H41.5V51.5H40.5zM44.5 50.5H46.5V51.5H44.5zM67.5 50.5H68.5V51.5H67.5zM11.5 51.5H12.5V52.5H11.5zM13.5 51.5H14.5V52.5H13.5zM39.5 51.5H41.5V52.5H39.5zM42.5 51.5H43.5V52.5H42.5zM44.5 51.5H46.5V52.5H44.5zM66.5 51.5H67.5V52.5H66.5zM11.5 52.5H12.5V53.5H11.5zM13.5 52.5H14.5V53.5H13.5zM18.5 52.5H19.5V53.5H18.5zM42.5 52.5H45.5V53.5H42.5zM64.5 52.5H65.5V53.5H64.5zM67.5 52.5H68.5V53.5H67.5zM11.5 53.5H14.5V54.5H11.5zM18.5 53.5H19.5V54.5H18.5zM43.5 53.5H46.5V54.5H43.5zM65.5 53.5H66.5V54.5H65.5zM67.5 53.5H68.5V54.5H67.5zM31.5 56.5H32.5V57.5H31.5zM31.5 58.5H32.5V59.5H31.5zM31.5 60.5H32.5V61.5H31.5zM63.5 60.5H64.5V61.5H63.5zM12.5 61.5H14.5V62.5H12.5zM18.5 61.5H19.5V62.5H18.5zM39.5 61.5H40.5V62.5H39.5zM41.5 61.5H42.5V62.5H41.5zM44.5 61.5H45.5V62.5H44.5zM48.5 61.5H49.5V62.5H48.5zM49.5 62.5H50.5V63.5H49.5zM0.5 63.5H1.5V64.5H0.5zM11.5 63.5H12.5V64.5H11.5zM39.5 63.5H40.5V64.5H39.5zM42.5 63.5H43.5V64.5H42.5zM44.5 63.5H46.5V64.5H44.5zM60.5 63.5H61.5V64.5H60.5zM47.5 64.5H48.5V65.5H47.5zM52.5 64.5H53.5V65.5H52.5zM13.5 65.5H14.5V66.5H13.5zM18.5 65.5H19.5V66.5H18.5zM41.5 65.5H42.5V66.5H41.5zM46.5 65.5H47.5V66.5H46.5zM49.5 65.5H50.5V66.5H49.5zM53.5 65.5H54.5V66.5H53.5zM13.5 66.5H14.5V67.5H13.5zM38.5 66.5H39.5V67.5H38.5zM49.5 66.5H50.5V67.5H49.5zM51.5 66.5H52.5V67.5H51.5zM47.5 67.5H48.5V68.5H47.5zM50.5 67.5H51.5V68.5H50.5zM52.5 67.5H54.5V68.5H52.5z"/><path fill="#1f958b" d="M30.5 0.5H32.5V1.5H30.5zM10.5 3.5H11.5V4.5H10.5zM16.5 3.5H18.5V4.5H16.5zM19.5 3.5H20.5V4.5H19.5zM3.5 10.5H4.5V11.5H3.5zM63.5 12.5H64.5V13.5H63.5zM63.5 13.5H64.5V14.5H63.5zM3.5 16.5H4.5V17.5H3.5zM3.5 17.5H4.5V18.5H3.5zM50.5 18.5H51.5V19.5H50.5zM63.5 18.5H64.5V19.5H63.5zM3.5 19.5H4.5V20.5H3.5zM0.5 30.5H1.5V31.5H0.5zM54.5 30.5H55.5V31.5H54.5zM0.5 31.5H1.5V32.5H0.5zM54.5 31.5H55.5V32.5H54.5zM47.5 38.5H48.5V39.5H47.5zM49.5 38.5H50.5V39.5H49.5zM51.5 38.5H52.5V39.5H51.5zM63.5 38.5H64.5V39.5H63.5zM65.5 38.5H66.5V39.5H65.5zM52.5 39.5H53.5V40.5H52.5zM49.5 41.5H50.5V42.5H49.5zM51.5 41.5H52.5V42.5H51.5zM53.5 41.5H54.5V42.5H53.5zM63.5 41.5H64.5V42.5H63.5zM50.5 42.5H51.5V43.5H50.5zM53.5 42.5H54.5V43.5H53.5zM52.5 45.5H53.5V46.5H52.5zM38.5 47.5H39.5V48.5H38.5zM65.5 47.5H67.5V48.5H65.5zM38.5 49.5H39.5V50.5H38.5zM41.5 49.5H42.5V50.5H41.5zM61.5 49.5H62.5V50.5H61.5zM64.5 49.5H65.5V50.5H64.5zM18.5 50.5H19.5V51.5H18.5zM42.5 50.5H43.5V51.5H42.5zM62.5 50.5H63.5V51.5H62.5zM64.5 50.5H67.5V51.5H64.5zM38.5 51.5H39.5V52.5H38.5zM41.5 51.5H42.5V52.5H41.5zM62.5 51.5H63.5V52.5H62.5zM64.5 51.5H66.5V52.5H64.5zM67.5 51.5H68.5V52.5H67.5zM39.5 52.5H40.5V53.5H39.5zM45.5 52.5H46.5V53.5H45.5zM41.5 53.5H43.5V54.5H41.5zM62.5 53.5H63.5V54.5H62.5zM64.5 53.5H65.5V54.5H64.5zM30.5 54.5H32.5V55.5H30.5zM61.5 54.5H62.5V55.5H61.5zM63.5 54.5H64.5V55.5H63.5zM49.5 61.5H50.5V62.5H49.5zM54.5 61.5H55.5V62.5H54.5zM50.5 62.5H52.5V63.5H50.5zM53.5 62.5H54.5V63.5H53.5zM12.5 63.5H14.5V64.5H12.5zM18.5 63.5H19.5V64.5H18.5zM38.5 63.5H39.5V64.5H38.5zM41.5 63.5H42.5V64.5H41.5zM54.5 63.5H55.5V64.5H54.5zM49.5 64.5H52.5V65.5H49.5zM53.5 64.5H54.5V65.5H53.5zM38.5 65.5H39.5V66.5H38.5zM47.5 65.5H48.5V66.5H47.5zM50.5 65.5H52.5V66.5H50.5zM47.5 66.5H48.5V67.5H47.5zM50.5 66.5H51.5V67.5H50.5zM51.5 67.5H52.5V68.5H51.5z"/><path fill="#1f9a8a" d="M17.5 2.5H18.5V3.5H17.5zM15.5 3.5H16.5V4.5H15.5zM55.5 3.5H56.5V4.5H55.5zM57.5 3.5H58.5V4.5H57.5zM59.5 3.5H60.5V4.5H59.5zM10.5 4.5H11.5V5.5H10.5zM17.5 4.5H18.5V5.5H17.5zM59.5 4.5H60.5V5.5H59.5zM10.5 5.5H11.5V6.5H10.5zM57.5 5.5H58.5V6.5H57.5zM17.5 7.5H18.5V8.5H17.5zM57.5 7.5H58.5V8.5H57.5zM10.5 8.5H11.5V9.5H10.5zM15.5 8.5H17.5V9.5H15.5zM19.5 8.5H20.5V9.5H19.5zM10.5 9.5H11.5V10.5H10.5zM4.5 10.5H6.5V11.5H4.5zM8.5 10.5H10.5V11.5H8.5zM3.5 15.5H4.5V16.5H3.5zM8.5 15.5H9.5V16.5H8.5zM8.5 16.5H9.5V17.5H8.5zM2.5 17.5H3.5V18.5H2.5zM4.5 17.5H5.5V18.5H4.5zM7.5 17.5H8.5V18.5H7.5zM8.5 19.5H9.5V20.5H8.5zM50.5 38.5H51.5V39.5H50.5zM52.5 38.5H54.5V39.5H52.5zM61.5 38.5H62.5V39.5H61.5zM50.5 39.5H51.5V40.5H50.5zM53.5 39.5H54.5V40.5H53.5zM50.5 41.5H51.5V42.5H50.5zM52.5 41.5H53.5V42.5H52.5zM61.5 46.5H62.5V47.5H61.5zM61.5 47.5H62.5V48.5H61.5zM63.5 47.5H64.5V48.5H63.5zM63.5 49.5H64.5V50.5H63.5zM38.5 50.5H40.5V51.5H38.5zM41.5 50.5H42.5V51.5H41.5zM61.5 50.5H62.5V51.5H61.5zM61.5 51.5H62.5V52.5H61.5zM38.5 52.5H39.5V53.5H38.5zM41.5 52.5H42.5V53.5H41.5zM62.5 52.5H63.5V53.5H62.5zM65.5 52.5H67.5V53.5H65.5zM38.5 53.5H40.5V54.5H38.5zM66.5 53.5H67.5V54.5H66.5zM3.5 55.5H4.5V56.5H3.5zM3.5 57.5H4.5V58.5H3.5zM5.5 57.5H6.5V58.5H5.5zM7.5 57.5H8.5V58.5H7.5zM3.5 59.5H5.5V60.5H3.5zM38.5 61.5H39.5V62.5H38.5zM46.5 61.5H48.5V62.5H46.5zM50.5 61.5H52.5V62.5H50.5zM52.5 62.5H53.5V63.5H52.5zM47.5 63.5H48.5V64.5H47.5zM49.5 63.5H50.5V64.5H49.5zM65.5 64.5H66.5V65.5H65.5zM52.5 65.5H53.5V66.5H52.5zM64.5 65.5H65.5V66.5H64.5zM52.5 66.5H54.5V67.5H52.5z"/><path fill="#1fa088" d="M10.5 0H11.5V0.5H10.5zM17.5 0H18.5V0.5H17.5zM19.5 0H20.5V0.5H19.5zM57.5 0H58.5V0.5H57.5zM59.5 0H60.5V0.5H59.5zM10.5 1.5H11.5V2.5H10.5zM17.5 1.5H18.5V2.5H17.5zM59.5 1.5H60.5V2.5H59.5zM10.5 2.5H11.5V3.5H10.5zM55.5 2.5H56.5V3.5H55.5zM12.5 3.5H13.5V4.5H12.5zM14.5 3.5H15.5V4.5H14.5zM58.5 3.5H59.5V4.5H58.5zM14.5 4.5H16.5V5.5H14.5zM19.5 4.5H20.5V5.5H19.5zM55.5 4.5H56.5V5.5H55.5zM57.5 4.5H58.5V5.5H57.5zM15.5 5.5H16.5V6.5H15.5zM17.5 5.5H18.5V6.5H17.5zM19.5 5.5H20.5V6.5H19.5zM55.5 5.5H56.5V6.5H55.5zM59.5 5.5H60.5V6.5H59.5zM17.5 6.5H18.5V7.5H17.5zM57.5 6.5H58.5V7.5H57.5zM10.5 7.5H11.5V8.5H10.5zM15.5 7.5H16.5V8.5H15.5zM19.5 7.5H20.5V8.5H19.5zM17.5 8.5H18.5V9.5H17.5zM59.5 8.5H60.5V9.5H59.5zM15.5 9.5H18.5V10.5H15.5zM19.5 9.5H20.5V10.5H19.5zM55.5 9.5H56.5V10.5H55.5zM57.5 9.5H59.5V10.5H57.5zM0 10.5H0.5V11.5H0zM1.5 10.5H3.5V11.5H1.5zM7.5 10.5H8.5V11.5H7.5zM3.5 12.5H4.5V13.5H3.5zM3.5 14.5H5.5V15.5H3.5zM4.5 15.5H6.5V16.5H4.5zM7.5 15.5H8.5V16.5H7.5zM9.5 15.5H10.5V16.5H9.5zM9.5 16.5H10.5V17.5H9.5zM0 17.5H0.5V18.5H0zM1.5 17.5H2.5V18.5H1.5zM5.5 17.5H7.5V18.5H5.5zM8.5 17.5H10.5V18.5H8.5zM0 19.5H0.5V20.5H0zM4.5 19.5H6.5V20.5H4.5zM7.5 19.5H8.5V20.5H7.5zM9.5 19.5H10.5V20.5H9.5zM63.5 46.5H64.5V47.5H63.5zM63.5 50.5H64.5V51.5H63.5zM63.5 51.5H64.5V52.5H63.5zM61.5 52.5H62.5V53.5H61.5zM61.5 53.5H62.5V54.5H61.5zM63.5 53.5H64.5V54.5H63.5zM2.5 55.5H3.5V56.5H2.5zM4.5 55.5H6.5V56.5H4.5zM9.5 55.5H10.5V56.5H9.5zM0 57.5H0.5V58.5H0zM4.5 57.5H5.5V58.5H4.5zM6.5 57.5H7.5V58.5H6.5zM9.5 57.5H10.5V58.5H9.5zM3.5 58.5H4.5V59.5H3.5zM9.5 58.5H10.5V59.5H9.5zM0 59.5H0.5V60.5H0zM1.5 59.5H2.5V60.5H1.5zM5.5 59.5H6.5V60.5H5.5zM8.5 59.5H9.5V60.5H8.5zM52.5 61.5H54.5V62.5H52.5zM46.5 63.5H47.5V64.5H46.5zM50.5 63.5H52.5V64.5H50.5zM53.5 63.5H54.5V64.5H53.5z"/><path fill="#20a486" d="M14.5 0H17.5V0.5H14.5zM55.5 0H56.5V0.5H55.5zM14.5 0.5H15.5V1.5H14.5zM15.5 1.5H16.5V2.5H15.5zM19.5 1.5H20.5V2.5H19.5zM15.5 2.5H16.5V3.5H15.5zM19.5 2.5H20.5V3.5H19.5zM57.5 2.5H58.5V3.5H57.5zM59.5 2.5H60.5V3.5H59.5zM11.5 3.5H12.5V4.5H11.5zM18.5 3.5H19.5V4.5H18.5zM56.5 3.5H57.5V4.5H56.5zM60.5 3.5H61.5V4.5H60.5zM12.5 4.5H13.5V5.5H12.5zM16.5 4.5H17.5V5.5H16.5zM12.5 5.5H13.5V6.5H12.5zM14.5 5.5H15.5V6.5H14.5zM16.5 5.5H17.5V6.5H16.5zM58.5 5.5H59.5V6.5H58.5zM10.5 6.5H11.5V7.5H10.5zM14.5 6.5H17.5V7.5H14.5zM19.5 6.5H20.5V7.5H19.5zM59.5 6.5H60.5V7.5H59.5zM12.5 7.5H13.5V8.5H12.5zM14.5 7.5H15.5V8.5H14.5zM16.5 7.5H17.5V8.5H16.5zM55.5 7.5H56.5V8.5H55.5zM58.5 7.5H60.5V8.5H58.5zM14.5 8.5H15.5V9.5H14.5zM57.5 8.5H58.5V9.5H57.5zM12.5 9.5H13.5V10.5H12.5zM14.5 9.5H15.5V10.5H14.5zM59.5 9.5H60.5V10.5H59.5zM6.5 10.5H7.5V11.5H6.5zM59.5 10.5H60.5V11.5H59.5zM3.5 11.5H4.5V12.5H3.5zM4.5 12.5H6.5V13.5H4.5zM7.5 12.5H8.5V13.5H7.5zM9.5 12.5H10.5V13.5H9.5zM0 14.5H1.5V15.5H0zM5.5 14.5H10.5V15.5H5.5zM0 15.5H0.5V16.5H0zM1.5 15.5H3.5V16.5H1.5zM6.5 15.5H7.5V16.5H6.5zM0 16.5H0.5V17.5H0zM4.5 16.5H8.5V17.5H4.5zM57.5 16.5H58.5V17.5H57.5zM55.5 17.5H56.5V18.5H55.5zM57.5 17.5H58.5V18.5H57.5zM59.5 17.5H60.5V18.5H59.5zM3.5 18.5H4.5V19.5H3.5zM1.5 19.5H3.5V20.5H1.5zM6.5 19.5H7.5V20.5H6.5zM63.5 52.5H64.5V53.5H63.5zM0 55.5H0.5V56.5H0zM7.5 55.5H8.5V56.5H7.5zM17.5 55.5H18.5V56.5H17.5zM3.5 56.5H4.5V57.5H3.5zM2.5 57.5H3.5V58.5H2.5zM8.5 57.5H9.5V58.5H8.5zM16.5 57.5H18.5V58.5H16.5zM5.5 58.5H6.5V59.5H5.5zM7.5 58.5H8.5V59.5H7.5zM2.5 59.5H3.5V60.5H2.5zM6.5 59.5H8.5V60.5H6.5zM9.5 59.5H11.5V60.5H9.5zM17.5 59.5H18.5V60.5H17.5zM3.5 60.5H4.5V61.5H3.5zM52.5 63.5H53.5V64.5H52.5z"/><path fill="#23a983" d="M11.5 0H13.5V0.5H11.5zM18.5 0H19.5V0.5H18.5zM58.5 0H59.5V0.5H58.5zM10.5 0.5H11.5V1.5H10.5zM15.5 0.5H18.5V1.5H15.5zM19.5 0.5H20.5V1.5H19.5zM59.5 0.5H60.5V1.5H59.5zM12.5 1.5H13.5V2.5H12.5zM14.5 1.5H15.5V2.5H14.5zM16.5 1.5H17.5V2.5H16.5zM18.5 1.5H19.5V2.5H18.5zM55.5 1.5H56.5V2.5H55.5zM58.5 1.5H59.5V2.5H58.5zM11.5 2.5H12.5V3.5H11.5zM14.5 2.5H15.5V3.5H14.5zM16.5 2.5H17.5V3.5H16.5zM58.5 2.5H59.5V3.5H58.5zM6.5 3.5H7.5V4.5H6.5zM13.5 3.5H14.5V4.5H13.5zM54.5 3.5H55.5V4.5H54.5zM11.5 4.5H12.5V5.5H11.5zM13.5 4.5H14.5V5.5H13.5zM18.5 4.5H19.5V5.5H18.5zM58.5 4.5H59.5V5.5H58.5zM11.5 5.5H12.5V6.5H11.5zM18.5 5.5H19.5V6.5H18.5zM3.5 6.5H4.5V7.5H3.5zM11.5 6.5H13.5V7.5H11.5zM18.5 6.5H19.5V7.5H18.5zM55.5 6.5H56.5V7.5H55.5zM58.5 6.5H59.5V7.5H58.5zM11.5 7.5H12.5V8.5H11.5zM18.5 7.5H19.5V8.5H18.5zM12.5 8.5H13.5V9.5H12.5zM18.5 8.5H19.5V9.5H18.5zM55.5 8.5H57.5V9.5H55.5zM58.5 8.5H59.5V9.5H58.5zM60.5 8.5H61.5V9.5H60.5zM11.5 9.5H12.5V10.5H11.5zM18.5 9.5H19.5V10.5H18.5zM56.5 9.5H57.5V10.5H56.5zM60.5 9.5H61.5V10.5H60.5zM0.5 10.5H1.5V11.5H0.5zM57.5 10.5H58.5V11.5H57.5zM0 11.5H0.5V12.5H0zM2.5 11.5H3.5V12.5H2.5zM4.5 11.5H8.5V12.5H4.5zM9.5 11.5H10.5V12.5H9.5zM0 12.5H0.5V13.5H0zM1.5 12.5H2.5V13.5H1.5zM6.5 12.5H7.5V13.5H6.5zM8.5 12.5H9.5V13.5H8.5zM3.5 13.5H5.5V14.5H3.5zM1.5 14.5H3.5V15.5H1.5zM0.5 15.5H1.5V16.5H0.5zM55.5 15.5H56.5V16.5H55.5zM57.5 15.5H58.5V16.5H57.5zM0.5 16.5H3.5V17.5H0.5zM19.5 16.5H20.5V17.5H19.5zM59.5 16.5H60.5V17.5H59.5zM0.5 17.5H1.5V18.5H0.5zM58.5 17.5H59.5V18.5H58.5zM0 18.5H0.5V19.5H0zM1.5 18.5H2.5V19.5H1.5zM4.5 18.5H10.5V19.5H4.5zM0.5 19.5H1.5V20.5H0.5zM16.5 19.5H17.5V20.5H16.5zM55.5 19.5H56.5V20.5H55.5zM57.5 19.5H60.5V20.5H57.5zM3.5 54.5H4.5V55.5H3.5zM1.5 55.5H2.5V56.5H1.5zM6.5 55.5H7.5V56.5H6.5zM8.5 55.5H9.5V56.5H8.5zM15.5 55.5H16.5V56.5H15.5zM19.5 55.5H20.5V56.5H19.5zM8.5 56.5H10.5V57.5H8.5zM10.5 57.5H11.5V58.5H10.5zM15.5 57.5H16.5V58.5H15.5zM19.5 57.5H20.5V58.5H19.5zM0 58.5H0.5V59.5H0zM1.5 58.5H3.5V59.5H1.5zM4.5 58.5H5.5V59.5H4.5zM6.5 58.5H7.5V59.5H6.5zM8.5 58.5H9.5V59.5H8.5zM17.5 58.5H18.5V59.5H17.5zM19.5 58.5H20.5V59.5H19.5zM0.5 59.5H1.5V60.5H0.5zM16.5 59.5H17.5V60.5H16.5zM19.5 59.5H20.5V60.5H19.5zM8.5 60.5H10.5V61.5H8.5z"/><path fill="#28ae80" d="M13.5 0H14.5V0.5H13.5zM56.5 0H57.5V0.5H56.5zM60.5 0H61.5V0.5H60.5zM55.5 0.5H56.5V1.5H55.5zM57.5 0.5H59.5V1.5H57.5zM11.5 1.5H12.5V2.5H11.5zM57.5 1.5H58.5V2.5H57.5zM12.5 2.5H14.5V3.5H12.5zM18.5 2.5H19.5V3.5H18.5zM60.5 2.5H61.5V3.5H60.5zM54.5 4.5H55.5V5.5H54.5zM56.5 4.5H57.5V5.5H56.5zM60.5 4.5H61.5V5.5H60.5zM13.5 5.5H14.5V6.5H13.5zM56.5 5.5H57.5V6.5H56.5zM13.5 6.5H14.5V7.5H13.5zM54.5 6.5H55.5V7.5H54.5zM56.5 6.5H57.5V7.5H56.5zM60.5 6.5H61.5V7.5H60.5zM13.5 7.5H14.5V8.5H13.5zM54.5 7.5H55.5V8.5H54.5zM56.5 7.5H57.5V8.5H56.5zM60.5 7.5H61.5V8.5H60.5zM11.5 8.5H12.5V9.5H11.5zM13.5 8.5H14.5V9.5H13.5zM13.5 9.5H14.5V10.5H13.5zM55.5 10.5H56.5V11.5H55.5zM58.5 10.5H59.5V11.5H58.5zM60.5 10.5H61.5V11.5H60.5zM1.5 11.5H2.5V12.5H1.5zM8.5 11.5H9.5V12.5H8.5zM57.5 11.5H58.5V12.5H57.5zM59.5 11.5H60.5V12.5H59.5zM2.5 12.5H3.5V13.5H2.5zM0 13.5H0.5V14.5H0zM2.5 13.5H3.5V14.5H2.5zM5.5 13.5H10.5V14.5H5.5zM57.5 14.5H58.5V15.5H57.5zM59.5 14.5H60.5V15.5H59.5zM59.5 15.5H60.5V16.5H59.5zM55.5 16.5H56.5V17.5H55.5zM2.5 18.5H3.5V19.5H2.5zM4.5 54.5H5.5V55.5H4.5zM6.5 54.5H8.5V55.5H6.5zM0.5 55.5H1.5V56.5H0.5zM10.5 55.5H11.5V56.5H10.5zM16.5 55.5H17.5V56.5H16.5zM0 56.5H0.5V57.5H0zM4.5 56.5H8.5V57.5H4.5zM0.5 57.5H2.5V58.5H0.5zM11.5 57.5H12.5V58.5H11.5zM14.5 57.5H15.5V58.5H14.5zM0.5 58.5H1.5V59.5H0.5zM10.5 58.5H11.5V59.5H10.5zM59.5 58.5H60.5V59.5H59.5zM11.5 59.5H12.5V60.5H11.5zM14.5 59.5H16.5V60.5H14.5zM58.5 59.5H59.5V60.5H58.5zM0 60.5H0.5V61.5H0zM2.5 60.5H3.5V61.5H2.5zM4.5 60.5H5.5V61.5H4.5zM6.5 60.5H8.5V61.5H6.5zM10.5 60.5H11.5V61.5H10.5zM69.5 68.5H70.5V69.5H69.5zM68.5 69.5H69.5V70.5H68.5z"/><path fill="#2eb37c" d="M54.5 0H55.5V0.5H54.5zM11.5 0.5H13.5V1.5H11.5zM18.5 0.5H19.5V1.5H18.5zM56.5 0.5H57.5V1.5H56.5zM13.5 1.5H14.5V2.5H13.5zM56.5 1.5H57.5V2.5H56.5zM60.5 1.5H61.5V2.5H60.5zM54.5 2.5H55.5V3.5H54.5zM56.5 2.5H57.5V3.5H56.5zM54.5 5.5H55.5V6.5H54.5zM60.5 5.5H61.5V6.5H60.5zM54.5 8.5H55.5V9.5H54.5zM54.5 9.5H55.5V10.5H54.5zM56.5 10.5H57.5V11.5H56.5zM0.5 11.5H1.5V12.5H0.5zM55.5 11.5H56.5V12.5H55.5zM0.5 12.5H1.5V13.5H0.5zM57.5 12.5H60.5V13.5H57.5zM1.5 13.5H2.5V14.5H1.5zM57.5 13.5H58.5V14.5H57.5zM56.5 15.5H57.5V16.5H56.5zM58.5 15.5H59.5V16.5H58.5zM56.5 16.5H57.5V17.5H56.5zM58.5 16.5H59.5V17.5H58.5zM54.5 17.5H55.5V18.5H54.5zM56.5 17.5H57.5V18.5H56.5zM60.5 17.5H61.5V18.5H60.5zM0.5 18.5H1.5V19.5H0.5zM57.5 18.5H58.5V19.5H57.5zM35.5 29.5H36.5V30.5H35.5zM34.5 32.5H35.5V33.5H34.5zM32.5 34.5H33.5V35.5H32.5zM29.5 35.5H30.5V36.5H29.5zM51.5 48.5H52.5V49.5H51.5zM48.5 51.5H49.5V52.5H48.5zM0 54.5H0.5V55.5H0zM2.5 54.5H3.5V55.5H2.5zM5.5 54.5H6.5V55.5H5.5zM8.5 54.5H10.5V55.5H8.5zM17.5 54.5H18.5V55.5H17.5zM11.5 55.5H12.5V56.5H11.5zM0.5 56.5H3.5V57.5H0.5zM10.5 56.5H11.5V57.5H10.5zM15.5 56.5H18.5V57.5H15.5zM12.5 57.5H14.5V58.5H12.5zM18.5 57.5H19.5V58.5H18.5zM58.5 57.5H59.5V58.5H58.5zM12.5 58.5H13.5V59.5H12.5zM15.5 58.5H17.5V59.5H15.5zM57.5 58.5H58.5V59.5H57.5zM12.5 59.5H13.5V60.5H12.5zM1.5 60.5H2.5V61.5H1.5zM5.5 60.5H6.5V61.5H5.5zM17.5 60.5H18.5V61.5H17.5z"/><path fill="#35b779" d="M13.5 0.5H14.5V1.5H13.5zM54.5 0.5H55.5V1.5H54.5zM54.5 1.5H55.5V2.5H54.5zM3.5 2.5H4.5V3.5H3.5zM2.5 3.5H3.5V4.5H2.5zM54.5 10.5H55.5V11.5H54.5zM55.5 12.5H56.5V13.5H55.5zM0.5 13.5H1.5V14.5H0.5zM55.5 13.5H56.5V14.5H55.5zM59.5 13.5H60.5V14.5H59.5zM16.5 14.5H17.5V15.5H16.5zM55.5 14.5H56.5V15.5H55.5zM58.5 14.5H59.5V15.5H58.5zM17.5 15.5H18.5V16.5H17.5zM60.5 15.5H61.5V16.5H60.5zM14.5 16.5H15.5V17.5H14.5zM60.5 16.5H61.5V17.5H60.5zM15.5 17.5H16.5V18.5H15.5zM19.5 17.5H20.5V18.5H19.5zM55.5 18.5H56.5V19.5H55.5zM58.5 18.5H60.5V19.5H58.5zM17.5 19.5H18.5V20.5H17.5zM56.5 19.5H57.5V20.5H56.5zM35.5 32.5H36.5V33.5H35.5zM32.5 35.5H33.5V36.5H32.5zM37.5 36.5H38.5V37.5H37.5zM36.5 37.5H37.5V38.5H36.5zM48.5 47.5H49.5V48.5H48.5zM47.5 48.5H48.5V49.5H47.5zM49.5 48.5H50.5V49.5H49.5zM48.5 49.5H49.5V50.5H48.5zM0.5 54.5H2.5V55.5H0.5zM10.5 54.5H11.5V55.5H10.5zM58.5 54.5H59.5V55.5H58.5zM12.5 55.5H15.5V56.5H12.5zM18.5 55.5H19.5V56.5H18.5zM56.5 55.5H57.5V56.5H56.5zM59.5 55.5H60.5V56.5H59.5zM19.5 56.5H20.5V57.5H19.5zM55.5 56.5H56.5V57.5H55.5zM14.5 58.5H15.5V59.5H14.5zM18.5 58.5H19.5V59.5H18.5zM54.5 58.5H55.5V59.5H54.5zM13.5 59.5H14.5V60.5H13.5zM18.5 59.5H19.5V60.5H18.5zM55.5 59.5H56.5V60.5H55.5zM60.5 59.5H61.5V60.5H60.5zM15.5 60.5H17.5V61.5H15.5zM59.5 60.5H60.5V61.5H59.5zM67.5 61.5H68.5V62.5H67.5zM63.5 62.5H64.5V63.5H63.5zM62.5 63.5H63.5V64.5H62.5zM66.5 64.5H67.5V65.5H66.5zM64.5 66.5H65.5V67.5H64.5zM61.5 67.5H62.5V68.5H61.5z"/><path fill="#3fbc73" d="M5.5 0.5H6.5V1.5H5.5zM60.5 0.5H61.5V1.5H60.5zM4.5 2.5H5.5V3.5H4.5zM5.5 3.5H6.5V4.5H5.5zM8.5 3.5H9.5V4.5H8.5zM2.5 4.5H3.5V5.5H2.5zM0.5 5.5H1.5V6.5H0.5zM3.5 5.5H4.5V6.5H3.5zM7.5 5.5H8.5V6.5H7.5zM5.5 7.5H6.5V8.5H5.5zM3.5 8.5H4.5V9.5H3.5zM17.5 11.5H18.5V12.5H17.5zM54.5 11.5H55.5V12.5H54.5zM58.5 11.5H59.5V12.5H58.5zM56.5 12.5H57.5V13.5H56.5zM58.5 13.5H59.5V14.5H58.5zM56.5 14.5H57.5V15.5H56.5zM54.5 15.5H55.5V16.5H54.5zM54.5 16.5H55.5V17.5H54.5zM11.5 17.5H12.5V18.5H11.5zM54.5 19.5H55.5V20.5H54.5zM60.5 19.5H61.5V20.5H60.5zM24.5 20.5H25.5V21.5H24.5zM20.5 24.5H21.5V25.5H20.5zM37.5 29.5H38.5V30.5H37.5zM35.5 31.5H36.5V32.5H35.5zM33.5 32.5H34.5V33.5H33.5zM32.5 33.5H33.5V34.5H32.5zM35.5 33.5H37.5V34.5H35.5zM31.5 35.5H32.5V36.5H31.5zM33.5 35.5H34.5V36.5H33.5zM33.5 36.5H34.5V37.5H33.5zM29.5 37.5H30.5V38.5H29.5zM44.5 38.5H45.5V39.5H44.5zM43.5 39.5H44.5V40.5H43.5zM39.5 43.5H40.5V44.5H39.5zM45.5 43.5H46.5V44.5H45.5zM38.5 44.5H39.5V45.5H38.5zM43.5 45.5H44.5V46.5H43.5zM53.5 46.5H54.5V47.5H53.5zM46.5 53.5H47.5V54.5H46.5zM11.5 54.5H12.5V55.5H11.5zM15.5 54.5H17.5V55.5H15.5zM19.5 54.5H20.5V55.5H19.5zM12.5 56.5H13.5V57.5H12.5zM14.5 56.5H15.5V57.5H14.5zM59.5 57.5H60.5V58.5H59.5zM11.5 58.5H12.5V59.5H11.5zM13.5 58.5H14.5V59.5H13.5zM57.5 59.5H58.5V60.5H57.5zM0.5 60.5H1.5V61.5H0.5zM19.5 60.5H20.5V61.5H19.5zM64.5 62.5H65.5V63.5H64.5zM66.5 63.5H68.5V64.5H66.5zM62.5 64.5H63.5V65.5H62.5zM63.5 66.5H64.5V67.5H63.5zM67.5 66.5H68.5V67.5H67.5zM63.5 67.5H64.5V68.5H63.5zM66.5 67.5H67.5V68.5H66.5zM71.5 68.5H73.5V69.5H71.5zM68.5 71.5H69.5V72.5H68.5zM68.5 72.5H69.5V73.5H68.5z"/><path fill="#48c16e" d="M9.5 7.5H10.5V8.5H9.5zM7.5 9.5H8.5V10.5H7.5zM16.5 10.5H17.5V11.5H16.5zM19.5 10.5H20.5V11.5H19.5zM19.5 11.5H20.5V12.5H19.5zM56.5 11.5H57.5V12.5H56.5zM60.5 11.5H61.5V12.5H60.5zM54.5 12.5H55.5V13.5H54.5zM60.5 12.5H61.5V13.5H60.5zM54.5 13.5H55.5V14.5H54.5zM56.5 13.5H57.5V14.5H56.5zM60.5 13.5H61.5V14.5H60.5zM54.5 14.5H55.5V15.5H54.5zM60.5 14.5H61.5V15.5H60.5zM10.5 16.5H11.5V17.5H10.5zM54.5 18.5H55.5V19.5H54.5zM56.5 18.5H57.5V19.5H56.5zM60.5 18.5H61.5V19.5H60.5zM10.5 19.5H12.5V20.5H10.5zM28.5 25.5H29.5V26.5H28.5zM25.5 28.5H26.5V29.5H25.5zM33.5 29.5H34.5V30.5H33.5zM29.5 33.5H30.5V34.5H29.5zM37.5 33.5H38.5V34.5H37.5zM37.5 35.5H38.5V36.5H37.5zM33.5 37.5H34.5V38.5H33.5zM35.5 37.5H36.5V38.5H35.5zM48.5 46.5H49.5V47.5H48.5zM46.5 48.5H47.5V49.5H46.5zM12.5 54.5H15.5V55.5H12.5zM18.5 54.5H19.5V55.5H18.5zM55.5 54.5H56.5V55.5H55.5zM57.5 54.5H58.5V55.5H57.5zM54.5 55.5H55.5V56.5H54.5zM57.5 55.5H59.5V56.5H57.5zM60.5 55.5H61.5V56.5H60.5zM11.5 56.5H12.5V57.5H11.5zM13.5 56.5H14.5V57.5H13.5zM18.5 56.5H19.5V57.5H18.5zM54.5 57.5H56.5V58.5H54.5zM55.5 58.5H56.5V59.5H55.5zM11.5 60.5H15.5V61.5H11.5zM18.5 60.5H19.5V61.5H18.5zM55.5 60.5H56.5V61.5H55.5zM67.5 62.5H68.5V63.5H67.5zM62.5 67.5H63.5V68.5H62.5zM74.5 68.5H75.5V69.5H74.5zM68.5 74.5H69.5V75.5H68.5z"/><path fill="#52c569" d="M3.5 0H4.5V0.5H3.5zM4.5 1.5H5.5V2.5H4.5zM7.5 2.5H8.5V3.5H7.5zM0 3.5H0.5V4.5H0zM4.5 3.5H5.5V4.5H4.5zM9.5 3.5H10.5V4.5H9.5zM1.5 4.5H2.5V5.5H1.5zM3.5 4.5H4.5V5.5H3.5zM8.5 4.5H10.5V5.5H8.5zM9.5 5.5H10.5V6.5H9.5zM9.5 6.5H10.5V7.5H9.5zM2.5 7.5H3.5V8.5H2.5zM4.5 8.5H5.5V9.5H4.5zM3.5 9.5H7.5V10.5H3.5zM12.5 10.5H13.5V11.5H12.5zM10.5 12.5H11.5V13.5H10.5zM19.5 14.5H20.5V15.5H19.5zM16.5 15.5H17.5V16.5H16.5zM15.5 16.5H16.5V17.5H15.5zM14.5 19.5H15.5V20.5H14.5zM25.5 21.5H26.5V22.5H25.5zM27.5 21.5H28.5V22.5H27.5zM28.5 22.5H29.5V23.5H28.5zM25.5 24.5H26.5V25.5H25.5zM21.5 25.5H22.5V26.5H21.5zM24.5 25.5H25.5V26.5H24.5zM21.5 27.5H22.5V28.5H21.5zM22.5 28.5H23.5V29.5H22.5zM35.5 30.5H36.5V31.5H35.5zM30.5 35.5H31.5V36.5H30.5zM36.5 35.5H37.5V36.5H36.5zM35.5 36.5H36.5V37.5H35.5zM42.5 38.5H44.5V39.5H42.5zM44.5 39.5H45.5V40.5H44.5zM41.5 40.5H42.5V41.5H41.5zM40.5 41.5H41.5V42.5H40.5zM44.5 41.5H45.5V42.5H44.5zM38.5 42.5H39.5V43.5H38.5zM38.5 43.5H39.5V44.5H38.5zM44.5 43.5H45.5V44.5H44.5zM39.5 44.5H40.5V45.5H39.5zM41.5 44.5H42.5V45.5H41.5zM43.5 44.5H44.5V45.5H43.5zM50.5 48.5H51.5V49.5H50.5zM53.5 48.5H54.5V49.5H53.5zM48.5 50.5H49.5V51.5H48.5zM48.5 53.5H49.5V54.5H48.5zM57.5 56.5H58.5V57.5H57.5zM59.5 56.5H60.5V57.5H59.5zM56.5 57.5H57.5V58.5H56.5zM56.5 59.5H57.5V60.5H56.5zM72.5 69.5H73.5V70.5H72.5zM74.5 69.5H75.5V70.5H74.5zM69.5 72.5H70.5V73.5H69.5zM69.5 74.5H70.5V75.5H69.5z"/><path fill="#5ec962" d="M7.5 0H8.5V0.5H7.5zM3.5 0.5H4.5V1.5H3.5zM2.5 1.5H3.5V2.5H2.5zM7.5 1.5H8.5V2.5H7.5zM9.5 1.5H10.5V2.5H9.5zM1.5 2.5H2.5V3.5H1.5zM8.5 2.5H10.5V3.5H8.5zM0.5 3.5H1.5V4.5H0.5zM5.5 4.5H7.5V5.5H5.5zM4.5 5.5H5.5V6.5H4.5zM4.5 6.5H5.5V7.5H4.5zM0 7.5H0.5V8.5H0zM1.5 7.5H2.5V8.5H1.5zM2.5 8.5H3.5V9.5H2.5zM1.5 9.5H3.5V10.5H1.5zM11.5 10.5H12.5V11.5H11.5zM10.5 11.5H11.5V12.5H10.5zM15.5 12.5H16.5V13.5H15.5zM12.5 15.5H13.5V16.5H12.5zM25.5 20.5H26.5V21.5H25.5zM24.5 21.5H25.5V22.5H24.5zM24.5 23.5H26.5V24.5H24.5zM21.5 24.5H22.5V25.5H21.5zM23.5 24.5H24.5V25.5H23.5zM27.5 24.5H29.5V25.5H27.5zM20.5 25.5H21.5V26.5H20.5zM23.5 25.5H24.5V26.5H23.5zM27.5 25.5H28.5V26.5H27.5zM24.5 27.5H26.5V28.5H24.5zM24.5 28.5H25.5V29.5H24.5zM36.5 30.5H37.5V31.5H36.5zM30.5 36.5H31.5V37.5H30.5zM40.5 38.5H41.5V39.5H40.5zM42.5 39.5H43.5V40.5H42.5zM45.5 39.5H46.5V40.5H45.5zM38.5 40.5H39.5V41.5H38.5zM43.5 40.5H44.5V41.5H43.5zM39.5 42.5H40.5V43.5H39.5zM40.5 43.5H41.5V44.5H40.5zM39.5 45.5H40.5V46.5H39.5zM52.5 48.5H53.5V49.5H52.5zM51.5 49.5H52.5V50.5H51.5zM53.5 49.5H54.5V50.5H53.5zM52.5 50.5H53.5V51.5H52.5zM49.5 51.5H50.5V52.5H49.5zM48.5 52.5H49.5V53.5H48.5zM50.5 52.5H51.5V53.5H50.5zM49.5 53.5H50.5V54.5H49.5zM59.5 54.5H60.5V55.5H59.5zM60.5 58.5H61.5V59.5H60.5zM54.5 59.5H55.5V60.5H54.5zM58.5 60.5H59.5V61.5H58.5zM62.5 61.5H63.5V62.5H62.5zM61.5 62.5H62.5V63.5H61.5zM66.5 62.5H67.5V63.5H66.5zM62.5 66.5H63.5V67.5H62.5zM72.5 70.5H73.5V71.5H72.5zM74.5 70.5H75.5V71.5H74.5zM70.5 72.5H71.5V73.5H70.5zM70.5 74.5H71.5V75.5H70.5zM74.5 74.5H75.5V75.5H74.5z"/><path fill="#69cd5b" d="M0 0H0.5V0.5H0zM1.5 0H3.5V0.5H1.5zM4.5 0H7.5V0.5H4.5zM8.5 0H10.5V0.5H8.5zM0 1.5H0.5V2.5H0zM3.5 1.5H4.5V2.5H3.5zM6.5 1.5H7.5V2.5H6.5zM0 2.5H0.5V3.5H0zM5.5 2.5H6.5V3.5H5.5zM1.5 3.5H2.5V4.5H1.5zM7.5 3.5H8.5V4.5H7.5zM0 4.5H0.5V5.5H0zM0 5.5H0.5V6.5H0zM2.5 5.5H3.5V6.5H2.5zM0 6.5H0.5V7.5H0zM1.5 6.5H2.5V7.5H1.5zM7.5 6.5H8.5V7.5H7.5zM3.5 7.5H4.5V8.5H3.5zM6.5 7.5H7.5V8.5H6.5zM8.5 7.5H9.5V8.5H8.5zM0 8.5H0.5V9.5H0zM7.5 8.5H8.5V9.5H7.5zM0 9.5H0.5V10.5H0zM13.5 10.5H14.5V11.5H13.5zM18.5 10.5H19.5V11.5H18.5zM15.5 11.5H16.5V12.5H15.5zM16.5 12.5H17.5V13.5H16.5zM10.5 13.5H11.5V14.5H10.5zM17.5 14.5H18.5V15.5H17.5zM11.5 15.5H12.5V16.5H11.5zM12.5 16.5H13.5V17.5H12.5zM14.5 17.5H15.5V18.5H14.5zM10.5 18.5H11.5V19.5H10.5zM21.5 20.5H23.5V21.5H21.5zM20.5 21.5H21.5V22.5H20.5zM20.5 22.5H21.5V23.5H20.5zM25.5 22.5H26.5V23.5H25.5zM22.5 25.5H23.5V26.5H22.5zM28.5 26.5H29.5V27.5H28.5zM28.5 27.5H29.5V28.5H28.5zM26.5 28.5H28.5V29.5H26.5zM34.5 29.5H35.5V30.5H34.5zM36.5 32.5H37.5V33.5H36.5zM34.5 33.5H35.5V34.5H34.5zM29.5 34.5H30.5V35.5H29.5zM33.5 34.5H34.5V35.5H33.5zM37.5 34.5H38.5V35.5H37.5zM32.5 36.5H33.5V37.5H32.5zM34.5 37.5H35.5V38.5H34.5zM42.5 41.5H44.5V42.5H42.5zM41.5 42.5H42.5V43.5H41.5zM41.5 43.5H42.5V44.5H41.5zM52.5 46.5H53.5V47.5H52.5zM46.5 52.5H47.5V53.5H46.5zM56.5 54.5H57.5V55.5H56.5zM54.5 56.5H55.5V57.5H54.5zM60.5 57.5H61.5V58.5H60.5zM57.5 60.5H58.5V61.5H57.5zM64.5 61.5H65.5V62.5H64.5zM65.5 62.5H66.5V63.5H65.5zM61.5 64.5H62.5V65.5H61.5zM62.5 65.5H63.5V66.5H62.5zM70.5 68.5H71.5V69.5H70.5zM73.5 68.5H74.5V69.5H73.5zM68.5 70.5H69.5V71.5H68.5zM72.5 71.5H73.5V72.5H72.5zM71.5 72.5H72.5V73.5H71.5zM74.5 72.5H75.5V73.5H74.5zM68.5 73.5H69.5V74.5H68.5zM72.5 74.5H73.5V75.5H72.5z"/><path fill="#75d054" d="M4.5 0.5H5.5V1.5H4.5zM8.5 0.5H10.5V1.5H8.5zM5.5 1.5H6.5V2.5H5.5zM6.5 2.5H7.5V3.5H6.5zM0.5 4.5H1.5V5.5H0.5zM1.5 5.5H2.5V6.5H1.5zM2.5 6.5H3.5V7.5H2.5zM0.5 8.5H1.5V9.5H0.5zM0.5 9.5H1.5V10.5H0.5zM17.5 10.5H18.5V11.5H17.5zM14.5 11.5H15.5V12.5H14.5zM15.5 13.5H16.5V14.5H15.5zM11.5 14.5H12.5V15.5H11.5zM15.5 14.5H16.5V15.5H15.5zM13.5 15.5H15.5V16.5H13.5zM19.5 15.5H20.5V16.5H19.5zM17.5 16.5H18.5V17.5H17.5zM10.5 17.5H11.5V18.5H10.5zM16.5 17.5H17.5V18.5H16.5zM15.5 19.5H16.5V20.5H15.5zM26.5 20.5H27.5V21.5H26.5zM28.5 20.5H29.5V21.5H28.5zM26.5 24.5H27.5V25.5H26.5zM20.5 26.5H21.5V27.5H20.5zM24.5 26.5H25.5V27.5H24.5zM20.5 28.5H21.5V29.5H20.5zM32.5 30.5H35.5V31.5H32.5zM30.5 32.5H31.5V33.5H30.5zM37.5 32.5H38.5V33.5H37.5zM30.5 33.5H31.5V34.5H30.5zM30.5 34.5H31.5V35.5H30.5zM32.5 37.5H33.5V38.5H32.5zM41.5 38.5H42.5V39.5H41.5zM41.5 39.5H42.5V40.5H41.5zM44.5 40.5H46.5V41.5H44.5zM38.5 41.5H40.5V42.5H38.5zM45.5 41.5H46.5V42.5H45.5zM40.5 44.5H41.5V45.5H40.5zM40.5 45.5H42.5V46.5H40.5zM49.5 46.5H50.5V47.5H49.5zM50.5 47.5H51.5V48.5H50.5zM46.5 49.5H47.5V50.5H46.5zM52.5 49.5H53.5V50.5H52.5zM47.5 50.5H48.5V51.5H47.5zM49.5 52.5H50.5V53.5H49.5zM67.5 64.5H68.5V65.5H67.5zM67.5 65.5H68.5V66.5H67.5zM64.5 67.5H66.5V68.5H64.5zM73.5 69.5H74.5V70.5H73.5zM74.5 71.5H75.5V72.5H74.5zM69.5 73.5H70.5V74.5H69.5zM71.5 74.5H72.5V75.5H71.5z"/><path fill="#84d44b" d="M0.5 0H1.5V0.5H0.5zM0 0.5H0.5V1.5H0zM6.5 0.5H7.5V1.5H6.5zM0.5 6.5H1.5V7.5H0.5zM8.5 6.5H9.5V7.5H8.5zM6.5 8.5H7.5V9.5H6.5zM14.5 10.5H15.5V11.5H14.5zM13.5 11.5H14.5V12.5H13.5zM14.5 12.5H15.5V13.5H14.5zM19.5 12.5H20.5V13.5H19.5zM11.5 13.5H12.5V14.5H11.5zM16.5 13.5H18.5V14.5H16.5zM10.5 14.5H11.5V15.5H10.5zM12.5 14.5H13.5V15.5H12.5zM13.5 16.5H14.5V17.5H13.5zM13.5 17.5H14.5V18.5H13.5zM19.5 18.5H20.5V19.5H19.5zM12.5 19.5H13.5V20.5H12.5zM18.5 19.5H19.5V20.5H18.5zM26.5 21.5H27.5V22.5H26.5zM28.5 21.5H29.5V22.5H28.5zM27.5 22.5H28.5V23.5H27.5zM26.5 23.5H27.5V24.5H26.5zM21.5 26.5H22.5V27.5H21.5zM23.5 26.5H24.5V27.5H23.5zM27.5 26.5H28.5V27.5H27.5zM22.5 27.5H23.5V28.5H22.5zM26.5 27.5H27.5V28.5H26.5zM21.5 28.5H22.5V29.5H21.5zM32.5 29.5H33.5V30.5H32.5zM32.5 31.5H33.5V32.5H32.5zM34.5 31.5H35.5V32.5H34.5zM29.5 32.5H30.5V33.5H29.5zM31.5 32.5H32.5V33.5H31.5zM31.5 34.5H32.5V35.5H31.5zM36.5 34.5H37.5V35.5H36.5zM34.5 36.5H35.5V37.5H34.5zM42.5 40.5H43.5V41.5H42.5zM40.5 42.5H41.5V43.5H40.5zM45.5 44.5H46.5V45.5H45.5zM44.5 45.5H45.5V46.5H44.5zM47.5 46.5H48.5V47.5H47.5zM50.5 46.5H52.5V47.5H50.5zM46.5 47.5H47.5V48.5H46.5zM51.5 47.5H52.5V48.5H51.5zM53.5 47.5H54.5V48.5H53.5zM46.5 50.5H47.5V51.5H46.5zM46.5 51.5H48.5V52.5H46.5zM53.5 51.5H54.5V52.5H53.5zM47.5 53.5H48.5V54.5H47.5zM51.5 53.5H52.5V54.5H51.5zM60.5 54.5H61.5V55.5H60.5zM54.5 60.5H55.5V61.5H54.5zM63.5 61.5H64.5V62.5H63.5zM65.5 61.5H67.5V62.5H65.5zM61.5 63.5H62.5V64.5H61.5zM65.5 63.5H66.5V64.5H65.5zM61.5 65.5H62.5V66.5H61.5zM63.5 65.5H64.5V66.5H63.5zM66.5 65.5H67.5V66.5H66.5zM61.5 66.5H62.5V67.5H61.5zM65.5 66.5H66.5V67.5H65.5zM70.5 69.5H71.5V70.5H70.5zM69.5 70.5H70.5V71.5H69.5zM71.5 70.5H72.5V71.5H71.5zM73.5 70.5H74.5V71.5H73.5zM70.5 71.5H71.5V72.5H70.5zM70.5 73.5H71.5V74.5H70.5zM74.5 73.5H75.5V74.5H74.5zM73.5 74.5H74.5V75.5H73.5z"/><path fill="#90d743" d="M8.5 1.5H9.5V2.5H8.5zM1.5 8.5H2.5V9.5H1.5zM15.5 10.5H16.5V11.5H15.5zM12.5 11.5H13.5V12.5H12.5zM18.5 11.5H19.5V12.5H18.5zM11.5 12.5H12.5V13.5H11.5zM18.5 12.5H19.5V13.5H18.5zM14.5 13.5H15.5V14.5H14.5zM19.5 13.5H20.5V14.5H19.5zM13.5 14.5H14.5V15.5H13.5zM18.5 14.5H19.5V15.5H18.5zM10.5 15.5H11.5V16.5H10.5zM18.5 15.5H19.5V16.5H18.5zM18.5 16.5H19.5V17.5H18.5zM11.5 18.5H13.5V19.5H11.5zM14.5 18.5H17.5V19.5H14.5zM13.5 19.5H14.5V20.5H13.5zM23.5 20.5H24.5V21.5H23.5zM23.5 22.5H24.5V23.5H23.5zM20.5 23.5H21.5V24.5H20.5zM22.5 23.5H23.5V24.5H22.5zM28.5 23.5H29.5V24.5H28.5zM26.5 25.5H27.5V26.5H26.5zM25.5 26.5H26.5V27.5H25.5zM23.5 28.5H24.5V29.5H23.5zM37.5 30.5H38.5V31.5H37.5zM33.5 31.5H34.5V32.5H33.5zM37.5 31.5H38.5V32.5H37.5zM31.5 33.5H32.5V34.5H31.5zM30.5 37.5H32.5V38.5H30.5zM51.5 50.5H52.5V51.5H51.5zM53.5 50.5H54.5V51.5H53.5zM50.5 51.5H51.5V52.5H50.5zM50.5 53.5H51.5V54.5H50.5zM64.5 63.5H65.5V64.5H64.5zM63.5 64.5H64.5V65.5H63.5z"/><path fill="#9dd93b" d="M1.5 0.5H3.5V1.5H1.5zM0.5 1.5H1.5V2.5H0.5zM0.5 2.5H1.5V3.5H0.5zM7.5 4.5H8.5V5.5H7.5zM4.5 7.5H5.5V8.5H4.5zM16.5 11.5H17.5V12.5H16.5zM13.5 12.5H14.5V13.5H13.5zM12.5 13.5H13.5V14.5H12.5zM18.5 13.5H19.5V14.5H18.5zM11.5 16.5H12.5V17.5H11.5zM18.5 17.5H19.5V18.5H18.5zM13.5 18.5H14.5V19.5H13.5zM17.5 18.5H18.5V19.5H17.5zM27.5 20.5H28.5V21.5H27.5zM26.5 22.5H27.5V23.5H26.5zM22.5 26.5H23.5V27.5H22.5zM20.5 27.5H21.5V28.5H20.5zM30.5 29.5H31.5V30.5H30.5zM29.5 30.5H30.5V31.5H29.5zM36.5 31.5H37.5V32.5H36.5zM35.5 34.5H36.5V35.5H35.5zM34.5 35.5H35.5V36.5H34.5zM31.5 36.5H32.5V37.5H31.5zM40.5 39.5H41.5V40.5H40.5zM39.5 40.5H40.5V41.5H39.5zM43.5 42.5H46.5V43.5H43.5zM42.5 43.5H43.5V44.5H42.5zM42.5 44.5H43.5V45.5H42.5zM42.5 45.5H43.5V46.5H42.5zM52.5 51.5H53.5V52.5H52.5zM51.5 52.5H52.5V53.5H51.5zM58.5 56.5H59.5V57.5H58.5zM60.5 56.5H61.5V57.5H60.5zM56.5 58.5H57.5V59.5H56.5zM56.5 60.5H57.5V61.5H56.5zM71.5 69.5H72.5V70.5H71.5zM69.5 71.5H70.5V72.5H69.5z"/><path fill="#addc30" d="M8.5 5.5H9.5V6.5H8.5zM5.5 8.5H6.5V9.5H5.5zM17.5 12.5H18.5V13.5H17.5zM12.5 17.5H13.5V18.5H12.5zM22.5 21.5H24.5V22.5H22.5zM21.5 22.5H22.5V23.5H21.5zM21.5 23.5H22.5V24.5H21.5zM27.5 23.5H28.5V24.5H27.5zM23.5 27.5H24.5V28.5H23.5zM36.5 29.5H37.5V30.5H36.5zM31.5 30.5H32.5V31.5H31.5zM30.5 31.5H31.5V32.5H30.5zM29.5 36.5H30.5V37.5H29.5zM49.5 47.5H50.5V48.5H49.5zM52.5 47.5H53.5V48.5H52.5zM47.5 49.5H48.5V50.5H47.5zM47.5 52.5H48.5V53.5H47.5zM53.5 52.5H54.5V53.5H53.5zM52.5 53.5H53.5V54.5H52.5z"/><path fill="#bade28" d="M7.5 0.5H8.5V1.5H7.5zM0.5 7.5H1.5V8.5H0.5zM9.5 8.5H10.5V9.5H9.5zM8.5 9.5H9.5V10.5H8.5zM31.5 29.5H32.5V30.5H31.5zM29.5 31.5H30.5V32.5H29.5zM45.5 38.5H46.5V39.5H45.5zM38.5 45.5H39.5V46.5H38.5zM73.5 71.5H74.5V72.5H73.5zM73.5 72.5H74.5V73.5H73.5zM71.5 73.5H73.5V74.5H71.5z"/><path fill="#c8e020" d="M6.5 5.5H7.5V6.5H6.5zM5.5 6.5H6.5V7.5H5.5zM50.5 49.5H51.5V50.5H50.5zM49.5 50.5H50.5V51.5H49.5z"/><path fill="#d8e219" d="M39.5 38.5H40.5V39.5H39.5zM38.5 39.5H39.5V40.5H38.5z"/><path fill="#e5e419" d="M24.5 22.5H25.5V23.5H24.5zM22.5 24.5H23.5V25.5H22.5z"/><path fill="#fde725" d="M0.5 0.5H1.5V1.5H0.5zM1.5 1.5H2.5V2.5H1.5zM2.5 2.5H3.5V3.5H2.5zM3.5 3.5H4.5V4.5H3.5zM4.5 4.5H5.5V5.5H4.5zM5.5 5.5H6.5V6.5H5.5zM6.5 6.5H7.5V7.5H6.5zM7.5 7.5H8.5V8.5H7.5zM8.5 8.5H9.5V9.5H8.5zM9.5 9.5H10.5V10.5H9.5zM10.5 10.5H11.5V11.5H10.5zM11.5 11.5H12.5V12.5H11.5zM12.5 12.5H13.5V13.5H12.5zM13.5 13.5H14.5V14.5H13.5zM14.5 14.5H15.5V15.5H14.5zM15.5 15.5H16.5V16.5H15.5zM16.5 16.5H17.5V17.5H16.5zM17.5 17.5H18.5V18.5H17.5zM18.5 18.5H19.5V19.5H18.5zM19.5 19.5H20.5V20.5H19.5zM20.5 20.5H21.5V21.5H20.5zM21.5 21.5H22.5V22.5H21.5zM22.5 22.5H23.5V23.5H22.5zM23.5 23.5H24.5V24.5H23.5zM24.5 24.5H25.5V25.5H24.5zM25.5 25.5H26.5V26.5H25.5zM26.5 26.5H27.5V27.5H26.5zM27.5 27.5H28.5V28.5H27.5zM28.5 28.5H29.5V29.5H28.5zM29.5 29.5H30.5V30.5H29.5zM30.5 30.5H31.5V31.5H30.5zM31.5 31.5H32.5V32.5H31.5zM32.5 32.5H33.5V33.5H32.5zM33.5 33.5H34.5V34.5H33.5zM34.5 34.5H35.5V35.5H34.5zM35.5 35.5H36.5V36.5H35.5zM36.5 36.5H37.5V37.5H36.5zM37.5 37.5H38.5V38.5H37.5zM38.5 38.5H39.5V39.5H38.5zM39.5 39.5H40.5V40.5H39.5zM40.5 40.5H41.5V41.5H40.5zM41.5 41.5H42.5V42.5H41.5zM42.5 42.5H43.5V43.5H42.5zM43.5 43.5H44.5V44.5H43.5zM44.5 44.5H45.5V45.5H44.5zM45.5 45.5H46.5V46.5H45.5zM46.5 46.5H47.5V47.5H46.5zM47.5 47.5H48.5V48.5H47.5zM48.5 48.5H49.5V49.5H48.5zM49.5 49.5H50.5V50.5H49.5zM50.5 50.5H51.5V51.5H50.5zM51.5 51.5H52.5V52.5H51.5zM52.5 52.5H53.5V53.5H52.5zM53.5 53.5H54.5V54.5H53.5zM54.5 54.5H55.5V55.5H54.5zM55.5 55.5H56.5V56.5H55.5zM56.5 56.5H57.5V57.5H56.5zM57.5 57.5H58.5V58.5H57.5zM58.5 58.5H59.5V59.5H58.5zM59.5 59.5H60.5V60.5H59.5zM60.5 60.5H61.5V61.5H60.5zM61.5 61.5H62.5V62.5H61.5zM62.5 62.5H63.5V63.5H62.5zM63.5 63.5H64.5V64.5H63.5zM64.5 64.5H65.5V65.5H64.5zM65.5 65.5H66.5V66.5H65.5zM66.5 66.5H67.5V67.5H66.5zM67.5 67.5H68.5V68.5H67.5zM68.5 68.5H69.5V69.5H68.5zM69.5 69.5H70.5V70.5H69.5zM70.5 70.5H71.5V71.5H70.5zM71.5 71.5H72.5V72.5H71.5zM72.5 72.5H73.5V73.5H72.5zM73.5 73.5H74.5V74.5H73.5z"/></g></g>
<g fill="none" stroke="#e81010" stroke-width="1.0"><path d="M425.08 24.40V54.34H395.10"/><rect x="425.08" y="54.34" width="28.55" height="28.51"/><rect x="453.63" y="82.85" width="25.69" height="25.66"/><rect x="479.32" y="108.50" width="25.70" height="25.66"/><rect x="505.02" y="134.16" width="22.84" height="22.81"/><rect x="527.86" y="156.97" width="22.84" height="22.81"/><rect x="550.70" y="179.78" width="19.99" height="19.96"/><rect x="570.68" y="199.74" width="19.99" height="19.96"/><rect x="590.67" y="219.69" width="17.73" height="17.01"/></g>
<rect x="395.1" y="24.4" width="214.00" height="213.20" fill="none" stroke="#000" stroke-width="1.1"/>
<path d="M395.10 19.60V24.4M390.20 24.40H395.1M452.20 19.60V24.4M390.20 81.42H395.1M509.30 19.60V24.4M390.20 138.44H395.1M566.40 19.60V24.4M390.20 195.46H395.1" stroke="#000" stroke-width="1.1" fill="none"/>
<text x="395.10" y="15.3" font-size="15.2" text-anchor="middle" textLength="8.9" lengthAdjust="spacingAndGlyphs">0</text>
<text x="387.3" y="29.60" font-size="15.2" text-anchor="end" textLength="8.9" lengthAdjust="spacingAndGlyphs">0</text>
<text x="452.20" y="15.3" font-size="15.2" text-anchor="middle" textLength="17.0" lengthAdjust="spacingAndGlyphs">20</text>
<text x="387.3" y="86.62" font-size="15.2" text-anchor="end" textLength="17.0" lengthAdjust="spacingAndGlyphs">20</text>
<text x="509.30" y="15.3" font-size="15.2" text-anchor="middle" textLength="17.0" lengthAdjust="spacingAndGlyphs">40</text>
<text x="387.3" y="143.64" font-size="15.2" text-anchor="end" textLength="17.0" lengthAdjust="spacingAndGlyphs">40</text>
<text x="566.40" y="15.3" font-size="15.2" text-anchor="middle" textLength="17.0" lengthAdjust="spacingAndGlyphs">60</text>
<text x="387.3" y="200.66" font-size="15.2" text-anchor="end" textLength="17.0" lengthAdjust="spacingAndGlyphs">60</text>
<rect x="622.2" y="24.6" width="11.00" height="212.50" fill="url(#cb)" stroke="#000" stroke-width="1.1"/>
<text x="640.6" y="243.60" font-size="15.2" text-anchor="start" textLength="21.5" lengthAdjust="spacingAndGlyphs">0.0</text>
<text x="640.6" y="200.30" font-size="15.2" text-anchor="start" textLength="21.5" lengthAdjust="spacingAndGlyphs">0.2</text>
<text x="640.6" y="157.80" font-size="15.2" text-anchor="start" textLength="21.5" lengthAdjust="spacingAndGlyphs">0.4</text>
<text x="640.6" y="115.30" font-size="15.2" text-anchor="start" textLength="21.5" lengthAdjust="spacingAndGlyphs">0.6</text>
<text x="640.6" y="72.80" font-size="15.2" text-anchor="start" textLength="21.5" lengthAdjust="spacingAndGlyphs">0.8</text>
<text x="640.6" y="30.30" font-size="15.2" text-anchor="start" textLength="21.5" lengthAdjust="spacingAndGlyphs">1.0</text>
<path d="M633.2 237.10H638.0M633.2 194.60H638.0M633.2 152.10H638.0M633.2 109.60H638.0M633.2 67.10H638.0M633.2 24.60H638.0" stroke="#000" stroke-width="1.1" fill="none"/>
<text transform="translate(680.5 130.6) rotate(-90)" font-size="18.2" text-anchor="middle" textLength="121" lengthAdjust="spacingAndGlyphs">DOS similarity</text>
</svg></body></html>
